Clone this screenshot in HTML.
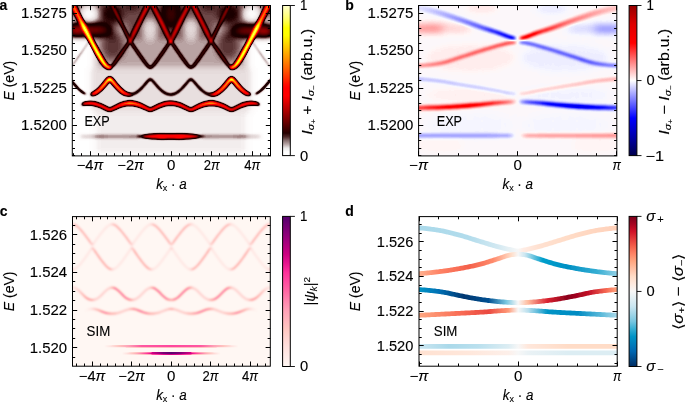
<!DOCTYPE html><html><head><meta charset="utf-8"><style>html,body{margin:0;padding:0;background:#fff;overflow:hidden}svg{display:block;will-change:transform}text{font-family:"Liberation Sans",sans-serif;fill:#000;stroke:#000;stroke-width:0.12px}</style></head><body><svg width="685" height="402" viewBox="0 0 685 402"><rect width="685" height="402" fill="#fff"/><defs><linearGradient id="ga" x1="0" y1="1" x2="0" y2="0"><stop offset="0.000" stop-color="#ffffff"/><stop offset="0.025" stop-color="#ffffff"/><stop offset="0.050" stop-color="#eae8e8"/><stop offset="0.075" stop-color="#b7a6a6"/><stop offset="0.100" stop-color="#887070"/><stop offset="0.125" stop-color="#4e2828"/><stop offset="0.150" stop-color="#270000"/><stop offset="0.175" stop-color="#3e0000"/><stop offset="0.200" stop-color="#550000"/><stop offset="0.225" stop-color="#6c0000"/><stop offset="0.250" stop-color="#820000"/><stop offset="0.275" stop-color="#980000"/><stop offset="0.300" stop-color="#ae0000"/><stop offset="0.325" stop-color="#c30000"/><stop offset="0.350" stop-color="#d80000"/><stop offset="0.375" stop-color="#ed0000"/><stop offset="0.400" stop-color="#ff0000"/><stop offset="0.425" stop-color="#ff0000"/><stop offset="0.450" stop-color="#ff0000"/><stop offset="0.475" stop-color="#ff0e00"/><stop offset="0.500" stop-color="#ff2200"/><stop offset="0.525" stop-color="#ff3600"/><stop offset="0.550" stop-color="#ff4900"/><stop offset="0.575" stop-color="#ff5c00"/><stop offset="0.600" stop-color="#ff6e00"/><stop offset="0.625" stop-color="#ff8000"/><stop offset="0.650" stop-color="#ff9300"/><stop offset="0.675" stop-color="#ffa400"/><stop offset="0.700" stop-color="#ffb600"/><stop offset="0.725" stop-color="#ffc800"/><stop offset="0.750" stop-color="#ffd900"/><stop offset="0.775" stop-color="#ffea00"/><stop offset="0.800" stop-color="#fffc00"/><stop offset="0.825" stop-color="#ffff00"/><stop offset="0.850" stop-color="#ffff00"/><stop offset="0.875" stop-color="#ffff2d"/><stop offset="0.900" stop-color="#ffff56"/><stop offset="0.925" stop-color="#ffff77"/><stop offset="0.950" stop-color="#ffff95"/><stop offset="0.975" stop-color="#ffffb2"/><stop offset="1.000" stop-color="#ffffce"/></linearGradient><linearGradient id="gb" x1="0" y1="1" x2="0" y2="0"><stop offset="0.000" stop-color="#00004c"/><stop offset="0.125" stop-color="#0000aa"/><stop offset="0.250" stop-color="#0000ff"/><stop offset="0.375" stop-color="#8181ff"/><stop offset="0.500" stop-color="#ffffff"/><stop offset="0.625" stop-color="#ff8181"/><stop offset="0.750" stop-color="#ff0000"/><stop offset="0.875" stop-color="#df0000"/><stop offset="1.000" stop-color="#950000"/></linearGradient><linearGradient id="gc" x1="0" y1="1" x2="0" y2="0"><stop offset="0.000" stop-color="#fff7f3"/><stop offset="0.062" stop-color="#ffece9"/><stop offset="0.125" stop-color="#ffe1de"/><stop offset="0.188" stop-color="#ffd4d0"/><stop offset="0.250" stop-color="#ffc6c1"/><stop offset="0.312" stop-color="#ffb3bc"/><stop offset="0.375" stop-color="#ffa0b7"/><stop offset="0.438" stop-color="#ff85ae"/><stop offset="0.500" stop-color="#ff68a4"/><stop offset="0.562" stop-color="#ff4da0"/><stop offset="0.625" stop-color="#ff319b"/><stop offset="0.688" stop-color="#e6148e"/><stop offset="0.750" stop-color="#cc0081"/><stop offset="0.812" stop-color="#ae007e"/><stop offset="0.875" stop-color="#8f007a"/><stop offset="0.938" stop-color="#720073"/><stop offset="1.000" stop-color="#54006c"/></linearGradient><linearGradient id="gd" x1="0" y1="1" x2="0" y2="0"><stop offset="0.000" stop-color="#002c62"/><stop offset="0.050" stop-color="#004a8a"/><stop offset="0.100" stop-color="#0066b0"/><stop offset="0.150" stop-color="#007dbb"/><stop offset="0.200" stop-color="#0094c6"/><stop offset="0.250" stop-color="#36aed3"/><stop offset="0.300" stop-color="#77c6e0"/><stop offset="0.350" stop-color="#a2d6e8"/><stop offset="0.400" stop-color="#cae6f1"/><stop offset="0.450" stop-color="#e1eff4"/><stop offset="0.500" stop-color="#f7f7f7"/><stop offset="0.550" stop-color="#ffeadf"/><stop offset="0.600" stop-color="#ffdcc7"/><stop offset="0.650" stop-color="#ffc1a5"/><stop offset="0.700" stop-color="#ffa781"/><stop offset="0.750" stop-color="#ff8466"/><stop offset="0.800" stop-color="#f4604b"/><stop offset="0.850" stop-color="#e33939"/><stop offset="0.900" stop-color="#d01127"/><stop offset="0.950" stop-color="#a50421"/><stop offset="1.000" stop-color="#79001a"/></linearGradient></defs><defs><clipPath id="clA"><rect x="72.3" y="5.5" width="198.2" height="150.4"/></clipPath><filter id="fA" filterUnits="userSpaceOnUse" x="60" y="0" width="225" height="165" color-interpolation-filters="sRGB"><feGaussianBlur stdDeviation="0.80"/><feComponentTransfer><feFuncR type="table" tableValues="1.000 0.993 0.986 0.962 0.935 0.907 0.879 0.830 0.745 0.659 0.571 0.480 0.386 0.289 0.187 0.105 0.105 0.105 0.105 0.140 0.181 0.222 0.262 0.301 0.341 0.380 0.418 0.456 0.494 0.532 0.570 0.607 0.644 0.681 0.718 0.755 0.792 0.828 0.864 0.900 0.936 0.972 1.000 1.000 1.000 1.000 1.000 1.000 1.000 1.000 1.000 1.000 1.000 1.000 1.000 1.000 1.000 1.000 1.000 1.000 1.000 1.000 1.000 1.000 1.000 1.000 1.000 1.000 1.000 1.000 1.000 1.000 1.000 1.000 1.000 1.000 1.000 1.000 1.000 1.000 1.000 1.000 1.000 1.000 1.000 1.000 1.000 1.000 1.000 1.000 1.000 1.000 1.000 1.000 1.000 1.000"/><feFuncG type="table" tableValues="1.000 0.988 0.976 0.944 0.907 0.870 0.832 0.769 0.662 0.554 0.443 0.338 0.240 0.139 0.033 0.000 0.000 0.000 0.000 0.000 0.000 0.000 0.000 0.000 0.000 0.000 0.000 0.000 0.000 0.000 0.000 0.000 0.000 0.000 0.000 0.000 0.000 0.000 0.000 0.000 0.000 0.000 0.000 0.000 0.000 0.000 0.000 0.003 0.021 0.054 0.090 0.125 0.159 0.193 0.226 0.259 0.292 0.324 0.356 0.388 0.420 0.452 0.483 0.514 0.545 0.576 0.607 0.637 0.668 0.698 0.729 0.759 0.789 0.819 0.849 0.878 0.908 0.938 0.967 0.997 1.000 1.000 1.000 1.000 1.000 1.000 1.000 1.000 1.000 1.000 1.000 1.000 1.000 1.000 1.000 1.000"/><feFuncB type="table" tableValues="1.000 0.988 0.976 0.944 0.907 0.870 0.832 0.769 0.662 0.554 0.443 0.338 0.240 0.139 0.033 0.000 0.000 0.000 0.000 0.000 0.000 0.000 0.000 0.000 0.000 0.000 0.000 0.000 0.000 0.000 0.000 0.000 0.000 0.000 0.000 0.000 0.000 0.000 0.000 0.000 0.000 0.000 0.000 0.000 0.000 0.000 0.000 0.000 0.000 0.000 0.000 0.000 0.000 0.000 0.000 0.000 0.000 0.000 0.000 0.000 0.000 0.000 0.000 0.000 0.000 0.000 0.000 0.000 0.000 0.000 0.000 0.000 0.000 0.000 0.000 0.000 0.000 0.000 0.000 0.000 0.000 0.000 0.000 0.000 0.000 0.128 0.217 0.287 0.349 0.407 0.462 0.515 0.567 0.617 0.667 0.715"/></feComponentTransfer></filter><filter id="fH" filterUnits="userSpaceOnUse" x="40" y="-30" width="260" height="220" color-interpolation-filters="sRGB"><feGaussianBlur stdDeviation="3.5"/></filter><linearGradient id="aoL" gradientUnits="userSpaceOnUse" x1="60.0" y1="0" x2="285.0" y2="0"><stop offset="0.0404" stop-color="#818181"/><stop offset="0.0765" stop-color="#8e8e8e"/><stop offset="0.0991" stop-color="#b0b0b0"/><stop offset="0.1216" stop-color="#e6e6e6"/><stop offset="0.1668" stop-color="#fbfbfb"/><stop offset="0.1983" stop-color="#e3e3e3"/><stop offset="0.2209" stop-color="#b0b0b0"/><stop offset="0.2299" stop-color="#000000"/></linearGradient><linearGradient id="aoR" gradientUnits="userSpaceOnUse" x1="60.0" y1="0" x2="285.0" y2="0"><stop offset="0.7532" stop-color="#000000"/><stop offset="0.7622" stop-color="#b0b0b0"/><stop offset="0.7848" stop-color="#e3e3e3"/><stop offset="0.8164" stop-color="#fbfbfb"/><stop offset="0.8615" stop-color="#e6e6e6"/><stop offset="0.8840" stop-color="#b0b0b0"/><stop offset="0.9066" stop-color="#8e8e8e"/><stop offset="0.9427" stop-color="#818181"/></linearGradient><linearGradient id="aL" gradientUnits="userSpaceOnUse" x1="60.0" y1="0" x2="285.0" y2="0"><stop offset="0.2119" stop-color="#000000"/><stop offset="0.2209" stop-color="#4a4a4a"/><stop offset="0.3111" stop-color="#464646"/><stop offset="0.6720" stop-color="#464646"/><stop offset="0.7622" stop-color="#4a4a4a"/><stop offset="0.7712" stop-color="#000000"/></linearGradient><linearGradient id="aLo1" gradientUnits="userSpaceOnUse" x1="60.0" y1="0" x2="285.0" y2="0"><stop offset="0.0404" stop-color="#292929"/><stop offset="0.0856" stop-color="#2d2d2d"/><stop offset="0.1216" stop-color="#212121"/><stop offset="0.1307" stop-color="#000000"/></linearGradient><linearGradient id="aLo2" gradientUnits="userSpaceOnUse" x1="60.0" y1="0" x2="285.0" y2="0"><stop offset="0.8524" stop-color="#000000"/><stop offset="0.8615" stop-color="#212121"/><stop offset="0.8976" stop-color="#2d2d2d"/><stop offset="0.9427" stop-color="#292929"/></linearGradient><linearGradient id="aU" gradientUnits="userSpaceOnUse" x1="60.0" y1="0" x2="285.0" y2="0"><stop offset="0.2119" stop-color="#000000"/><stop offset="0.2209" stop-color="#434343"/><stop offset="0.3021" stop-color="#4b4b4b"/><stop offset="0.3201" stop-color="#474747"/><stop offset="0.3923" stop-color="#4c4c4c"/><stop offset="0.4104" stop-color="#474747"/><stop offset="0.5728" stop-color="#474747"/><stop offset="0.5908" stop-color="#4c4c4c"/><stop offset="0.6630" stop-color="#474747"/><stop offset="0.6810" stop-color="#4b4b4b"/><stop offset="0.7622" stop-color="#434343"/><stop offset="0.7712" stop-color="#000000"/></linearGradient><linearGradient id="ab2" gradientUnits="userSpaceOnUse" x1="60.0" y1="0" x2="285.0" y2="0"><stop offset="0.0404" stop-color="#767676"/><stop offset="0.1081" stop-color="#6d6d6d"/><stop offset="0.1198" stop-color="#000000"/><stop offset="0.1325" stop-color="#000000"/><stop offset="0.1487" stop-color="#9d9d9d"/><stop offset="0.2028" stop-color="#cccccc"/><stop offset="0.2209" stop-color="#f0f0f0"/><stop offset="0.2389" stop-color="#c3c3c3"/><stop offset="0.2840" stop-color="#acacac"/><stop offset="0.3111" stop-color="#7c7c7c"/><stop offset="0.3246" stop-color="#464646"/><stop offset="0.6585" stop-color="#464646"/><stop offset="0.6720" stop-color="#7c7c7c"/><stop offset="0.6991" stop-color="#acacac"/><stop offset="0.7442" stop-color="#c3c3c3"/><stop offset="0.7622" stop-color="#f0f0f0"/><stop offset="0.7803" stop-color="#cccccc"/><stop offset="0.8164" stop-color="#a6a6a6"/><stop offset="0.8389" stop-color="#8a8a8a"/><stop offset="0.8506" stop-color="#000000"/><stop offset="0.8633" stop-color="#000000"/><stop offset="0.8750" stop-color="#6d6d6d"/><stop offset="0.9427" stop-color="#767676"/></linearGradient><linearGradient id="ab3" gradientUnits="userSpaceOnUse" x1="60.0" y1="0" x2="285.0" y2="0"><stop offset="0.0901" stop-color="#000000"/><stop offset="0.1081" stop-color="#7d7d7d"/><stop offset="0.1307" stop-color="#888888"/><stop offset="0.2209" stop-color="#828282"/><stop offset="0.2660" stop-color="#909090"/><stop offset="0.3111" stop-color="#b3b3b3"/><stop offset="0.3472" stop-color="#a8a8a8"/><stop offset="0.4013" stop-color="#828282"/><stop offset="0.4464" stop-color="#858585"/><stop offset="0.4916" stop-color="#8d8d8d"/><stop offset="0.5367" stop-color="#858585"/><stop offset="0.5818" stop-color="#828282"/><stop offset="0.6359" stop-color="#a8a8a8"/><stop offset="0.6720" stop-color="#b3b3b3"/><stop offset="0.7171" stop-color="#909090"/><stop offset="0.7622" stop-color="#828282"/><stop offset="0.8524" stop-color="#888888"/><stop offset="0.8750" stop-color="#7d7d7d"/><stop offset="0.8930" stop-color="#000000"/></linearGradient><linearGradient id="ab4" gradientUnits="userSpaceOnUse" x1="60.0" y1="0" x2="285.0" y2="0"><stop offset="0.0765" stop-color="#000000"/><stop offset="0.1036" stop-color="#0e0e0e"/><stop offset="0.1668" stop-color="#111111"/><stop offset="0.2209" stop-color="#0e0e0e"/><stop offset="0.3382" stop-color="#0f0f0f"/><stop offset="0.3607" stop-color="#2d2d2d"/><stop offset="0.3743" stop-color="#5b5b5b"/><stop offset="0.4013" stop-color="#6d6d6d"/><stop offset="0.4464" stop-color="#767676"/><stop offset="0.4916" stop-color="#6e6e6e"/><stop offset="0.5367" stop-color="#767676"/><stop offset="0.5818" stop-color="#6d6d6d"/><stop offset="0.6088" stop-color="#5b5b5b"/><stop offset="0.6224" stop-color="#2d2d2d"/><stop offset="0.6449" stop-color="#0f0f0f"/><stop offset="0.7622" stop-color="#0e0e0e"/><stop offset="0.8164" stop-color="#111111"/><stop offset="0.8795" stop-color="#0e0e0e"/><stop offset="0.9066" stop-color="#000000"/></linearGradient></defs><g clip-path="url(#clA)"><g filter="url(#fA)"><rect x="60" y="0" width="225" height="165" fill="#000"/><g filter="url(#fH)"><rect x="60.0" y="-10.0" width="225.0" height="48.0" fill="#1f1f1f" style="mix-blend-mode:plus-lighter"/><rect x="94.0" y="38.0" width="154.0" height="30.0" fill="#161616" style="mix-blend-mode:plus-lighter"/><rect x="90.0" y="68.0" width="162.0" height="44.0" fill="#0d0d0d" style="mix-blend-mode:plus-lighter"/><rect x="95.0" y="112.0" width="152.0" height="42.0" fill="#090909" style="mix-blend-mode:plus-lighter"/><ellipse cx="112.0" cy="14.0" rx="11.0" ry="9.0" fill="#0a0a0a" style="mix-blend-mode:plus-lighter"/><ellipse cx="229.0" cy="14.0" rx="11.0" ry="9.0" fill="#0a0a0a" style="mix-blend-mode:plus-lighter"/><ellipse cx="171.0" cy="14.0" rx="8.0" ry="12.0" fill="#1a1a1a" style="mix-blend-mode:plus-lighter"/><ellipse cx="132.0" cy="6.0" rx="8.0" ry="4.0" fill="#080808" style="mix-blend-mode:plus-lighter"/><ellipse cx="209.0" cy="6.0" rx="8.0" ry="4.0" fill="#080808" style="mix-blend-mode:plus-lighter"/><ellipse cx="113.0" cy="47.0" rx="11.0" ry="13.0" fill="#0b0b0b" style="mix-blend-mode:plus-lighter"/><ellipse cx="228.0" cy="47.0" rx="11.0" ry="13.0" fill="#0b0b0b" style="mix-blend-mode:plus-lighter"/><ellipse cx="88.0" cy="30.0" rx="22.0" ry="4.5" fill="#333333" style="mix-blend-mode:plus-lighter"/><ellipse cx="253.0" cy="31.0" rx="20.0" ry="4.5" fill="#333333" style="mix-blend-mode:plus-lighter"/><ellipse cx="76.0" cy="30.0" rx="6.0" ry="4.0" fill="#262626" style="mix-blend-mode:plus-lighter"/><ellipse cx="266.0" cy="31.0" rx="6.0" ry="4.0" fill="#262626" style="mix-blend-mode:plus-lighter"/><ellipse cx="89.0" cy="14.0" rx="9.0" ry="9.0" fill="#000" fill-opacity="0.90"/><ellipse cx="252.0" cy="14.0" rx="9.0" ry="9.0" fill="#000" fill-opacity="0.90"/><ellipse cx="73.0" cy="22.0" rx="3.0" ry="6.0" fill="#000" fill-opacity="0.80"/><ellipse cx="268.0" cy="22.0" rx="3.0" ry="6.0" fill="#000" fill-opacity="0.80"/><ellipse cx="150.0" cy="29.0" rx="8.0" ry="11.0" fill="#000" fill-opacity="0.50"/><ellipse cx="191.0" cy="29.0" rx="8.0" ry="11.0" fill="#000" fill-opacity="0.50"/><ellipse cx="122.0" cy="30.0" rx="5.0" ry="8.0" fill="#000" fill-opacity="0.30"/><ellipse cx="219.0" cy="30.0" rx="5.0" ry="8.0" fill="#000" fill-opacity="0.30"/><ellipse cx="78.0" cy="62.0" rx="8.0" ry="24.0" fill="#000" fill-opacity="0.80"/><ellipse cx="263.0" cy="62.0" rx="8.0" ry="24.0" fill="#000" fill-opacity="0.80"/></g><path d="M60.0 -24.5 61.0 -22.6 62.0 -20.6 63.0 -18.6 64.0 -16.6 65.0 -14.6 66.0 -12.6 67.0 -10.7 68.0 -8.7 69.0 -6.7 70.0 -4.7 71.0 -2.7 72.0 -0.8 73.0 1.2 74.0 3.2 75.0 5.2 76.0 7.1 77.0 9.1 78.0 11.1 79.0 13.1 80.0 15.1 81.0 17.1 82.0 19.1 83.0 21.1 84.0 23.1 85.0 25.1 86.0 27.1 87.0 29.1 88.0 31.0 89.0 32.9 90.0 34.9 91.0 36.8 92.0 38.7 93.0 40.6 94.0 42.5 95.0 44.3 96.0 46.2 97.0 48.1 98.0 49.9 99.0 51.8 100.0 53.6 101.0 55.4 102.0 57.1 103.0 58.8 104.0 60.4 105.0 61.9 106.0 63.3 107.0 64.5 108.0 65.5 109.0 66.0 110.0 66.3 111.0 66.3 111.0 68.2 110.0 68.7 109.0 68.8 108.0 68.6 107.0 68.2 106.0 67.6 105.0 66.8 104.0 65.8 103.0 64.6 102.0 63.3 101.0 61.9 100.0 60.3 99.0 58.8 98.0 57.1 97.0 55.4 96.0 53.7 95.0 51.9 94.0 50.1 93.0 48.2 92.0 46.4 91.0 44.5 90.0 42.6 89.0 40.7 88.0 38.8 87.0 36.9 86.0 35.0 85.0 33.1 84.0 31.3 83.0 29.4 82.0 27.5 81.0 25.6 80.0 23.7 79.0 21.7 78.0 19.8 77.0 17.9 76.0 15.9 75.0 14.0 74.0 12.0 73.0 10.0 72.0 8.1 71.0 6.1 70.0 4.1 69.0 2.2 68.0 0.2 67.0 -1.8 66.0 -3.8 65.0 -5.7 64.0 -7.7 63.0 -9.7 62.0 -11.7 61.0 -13.7 60.0 -15.7Z" fill="url(#aoL)" style="mix-blend-mode:plus-lighter"/><path d="M229.5 66.0 230.5 66.3 231.5 66.2 232.5 65.9 233.5 65.3 234.5 64.2 235.5 63.0 236.5 61.5 237.5 60.0 238.5 58.4 239.5 56.7 240.5 54.9 241.5 53.1 242.5 51.3 243.5 49.4 244.5 47.6 245.5 45.7 246.5 43.8 247.5 42.0 248.5 40.1 249.5 38.2 250.5 36.3 251.5 34.3 252.5 32.4 253.5 30.5 254.5 28.5 255.5 26.5 256.5 24.6 257.5 22.6 258.5 20.6 259.5 18.6 260.5 16.6 261.5 14.6 262.5 12.6 263.5 10.5 264.5 8.6 265.5 6.6 266.5 4.6 267.5 2.6 268.5 0.7 269.5 -1.3 270.5 -3.3 271.5 -5.3 272.5 -7.2 273.5 -9.2 274.5 -11.2 275.5 -13.2 276.5 -15.2 277.5 -17.1 278.5 -19.1 279.5 -21.1 280.5 -23.1 281.5 -25.1 282.5 -27.1 283.5 -29.0 284.5 -31.0 284.5 -22.1 283.5 -20.2 282.5 -18.2 281.5 -16.2 280.5 -14.2 279.5 -12.2 278.5 -10.2 277.5 -8.3 276.5 -6.3 275.5 -4.3 274.5 -2.3 273.5 -0.3 272.5 1.6 271.5 3.6 270.5 5.6 269.5 7.5 268.5 9.5 267.5 11.5 266.5 13.4 265.5 15.4 264.5 17.4 263.5 19.3 262.5 21.2 261.5 23.1 260.5 25.0 259.5 26.9 258.5 28.8 257.5 30.7 256.5 32.6 255.5 34.5 254.5 36.4 253.5 38.3 252.5 40.2 251.5 42.1 250.5 44.0 249.5 45.9 248.5 47.7 247.5 49.6 246.5 51.4 245.5 53.2 244.5 55.0 243.5 56.7 242.5 58.3 241.5 59.9 240.5 61.5 239.5 62.9 238.5 64.3 237.5 65.5 236.5 66.6 235.5 67.4 234.5 68.1 233.5 68.5 232.5 68.8 231.5 68.8 230.5 68.4 229.5 67.7Z" fill="url(#aoR)" style="mix-blend-mode:plus-lighter"/><path d="M107.7 65.5 108.7 66.3 109.7 66.7 110.7 66.4 111.7 65.5 112.7 64.3 113.7 63.0 114.7 61.7 115.7 60.3 116.7 58.9 117.7 57.5 118.7 56.1 119.7 54.7 120.7 53.2 121.7 51.8 122.7 50.3 123.7 48.9 124.7 47.4 125.7 46.0 126.7 44.5 127.7 43.1 128.7 41.6 129.7 40.6 130.7 40.9 131.7 42.1 132.7 43.6 133.7 45.0 134.7 46.5 135.7 47.9 136.7 49.4 137.7 50.8 138.7 52.3 139.7 53.7 140.7 55.2 141.7 56.6 142.7 58.0 143.7 59.4 144.7 60.8 145.7 62.2 146.7 63.5 147.7 64.7 148.7 65.8 149.7 66.6 150.7 66.7 151.7 66.1 152.7 65.0 153.7 63.8 154.7 62.5 155.7 61.2 156.7 59.8 157.7 58.4 158.7 57.0 159.7 55.5 160.7 54.1 161.7 52.7 162.7 51.2 163.7 49.8 164.7 48.3 165.7 46.9 166.7 45.4 167.7 44.0 168.7 42.5 169.7 41.1 170.7 40.3 171.7 41.2 172.7 42.7 173.7 44.2 174.7 45.6 175.7 47.1 176.7 48.5 177.7 50.0 178.7 51.4 179.7 52.9 180.7 54.3 181.7 55.7 182.7 57.2 183.7 58.6 184.7 60.0 185.7 61.3 186.7 62.7 187.7 64.0 188.7 65.2 189.7 66.2 190.7 66.7 191.7 66.5 192.7 65.7 193.7 64.5 194.7 63.3 195.7 62.0 196.7 60.6 197.7 59.2 198.7 57.8 199.7 56.4 200.7 55.0 201.7 53.5 202.7 52.1 203.7 50.6 204.7 49.2 205.7 47.7 206.7 46.3 207.7 44.8 208.7 43.4 209.7 41.9 210.7 40.8 211.7 40.8 212.7 41.8 213.7 43.3 214.7 44.7 215.7 46.2 216.7 47.6 217.7 49.1 218.7 50.6 219.7 52.0 220.7 53.4 221.7 54.9 222.7 56.3 223.7 57.7 224.7 59.1 225.7 60.5 226.7 61.9 227.7 63.2 228.7 64.5 229.7 65.6 230.7 66.5 231.7 66.7 232.7 66.3 232.7 67.9 231.7 68.2 230.7 68.1 229.7 67.6 228.7 66.7 227.7 65.6 226.7 64.4 225.7 63.1 224.7 61.7 223.7 60.3 222.7 58.9 221.7 57.5 220.7 56.1 219.7 54.6 218.7 53.2 217.7 51.7 216.7 50.3 215.7 48.8 214.7 47.4 213.7 45.9 212.7 44.5 211.7 42.6 210.7 42.7 209.7 44.6 208.7 46.0 207.7 47.5 206.7 48.9 205.7 50.4 204.7 51.8 203.7 53.3 202.7 54.7 201.7 56.1 200.7 57.6 199.7 59.0 198.7 60.4 197.7 61.8 196.7 63.1 195.7 64.4 194.7 65.7 193.7 66.8 192.7 67.6 191.7 68.1 190.7 68.2 189.7 68.0 188.7 67.3 187.7 66.3 186.7 65.1 185.7 63.8 184.7 62.5 183.7 61.1 182.7 59.8 181.7 58.3 180.7 56.9 179.7 55.5 178.7 54.1 177.7 52.6 176.7 51.2 175.7 49.7 174.7 48.3 173.7 46.8 172.7 45.3 171.7 43.9 170.7 41.9 169.7 43.6 168.7 45.1 167.7 46.6 166.7 48.1 165.7 49.5 164.7 51.0 163.7 52.4 162.7 53.9 161.7 55.3 160.7 56.7 159.7 58.1 158.7 59.6 157.7 61.0 156.7 62.3 155.7 63.7 154.7 64.9 153.7 66.1 152.7 67.1 151.7 67.9 150.7 68.2 149.7 68.2 148.7 67.7 147.7 66.9 146.7 65.8 145.7 64.6 144.7 63.3 143.7 62.0 142.7 60.6 141.7 59.2 140.7 57.8 139.7 56.3 138.7 54.9 137.7 53.5 136.7 52.0 135.7 50.6 134.7 49.1 133.7 47.7 132.7 46.2 131.7 44.8 130.7 43.0 129.7 42.3 128.7 44.3 127.7 45.7 126.7 47.2 125.7 48.6 124.7 50.1 123.7 51.5 122.7 53.0 121.7 54.4 120.7 55.9 119.7 57.3 118.7 58.7 117.7 60.1 116.7 61.5 115.7 62.9 114.7 64.2 113.7 65.4 112.7 66.6 111.7 67.5 110.7 68.1 109.7 68.2 108.7 68.0 107.7 67.4Z" fill="url(#aL)" style="mix-blend-mode:plus-lighter"/><path d="M69.1 66.8 70.1 66.4 71.1 65.5 72.1 64.3 73.1 63.1 74.1 61.7 75.1 60.4 76.1 59.0 77.1 57.6 78.1 56.1 79.1 54.7 80.1 53.3 81.1 51.8 82.1 50.4 83.1 48.9 84.1 47.5 85.1 46.0 86.1 44.6 87.1 43.1 88.1 41.7 89.1 40.2 89.1 42.7 88.1 44.1 87.1 45.6 86.1 47.1 85.1 48.5 84.1 50.0 83.1 51.4 82.1 52.9 81.1 54.3 80.1 55.7 79.1 57.2 78.1 58.6 77.1 60.0 76.1 61.4 75.1 62.7 74.1 64.1 73.1 65.3 72.1 66.5 71.1 67.4 70.1 68.0 69.1 68.2Z" fill="url(#aLo1)" style="mix-blend-mode:plus-lighter"/><path d="M251.8 39.8 252.8 41.2 253.8 42.7 254.8 44.1 255.8 45.6 256.8 47.1 257.8 48.5 258.8 50.0 259.8 51.4 260.8 52.8 261.8 54.3 262.8 55.7 263.8 57.1 264.8 58.6 265.8 60.0 266.8 61.3 267.8 62.7 268.8 64.0 269.8 65.2 270.8 66.2 271.8 66.7 271.8 68.2 270.8 67.9 269.8 67.1 268.8 66.1 267.8 64.9 266.8 63.7 265.8 62.3 264.8 61.0 263.8 59.6 262.8 58.2 261.8 56.7 260.8 55.3 259.8 53.9 258.8 52.4 257.8 51.0 256.8 49.5 255.8 48.1 254.8 46.6 253.8 45.2 252.8 43.7 251.8 42.2Z" fill="url(#aLo2)" style="mix-blend-mode:plus-lighter"/><path d="M107.7 2.8 108.7 1.2 109.7 0.7 110.7 1.2 111.7 2.7 112.7 4.6 113.7 6.6 114.7 8.5 115.7 10.5 116.7 12.5 117.7 14.5 118.7 16.5 119.7 18.5 120.7 20.5 121.7 22.5 122.7 24.5 123.7 26.5 124.7 28.5 125.7 30.5 126.7 32.5 127.7 34.5 128.7 36.2 129.7 38.9 130.7 37.2 131.7 33.8 132.7 31.6 133.7 29.6 134.7 27.6 135.7 25.6 136.7 23.6 137.7 21.6 138.7 19.6 139.7 17.6 140.7 15.6 141.7 13.6 142.7 11.6 143.7 9.6 144.7 7.6 145.7 5.6 146.7 3.7 147.7 1.8 148.7 0.0 149.7 -0.5 150.7 -0.4 151.7 -0.3 152.7 1.3 153.7 3.2 154.7 5.1 155.7 7.1 156.7 9.1 157.7 11.1 158.7 13.1 159.7 15.1 160.7 17.1 161.7 19.1 162.7 21.1 163.7 23.1 164.7 25.1 165.7 27.1 166.7 29.1 167.7 31.1 168.7 33.1 169.7 35.3 170.7 39.0 171.7 34.8 172.7 32.8 173.7 30.8 174.7 28.8 175.7 26.8 176.7 24.8 177.7 22.8 178.7 20.8 179.7 18.8 180.7 16.8 181.7 14.8 182.7 12.8 183.7 10.8 184.7 8.8 185.7 6.8 186.7 4.8 187.7 2.9 188.7 1.0 189.7 -0.5 190.7 -0.3 191.7 -0.6 192.7 0.2 193.7 2.0 194.7 3.9 195.7 5.9 196.7 7.9 197.7 9.9 198.7 11.9 199.7 13.9 200.7 15.9 201.7 17.9 202.7 19.9 203.7 21.9 204.7 23.9 205.7 25.9 206.7 27.9 207.7 29.9 208.7 31.9 209.7 34.2 210.7 37.9 211.7 38.4 212.7 36.0 213.7 34.3 214.7 32.3 215.7 30.3 216.7 28.2 217.7 26.2 218.7 24.2 219.7 22.2 220.7 20.2 221.7 18.2 222.7 16.2 223.7 14.2 224.7 12.2 225.7 10.2 226.7 8.3 227.7 6.3 228.7 4.3 229.7 2.4 230.7 1.0 231.7 0.7 232.7 1.6 232.7 4.3 231.7 2.4 230.7 3.7 229.7 5.8 228.7 7.8 227.7 9.8 226.7 11.8 225.7 13.8 224.7 15.8 223.7 17.8 222.7 19.8 221.7 21.8 220.7 23.8 219.7 25.8 218.7 27.8 217.7 29.8 216.7 31.8 215.7 33.8 214.7 35.8 213.7 37.8 212.7 40.2 211.7 41.7 210.7 42.0 209.7 41.7 208.7 40.0 207.7 38.0 206.7 36.0 205.7 33.9 204.7 31.9 203.7 29.9 202.7 27.9 201.7 25.9 200.7 23.9 199.7 21.9 198.7 19.9 197.7 17.9 196.7 15.9 195.7 13.9 194.7 11.9 193.7 9.9 192.7 7.8 191.7 5.1 190.7 3.5 189.7 6.5 188.7 8.8 187.7 10.8 186.7 12.8 185.7 14.8 184.7 16.8 183.7 18.8 182.7 20.8 181.7 22.9 180.7 24.9 179.7 26.9 178.7 28.9 177.7 30.9 176.7 32.9 175.7 34.9 174.7 36.9 173.7 38.9 172.7 40.9 171.7 42.9 170.7 42.7 169.7 42.9 168.7 41.2 167.7 39.2 166.7 37.2 165.7 35.2 164.7 33.1 163.7 31.1 162.7 29.1 161.7 27.1 160.7 25.1 159.7 23.1 158.7 21.1 157.7 19.1 156.7 17.1 155.7 15.1 154.7 13.1 153.7 11.1 152.7 9.1 151.7 6.9 150.7 3.8 149.7 4.6 148.7 7.5 147.7 9.6 146.7 11.6 145.7 13.6 144.7 15.6 143.7 17.6 142.7 19.6 141.7 21.7 140.7 23.7 139.7 25.7 138.7 27.7 137.7 29.7 136.7 31.7 135.7 33.7 134.7 35.7 133.7 37.7 132.7 39.7 131.7 41.5 130.7 42.1 129.7 41.8 128.7 40.5 127.7 38.1 126.7 36.1 125.7 34.1 124.7 32.1 123.7 30.1 122.7 28.1 121.7 26.1 120.7 24.1 119.7 22.1 118.7 20.1 117.7 18.1 116.7 16.1 115.7 14.1 114.7 12.1 113.7 10.1 112.7 8.1 111.7 6.1 110.7 4.0 109.7 2.3 108.7 4.1 107.7 6.2Z" fill="url(#aU)" style="mix-blend-mode:plus-lighter"/><path d="M60.0 87.6 61.0 86.6 62.0 85.4 63.0 84.3 64.0 83.1 65.0 81.9 66.0 80.7 67.0 79.7 68.0 78.9 69.0 78.6 70.0 78.8 71.0 79.5 72.0 80.5 73.0 81.7 74.0 82.9 75.0 84.1 76.0 85.2 77.0 86.3 78.0 87.4 79.0 88.4 80.0 89.4 81.0 90.3 82.0 91.1 83.0 91.8 84.0 92.4 85.0 92.9 86.0 93.3 87.0 93.6 88.0 93.7 89.0 93.6 90.0 93.5 91.0 93.3 92.0 93.0 93.0 92.6 94.0 92.1 95.0 91.5 96.0 90.8 97.0 90.0 98.0 89.2 99.0 88.2 100.0 87.2 101.0 86.1 102.0 85.0 103.0 83.8 104.0 82.6 105.0 81.3 106.0 80.1 107.0 79.0 108.0 78.1 109.0 77.6 110.0 77.6 111.0 77.8 112.0 78.6 113.0 79.6 114.0 80.8 115.0 82.0 116.0 83.3 117.0 84.5 118.0 85.6 119.0 86.7 120.0 87.7 121.0 88.7 122.0 89.6 123.0 90.4 124.0 91.2 125.0 91.9 126.0 92.5 127.0 92.9 128.0 93.3 129.0 93.6 130.0 93.7 131.0 93.7 132.0 93.6 133.0 93.5 134.0 93.1 135.0 92.6 136.0 92.0 137.0 91.3 138.0 90.6 139.0 89.7 140.0 88.8 141.0 87.8 142.0 86.8 143.0 85.7 144.0 84.5 145.0 83.3 146.0 82.1 147.0 81.0 148.0 79.9 149.0 79.0 150.0 78.6 151.0 78.7 152.0 79.3 153.0 80.3 154.0 81.4 155.0 82.6 156.0 83.8 157.0 85.0 158.0 86.1 159.0 87.2 160.0 88.2 161.0 89.2 162.0 90.1 163.0 90.9 164.0 91.6 165.0 92.3 166.0 92.8 167.0 93.2 168.0 93.6 169.0 93.8 170.0 93.9 171.0 93.9 172.0 93.8 173.0 93.6 174.0 93.3 175.0 92.9 176.0 92.4 177.0 91.8 178.0 91.1 179.0 90.3 180.0 89.4 181.0 88.4 182.0 87.4 183.0 86.3 184.0 85.2 185.0 84.1 186.0 82.9 187.0 81.7 188.0 80.5 189.0 79.5 190.0 78.8 191.0 78.6 192.0 78.9 193.0 79.7 194.0 80.7 195.0 81.9 196.0 83.1 197.0 84.3 198.0 85.4 199.0 86.6 200.0 87.6 201.0 88.6 202.0 89.6 203.0 90.4 204.0 91.2 205.0 91.9 206.0 92.5 207.0 93.0 208.0 93.4 209.0 93.6 210.0 93.7 211.0 93.7 212.0 93.6 213.0 93.4 214.0 93.0 215.0 92.6 216.0 92.0 217.0 91.3 218.0 90.6 219.0 89.8 220.0 88.9 221.0 87.9 222.0 86.9 223.0 85.8 224.0 84.7 225.0 83.5 226.0 82.3 227.0 81.1 228.0 79.9 229.0 78.8 230.0 77.9 231.0 77.6 232.0 77.6 233.0 77.9 234.0 78.8 235.0 79.9 236.0 81.1 237.0 82.3 238.0 83.5 239.0 84.7 240.0 85.8 241.0 86.9 242.0 88.0 243.0 88.9 244.0 89.8 245.0 90.7 246.0 91.4 247.0 92.1 248.0 92.6 249.0 93.1 250.0 93.5 251.0 93.8 252.0 93.9 253.0 93.9 254.0 93.7 255.0 93.4 256.0 93.0 257.0 92.5 258.0 91.9 259.0 91.2 260.0 90.4 261.0 89.6 262.0 88.6 263.0 87.6 264.0 86.6 265.0 85.4 266.0 84.3 267.0 83.1 268.0 81.9 269.0 80.7 270.0 79.7 271.0 78.9 272.0 78.6 273.0 78.8 274.0 79.5 275.0 80.5 276.0 81.7 277.0 82.9 278.0 84.1 279.0 85.2 280.0 86.3 281.0 87.4 282.0 88.4 283.0 89.4 284.0 90.3 285.0 91.0 285.0 92.7 284.0 91.9 283.0 91.1 282.0 90.2 281.0 89.3 280.0 88.2 279.0 87.2 278.0 86.0 277.0 84.9 276.0 83.7 275.0 82.5 274.0 81.3 273.0 80.3 272.0 79.9 271.0 80.5 270.0 81.5 269.0 82.7 268.0 83.9 267.0 85.1 266.0 86.3 265.0 87.4 264.0 88.5 263.0 89.5 262.0 90.4 261.0 91.3 260.0 92.1 259.0 92.8 258.0 93.4 257.0 94.0 256.0 94.4 255.0 94.8 254.0 95.0 253.0 95.2 252.0 95.2 251.0 95.3 250.0 95.3 249.0 95.3 248.0 95.1 247.0 94.8 246.0 94.4 245.0 93.9 244.0 93.3 243.0 92.6 242.0 91.8 241.0 90.9 240.0 90.0 239.0 89.0 238.0 88.0 237.0 86.9 236.0 85.7 235.0 84.5 234.0 83.3 233.0 82.1 232.0 81.0 231.0 81.0 230.0 82.1 229.0 83.3 228.0 84.5 227.0 85.7 226.0 86.9 225.0 88.0 224.0 89.0 223.0 90.0 222.0 91.0 221.0 91.8 220.0 92.6 219.0 93.3 218.0 94.0 217.0 94.5 216.0 94.9 215.0 95.2 214.0 95.4 213.0 95.5 212.0 95.5 211.0 95.5 210.0 95.3 209.0 95.1 208.0 94.8 207.0 94.4 206.0 94.0 205.0 93.4 204.0 92.8 203.0 92.1 202.0 91.3 201.0 90.4 200.0 89.5 199.0 88.5 198.0 87.4 197.0 86.3 196.0 85.1 195.0 83.9 194.0 82.7 193.0 81.5 192.0 80.5 191.0 79.9 190.0 80.3 189.0 81.3 188.0 82.5 187.0 83.7 186.0 84.9 185.0 86.0 184.0 87.2 183.0 88.2 182.0 89.3 181.0 90.2 180.0 91.1 179.0 91.9 178.0 92.7 177.0 93.3 176.0 93.9 175.0 94.3 174.0 94.7 173.0 95.0 172.0 95.2 171.0 95.2 170.0 95.2 169.0 95.1 168.0 94.9 167.0 94.6 166.0 94.2 165.0 93.8 164.0 93.2 163.0 92.5 162.0 91.8 161.0 90.9 160.0 90.0 159.0 89.1 158.0 88.0 157.0 86.9 156.0 85.8 155.0 84.6 154.0 83.4 153.0 82.3 152.0 81.1 151.0 80.1 150.0 79.9 149.0 80.7 148.0 81.8 147.0 83.0 146.0 84.2 145.0 85.3 144.0 86.5 143.0 87.6 142.0 88.7 141.0 89.7 140.0 90.6 139.0 91.4 138.0 92.2 137.0 92.9 136.0 93.5 135.0 94.1 134.0 94.5 133.0 94.8 132.0 95.1 131.0 95.4 130.0 95.5 129.0 95.5 128.0 95.5 127.0 95.3 126.0 95.1 125.0 94.8 124.0 94.4 123.0 93.8 122.0 93.2 121.0 92.5 120.0 91.7 119.0 90.8 118.0 89.8 117.0 88.8 116.0 87.8 115.0 86.6 114.0 85.5 113.0 84.3 112.0 83.1 111.0 81.8 110.0 80.9 109.0 81.2 108.0 82.3 107.0 83.6 106.0 84.8 105.0 85.9 104.0 87.1 103.0 88.2 102.0 89.2 101.0 90.2 100.0 91.1 99.0 91.9 98.0 92.7 97.0 93.4 96.0 94.0 95.0 94.5 94.0 95.0 93.0 95.3 92.0 95.5 91.0 95.6 90.0 95.7 89.0 95.6 88.0 95.3 87.0 95.0 86.0 94.7 85.0 94.3 84.0 93.9 83.0 93.3 82.0 92.7 81.0 91.9 80.0 91.1 79.0 90.2 78.0 89.3 77.0 88.2 76.0 87.2 75.0 86.0 74.0 84.9 73.0 83.7 72.0 82.5 71.0 81.3 70.0 80.3 69.0 79.9 68.0 80.5 67.0 81.5 66.0 82.7 65.0 83.9 64.0 85.1 63.0 86.3 62.0 87.4 61.0 88.5 60.0 89.5Z" fill="url(#ab2)" style="mix-blend-mode:plus-lighter"/><path d="M80.3 103.8 81.3 103.4 82.3 103.0 83.3 102.6 84.3 102.3 85.3 102.1 86.3 102.0 87.3 101.8 88.3 101.7 89.3 101.7 90.3 101.7 91.3 101.8 92.3 101.9 93.3 102.1 94.3 102.2 95.3 102.5 96.3 102.7 97.3 103.0 98.3 103.4 99.3 103.8 100.3 104.2 101.3 104.6 102.3 105.1 103.3 105.5 104.3 106.0 105.3 106.5 106.3 107.1 107.3 107.6 108.3 108.1 109.3 108.5 110.3 108.5 111.3 108.1 112.3 107.5 113.3 107.0 114.3 106.5 115.3 105.9 116.3 105.4 117.3 104.9 118.3 104.5 119.3 104.1 120.3 103.6 121.3 103.3 122.3 102.9 123.3 102.6 124.3 102.3 125.3 102.1 126.3 101.9 127.3 101.7 128.3 101.6 129.3 101.5 130.3 101.5 131.3 101.6 132.3 101.7 133.3 101.8 134.3 102.0 135.3 102.2 136.3 102.4 137.3 102.7 138.3 103.1 139.3 103.4 140.3 103.8 141.3 104.2 142.3 104.7 143.3 105.2 144.3 105.7 145.3 106.2 146.3 106.7 147.3 107.3 148.3 107.8 149.3 108.3 150.3 108.6 151.3 108.3 152.3 107.8 153.3 107.3 154.3 106.8 155.3 106.2 156.3 105.7 157.3 105.2 158.3 104.8 159.3 104.3 160.3 103.9 161.3 103.5 162.3 103.2 163.3 102.8 164.3 102.6 165.3 102.3 166.3 102.1 167.3 102.0 168.3 101.8 169.3 101.7 170.3 101.7 171.3 101.7 172.3 101.8 173.3 101.9 174.3 102.0 175.3 102.2 176.3 102.4 177.3 102.7 178.3 102.9 179.3 103.3 180.3 103.6 181.3 104.0 182.3 104.5 183.3 104.9 184.3 105.4 185.3 105.9 186.3 106.4 187.3 107.0 188.3 107.5 189.3 108.0 190.3 108.5 191.3 108.6 192.3 108.2 193.3 107.6 194.3 107.1 195.3 106.5 196.3 106.0 197.3 105.5 198.3 105.0 199.3 104.5 200.3 104.1 201.3 103.7 202.3 103.3 203.3 102.9 204.3 102.6 205.3 102.4 206.3 102.1 207.3 101.9 208.3 101.7 209.3 101.6 210.3 101.5 211.3 101.5 212.3 101.6 213.3 101.6 214.3 101.8 215.3 102.0 216.3 102.2 217.3 102.4 218.3 102.7 219.3 103.0 220.3 103.4 221.3 103.8 222.3 104.2 223.3 104.6 224.3 105.1 225.3 105.6 226.3 106.1 227.3 106.6 228.3 107.2 229.3 107.7 230.3 108.2 231.3 108.6 232.3 108.4 233.3 108.0 234.3 107.4 235.3 106.9 236.3 106.4 237.3 105.9 238.3 105.4 239.3 104.9 240.3 104.4 241.3 104.0 242.3 103.6 243.3 103.3 244.3 102.9 245.3 102.7 246.3 102.4 247.3 102.2 248.3 102.0 249.3 101.9 250.3 101.8 251.3 101.7 252.3 101.7 253.3 101.8 254.3 101.9 255.3 102.0 256.3 102.2 257.3 102.4 258.3 102.7 259.3 103.1 260.3 103.5 260.3 105.9 259.3 105.7 258.3 105.4 257.3 105.2 256.3 105.1 255.3 104.9 254.3 104.8 253.3 104.7 252.3 104.7 251.3 104.7 250.3 104.7 249.3 104.8 248.3 104.9 247.3 105.1 246.3 105.3 245.3 105.6 244.3 105.9 243.3 106.2 242.3 106.5 241.3 106.9 240.3 107.3 239.3 107.8 238.3 108.3 237.3 108.7 236.3 109.2 235.3 109.7 234.3 110.2 233.3 110.6 232.3 110.9 231.3 111.0 230.3 110.8 229.3 110.5 228.3 110.0 227.3 109.5 226.3 109.0 225.3 108.5 224.3 108.1 223.3 107.6 222.3 107.2 221.3 106.8 220.3 106.4 219.3 106.1 218.3 105.8 217.3 105.6 216.3 105.3 215.3 105.2 214.3 105.0 213.3 104.9 212.3 104.9 211.3 104.9 210.3 104.9 209.3 104.9 208.3 105.0 207.3 105.2 206.3 105.3 205.3 105.6 204.3 105.8 203.3 106.1 202.3 106.4 201.3 106.8 200.3 107.2 199.3 107.6 198.3 108.1 197.3 108.5 196.3 109.0 195.3 109.5 194.3 110.0 193.3 110.4 192.3 110.8 191.3 111.0 190.3 111.0 189.3 110.7 188.3 110.3 187.3 109.8 186.3 109.3 185.3 108.8 184.3 108.4 183.3 107.9 182.3 107.4 181.3 107.0 180.3 106.6 179.3 106.3 178.3 105.9 177.3 105.6 176.3 105.4 175.3 105.1 174.3 105.0 173.3 104.8 172.3 104.7 171.3 104.7 170.3 104.7 169.3 104.7 168.3 104.8 167.3 104.9 166.3 105.1 165.3 105.3 164.3 105.5 163.3 105.8 162.3 106.2 161.3 106.5 160.3 106.9 159.3 107.3 158.3 107.7 157.3 108.2 156.3 108.7 155.3 109.2 154.3 109.6 153.3 110.1 152.3 110.6 151.3 110.9 150.3 111.0 149.3 110.9 148.3 110.5 147.3 110.1 146.3 109.6 145.3 109.1 144.3 108.7 143.3 108.2 142.3 107.8 141.3 107.3 140.3 106.9 139.3 106.6 138.3 106.2 137.3 105.9 136.3 105.6 135.3 105.4 134.3 105.2 133.3 105.1 132.3 105.0 131.3 104.9 130.3 104.9 129.3 104.9 128.3 104.9 127.3 105.0 126.3 105.1 125.3 105.3 124.3 105.5 123.3 105.7 122.3 106.0 121.3 106.3 120.3 106.7 119.3 107.1 118.3 107.5 117.3 107.9 116.3 108.4 115.3 108.9 114.3 109.3 113.3 109.8 112.3 110.3 111.3 110.7 110.3 111.0 109.3 111.0 108.3 110.8 107.3 110.4 106.3 109.9 105.3 109.4 104.3 108.9 103.3 108.4 102.3 107.9 101.3 107.5 100.3 107.1 99.3 106.7 98.3 106.3 97.3 106.0 96.3 105.7 95.3 105.4 94.3 105.2 93.3 105.0 92.3 104.8 91.3 104.8 90.3 104.7 89.3 104.7 88.3 104.7 87.3 104.8 86.3 104.9 85.3 105.0 84.3 105.2 83.3 105.4 82.3 105.6 81.3 105.8 80.3 106.1Z" fill="url(#ab3)" style="mix-blend-mode:plus-lighter"/><path d="M77.2 133.9 78.2 133.9 79.2 133.9 80.2 133.9 81.2 133.9 82.2 133.9 83.2 133.9 84.2 133.9 85.2 133.9 86.2 133.9 87.2 133.9 88.2 133.9 89.2 133.9 90.2 133.9 91.2 133.9 92.2 133.9 93.2 133.9 94.2 133.9 95.2 133.9 96.2 133.9 97.2 133.9 98.2 133.9 99.2 133.9 100.2 133.9 101.2 133.9 102.2 133.9 103.2 133.9 104.2 133.9 105.2 133.9 106.2 133.9 107.2 133.9 108.2 133.9 109.2 133.9 110.2 133.9 111.2 133.9 112.2 133.9 113.2 133.9 114.2 133.9 115.2 133.9 116.2 133.9 117.2 133.9 118.2 133.9 119.2 133.9 120.2 133.9 121.2 133.9 122.2 133.9 123.2 133.9 124.2 133.9 125.2 133.9 126.2 133.9 127.2 133.9 128.2 133.9 129.2 133.9 130.2 133.9 131.2 133.9 132.2 133.9 133.2 133.9 134.2 133.9 135.2 133.9 136.2 133.9 137.2 134.2 138.2 134.5 139.2 134.8 140.2 135.1 141.2 135.4 142.2 135.3 143.2 135.2 144.2 135.1 145.2 135.0 146.2 134.9 147.2 134.8 148.2 134.7 149.2 134.6 150.2 134.5 151.2 134.4 152.2 134.4 153.2 134.3 154.2 134.3 155.2 134.2 156.2 134.2 157.2 134.1 158.2 134.0 159.2 134.0 160.2 133.9 161.2 133.9 162.2 133.9 163.2 133.9 164.2 133.9 165.2 133.9 166.2 134.0 167.2 134.0 168.2 134.0 169.2 134.0 170.2 134.0 171.2 134.0 172.2 134.0 173.2 134.0 174.2 134.0 175.2 134.0 176.2 133.9 177.2 133.9 178.2 133.9 179.2 133.9 180.2 133.9 181.2 133.9 182.2 134.0 183.2 134.0 184.2 134.1 185.2 134.2 186.2 134.2 187.2 134.3 188.2 134.3 189.2 134.4 190.2 134.5 191.2 134.5 192.2 134.6 193.2 134.7 194.2 134.8 195.2 134.9 196.2 135.0 197.2 135.1 198.2 135.2 199.2 135.3 200.2 135.3 201.2 135.0 202.2 134.8 203.2 134.5 204.2 134.2 205.2 133.9 206.2 133.9 207.2 133.9 208.2 133.9 209.2 133.9 210.2 133.9 211.2 133.9 212.2 133.9 213.2 133.9 214.2 133.9 215.2 133.9 216.2 133.9 217.2 133.9 218.2 133.9 219.2 133.9 220.2 133.9 221.2 133.9 222.2 133.9 223.2 133.9 224.2 133.9 225.2 133.9 226.2 133.9 227.2 133.9 228.2 133.9 229.2 133.9 230.2 133.9 231.2 133.9 232.2 133.9 233.2 133.9 234.2 133.9 235.2 133.9 236.2 133.9 237.2 133.9 238.2 133.9 239.2 133.9 240.2 133.9 241.2 133.9 242.2 133.9 243.2 133.9 244.2 133.9 245.2 133.9 246.2 133.9 247.2 133.9 248.2 133.9 249.2 133.9 250.2 133.9 251.2 133.9 252.2 133.9 253.2 133.9 254.2 133.9 255.2 133.9 256.2 133.9 257.2 133.9 258.2 133.9 259.2 133.9 260.2 133.9 261.2 133.9 262.2 133.9 263.2 133.9 263.2 138.9 262.2 138.9 261.2 138.9 260.2 138.9 259.2 138.9 258.2 138.9 257.2 138.9 256.2 138.9 255.2 138.9 254.2 138.9 253.2 138.9 252.2 138.9 251.2 138.9 250.2 138.9 249.2 138.9 248.2 138.9 247.2 138.9 246.2 138.9 245.2 138.9 244.2 138.9 243.2 138.9 242.2 138.9 241.2 138.9 240.2 138.9 239.2 138.9 238.2 138.9 237.2 138.9 236.2 138.9 235.2 138.9 234.2 138.9 233.2 138.9 232.2 138.9 231.2 138.9 230.2 138.9 229.2 138.9 228.2 138.9 227.2 138.9 226.2 138.9 225.2 138.9 224.2 138.9 223.2 138.9 222.2 138.9 221.2 138.9 220.2 138.9 219.2 138.9 218.2 138.9 217.2 138.9 216.2 138.9 215.2 138.9 214.2 138.9 213.2 138.9 212.2 138.9 211.2 138.9 210.2 138.9 209.2 138.9 208.2 138.9 207.2 138.9 206.2 138.9 205.2 138.9 204.2 138.6 203.2 138.3 202.2 138.0 201.2 137.8 200.2 137.5 199.2 137.5 198.2 137.6 197.2 137.7 196.2 137.8 195.2 137.9 194.2 138.0 193.2 138.1 192.2 138.2 191.2 138.3 190.2 138.3 189.2 138.4 188.2 138.5 187.2 138.5 186.2 138.6 185.2 138.6 184.2 138.7 183.2 138.8 182.2 138.8 181.2 138.9 180.2 138.9 179.2 138.9 178.2 138.9 177.2 138.9 176.2 138.9 175.2 138.8 174.2 138.8 173.2 138.8 172.2 138.8 171.2 138.8 170.2 138.8 169.2 138.8 168.2 138.8 167.2 138.8 166.2 138.8 165.2 138.9 164.2 138.9 163.2 138.9 162.2 138.9 161.2 138.9 160.2 138.9 159.2 138.8 158.2 138.8 157.2 138.7 156.2 138.6 155.2 138.6 154.2 138.5 153.2 138.5 152.2 138.4 151.2 138.4 150.2 138.3 149.2 138.2 148.2 138.1 147.2 138.0 146.2 137.9 145.2 137.8 144.2 137.7 143.2 137.6 142.2 137.5 141.2 137.4 140.2 137.7 139.2 138.0 138.2 138.3 137.2 138.6 136.2 138.9 135.2 138.9 134.2 138.9 133.2 138.9 132.2 138.9 131.2 138.9 130.2 138.9 129.2 138.9 128.2 138.9 127.2 138.9 126.2 138.9 125.2 138.9 124.2 138.9 123.2 138.9 122.2 138.9 121.2 138.9 120.2 138.9 119.2 138.9 118.2 138.9 117.2 138.9 116.2 138.9 115.2 138.9 114.2 138.9 113.2 138.9 112.2 138.9 111.2 138.9 110.2 138.9 109.2 138.9 108.2 138.9 107.2 138.9 106.2 138.9 105.2 138.9 104.2 138.9 103.2 138.9 102.2 138.9 101.2 138.9 100.2 138.9 99.2 138.9 98.2 138.9 97.2 138.9 96.2 138.9 95.2 138.9 94.2 138.9 93.2 138.9 92.2 138.9 91.2 138.9 90.2 138.9 89.2 138.9 88.2 138.9 87.2 138.9 86.2 138.9 85.2 138.9 84.2 138.9 83.2 138.9 82.2 138.9 81.2 138.9 80.2 138.9 79.2 138.9 78.2 138.9 77.2 138.9Z" fill="url(#ab4)" style="mix-blend-mode:plus-lighter"/></g></g><defs><clipPath id="clB"><rect x="418.6" y="5.5" width="198.2" height="150.4"/></clipPath><filter id="fB" filterUnits="userSpaceOnUse" x="400" y="0" width="235" height="165" color-interpolation-filters="sRGB"><feGaussianBlur stdDeviation="1.35"/><feComponentTransfer><feFuncR type="table" tableValues="0.000 0.000 0.000 0.000 0.000 0.000 0.000 0.000 0.000 0.000 0.000 0.000 0.000 0.000 0.000 0.000 0.001 0.048 0.122 0.193 0.263 0.331 0.397 0.463 0.528 0.593 0.657 0.720 0.783 0.845 0.908 0.969 1.000 1.000 1.000 1.000 1.000 1.000 1.000 1.000 1.000 1.000 1.000 1.000 1.000 1.000 1.000 1.000 1.000 1.000 1.000 1.000 0.989 0.953 0.917 0.880 0.844 0.808 0.771 0.734 0.697 0.660 0.623 0.585"/><feFuncG type="table" tableValues="0.000 0.000 0.000 0.000 0.000 0.000 0.000 0.000 0.000 0.000 0.000 0.000 0.000 0.000 0.000 0.000 0.001 0.048 0.122 0.193 0.263 0.331 0.397 0.463 0.528 0.593 0.657 0.720 0.783 0.845 0.908 0.969 0.969 0.908 0.845 0.783 0.720 0.657 0.593 0.528 0.463 0.397 0.331 0.263 0.193 0.122 0.048 0.001 0.000 0.000 0.000 0.000 0.000 0.000 0.000 0.000 0.000 0.000 0.000 0.000 0.000 0.000 0.000 0.000"/><feFuncB type="table" tableValues="0.299 0.347 0.395 0.442 0.489 0.536 0.582 0.628 0.673 0.718 0.764 0.808 0.853 0.897 0.942 0.986 1.000 1.000 1.000 1.000 1.000 1.000 1.000 1.000 1.000 1.000 1.000 1.000 1.000 1.000 1.000 1.000 0.969 0.908 0.845 0.783 0.720 0.657 0.593 0.528 0.463 0.397 0.331 0.263 0.193 0.122 0.048 0.001 0.000 0.000 0.000 0.000 0.000 0.000 0.000 0.000 0.000 0.000 0.000 0.000 0.000 0.000 0.000 0.000"/></feComponentTransfer></filter><filter id="fBh" filterUnits="userSpaceOnUse" x="380" y="-30" width="280" height="220" color-interpolation-filters="sRGB"><feGaussianBlur stdDeviation="3"/></filter><linearGradient id="bU" gradientUnits="userSpaceOnUse" x1="400" y1="0" x2="635" y2="0"><stop offset="0.0791" stop-color="#787878"/><stop offset="0.1424" stop-color="#707070"/><stop offset="0.2478" stop-color="#626262"/><stop offset="0.3533" stop-color="#505050"/><stop offset="0.4376" stop-color="#2f2f2f"/><stop offset="0.4840" stop-color="#242424"/><stop offset="0.4958" stop-color="#808080"/><stop offset="0.5059" stop-color="#808080"/><stop offset="0.5177" stop-color="#dbdbdb"/><stop offset="0.5430" stop-color="#dfdfdf"/><stop offset="0.6063" stop-color="#c1c1c1"/><stop offset="0.7117" stop-color="#a6a6a6"/><stop offset="0.8382" stop-color="#979797"/><stop offset="0.9226" stop-color="#8f8f8f"/></linearGradient><linearGradient id="bL" gradientUnits="userSpaceOnUse" x1="400" y1="0" x2="635" y2="0"><stop offset="0.0791" stop-color="#a4a4a4"/><stop offset="0.2057" stop-color="#b1b1b1"/><stop offset="0.3322" stop-color="#b6b6b6"/><stop offset="0.4587" stop-color="#bfbfbf"/><stop offset="0.4882" stop-color="#b5b5b5"/><stop offset="0.4958" stop-color="#808080"/><stop offset="0.5059" stop-color="#808080"/><stop offset="0.5135" stop-color="#505050"/><stop offset="0.5430" stop-color="#464646"/><stop offset="0.6695" stop-color="#464646"/><stop offset="0.7960" stop-color="#424242"/><stop offset="0.9226" stop-color="#515151"/></linearGradient><linearGradient id="b3" gradientUnits="userSpaceOnUse" x1="400" y1="0" x2="635" y2="0"><stop offset="0.0791" stop-color="#636363"/><stop offset="0.2900" stop-color="#666666"/><stop offset="0.4587" stop-color="#686868"/><stop offset="0.4882" stop-color="#6f6f6f"/><stop offset="0.4958" stop-color="#808080"/><stop offset="0.5059" stop-color="#808080"/><stop offset="0.5135" stop-color="#909090"/><stop offset="0.5430" stop-color="#979797"/><stop offset="0.7117" stop-color="#999999"/><stop offset="0.9226" stop-color="#a0a0a0"/></linearGradient><linearGradient id="b4" gradientUnits="userSpaceOnUse" x1="400" y1="0" x2="635" y2="0"><stop offset="0.0791" stop-color="#b2b2b2"/><stop offset="0.1635" stop-color="#c7c7c7"/><stop offset="0.2900" stop-color="#d3d3d3"/><stop offset="0.3954" stop-color="#c6c6c6"/><stop offset="0.4671" stop-color="#ababab"/><stop offset="0.4882" stop-color="#919191"/><stop offset="0.4958" stop-color="#808080"/><stop offset="0.5059" stop-color="#808080"/><stop offset="0.5135" stop-color="#656565"/><stop offset="0.5346" stop-color="#4b4b4b"/><stop offset="0.6274" stop-color="#2f2f2f"/><stop offset="0.7539" stop-color="#212121"/><stop offset="0.8593" stop-color="#363636"/><stop offset="0.9226" stop-color="#474747"/></linearGradient><linearGradient id="b5" gradientUnits="userSpaceOnUse" x1="400" y1="0" x2="635" y2="0"><stop offset="0.0791" stop-color="#636363"/><stop offset="0.2900" stop-color="#636363"/><stop offset="0.4587" stop-color="#646464"/><stop offset="0.4798" stop-color="#727272"/><stop offset="0.4882" stop-color="#808080"/><stop offset="0.5135" stop-color="#808080"/><stop offset="0.5219" stop-color="#8d8d8d"/><stop offset="0.5430" stop-color="#9b9b9b"/><stop offset="0.7117" stop-color="#9c9c9c"/><stop offset="0.9226" stop-color="#9f9f9f"/></linearGradient></defs><g clip-path="url(#clB)"><g filter="url(#fB)"><rect x="400" y="0" width="235" height="165" fill="#808080"/><g filter="url(#fBh)"><ellipse cx="432.0" cy="28.3" rx="28.0" ry="4.2" fill="#9e9e9e"/><ellipse cx="456.0" cy="29.0" rx="16.0" ry="3.5" fill="#8c8c8c"/><ellipse cx="604.0" cy="28.9" rx="26.0" ry="4.2" fill="#616161"/><ellipse cx="582.0" cy="29.0" rx="16.0" ry="3.5" fill="#737373"/><ellipse cx="482.0" cy="8.0" rx="16.0" ry="4.0" fill="#878787"/><ellipse cx="552.0" cy="9.0" rx="16.0" ry="4.0" fill="#787878"/><ellipse cx="470.0" cy="58.0" rx="45.0" ry="14.0" fill="#848484"/><ellipse cx="565.0" cy="58.0" rx="45.0" ry="14.0" fill="#7b7b7b"/><ellipse cx="470.0" cy="95.0" rx="45.0" ry="8.0" fill="#838383"/><ellipse cx="565.0" cy="95.0" rx="45.0" ry="8.0" fill="#7c7c7c"/><ellipse cx="470.0" cy="125.0" rx="45.0" ry="12.0" fill="#7d7d7d"/><ellipse cx="565.0" cy="125.0" rx="45.0" ry="12.0" fill="#7d7d7d"/><ellipse cx="440.0" cy="145.0" rx="25.0" ry="8.0" fill="#828282"/><ellipse cx="595.0" cy="145.0" rx="25.0" ry="8.0" fill="#828282"/></g><path d="M405.0 2.1 406.0 2.4 407.0 2.7 408.0 2.9 409.0 3.2 410.0 3.4 411.0 3.6 412.0 3.8 413.0 4.0 414.0 4.2 415.0 4.4 416.0 4.6 417.0 4.8 418.0 5.0 419.0 5.2 420.0 5.4 421.0 5.6 422.0 5.8 423.0 6.0 424.0 6.2 425.0 6.4 426.0 6.6 427.0 6.9 428.0 7.1 429.0 7.3 430.0 7.6 431.0 7.8 432.0 8.1 433.0 8.3 434.0 8.6 435.0 8.8 436.0 9.1 437.0 9.4 438.0 9.7 439.0 10.0 440.0 10.3 441.0 10.6 442.0 10.9 443.0 11.2 444.0 11.5 445.0 11.8 446.0 12.2 447.0 12.5 448.0 12.9 449.0 13.2 450.0 13.6 451.0 13.9 452.0 14.3 453.0 14.6 454.0 15.0 455.0 15.3 456.0 15.7 457.0 16.0 458.0 16.4 459.0 16.7 460.0 17.1 461.0 17.5 462.0 17.8 463.0 18.2 464.0 18.6 465.0 18.9 466.0 19.3 467.0 19.7 468.0 20.1 469.0 20.4 470.0 20.8 471.0 21.2 472.0 21.6 473.0 21.9 474.0 22.3 475.0 22.7 476.0 23.1 477.0 23.5 478.0 23.8 479.0 24.2 480.0 24.6 481.0 24.9 482.0 25.3 483.0 25.7 484.0 26.0 485.0 26.4 486.0 26.8 487.0 27.1 488.0 27.5 489.0 27.8 490.0 28.1 491.0 28.5 492.0 28.8 493.0 29.2 494.0 29.5 495.0 29.9 496.0 30.2 497.0 30.6 498.0 30.9 499.0 31.3 500.0 31.7 501.0 32.1 502.0 32.5 503.0 32.9 504.0 33.3 505.0 33.7 506.0 34.1 507.0 34.5 508.0 34.9 509.0 35.3 510.0 35.6 511.0 35.9 512.0 36.2 513.0 36.5 514.0 36.7 515.0 36.9 516.0 37.1 517.0 37.3 518.0 37.4 519.0 37.2 520.0 37.0 521.0 36.8 522.0 36.6 523.0 36.4 524.0 36.1 525.0 35.8 526.0 35.4 527.0 35.1 528.0 34.7 529.0 34.3 530.0 33.9 531.0 33.5 532.0 33.1 533.0 32.6 534.0 32.2 535.0 31.8 536.0 31.5 537.0 31.1 538.0 30.7 539.0 30.4 540.0 30.0 541.0 29.7 542.0 29.4 543.0 29.0 544.0 28.7 545.0 28.3 546.0 28.0 547.0 27.7 548.0 27.3 549.0 27.0 550.0 26.6 551.0 26.3 552.0 25.9 553.0 25.5 554.0 25.1 555.0 24.8 556.0 24.4 557.0 24.0 558.0 23.6 559.0 23.2 560.0 22.8 561.0 22.5 562.0 22.1 563.0 21.7 564.0 21.3 565.0 20.9 566.0 20.5 567.0 20.1 568.0 19.8 569.0 19.4 570.0 19.0 571.0 18.7 572.0 18.3 573.0 17.9 574.0 17.6 575.0 17.2 576.0 16.9 577.0 16.5 578.0 16.1 579.0 15.8 580.0 15.4 581.0 15.1 582.0 14.7 583.0 14.4 584.0 14.0 585.0 13.7 586.0 13.3 587.0 13.0 588.0 12.6 589.0 12.3 590.0 11.9 591.0 11.6 592.0 11.3 593.0 11.0 594.0 10.6 595.0 10.3 596.0 10.0 597.0 9.7 598.0 9.5 599.0 9.2 600.0 8.9 601.0 8.7 602.0 8.4 603.0 8.2 604.0 7.9 605.0 7.7 606.0 7.4 607.0 7.2 608.0 6.9 609.0 6.7 610.0 6.5 611.0 6.3 612.0 6.1 613.0 5.8 614.0 5.6 615.0 5.4 616.0 5.3 617.0 5.1 618.0 4.9 619.0 4.7 620.0 4.5 621.0 4.3 622.0 4.1 623.0 3.9 624.0 3.7 625.0 3.5 626.0 3.3 627.0 3.0 628.0 2.8 629.0 2.5 630.0 2.3 630.0 7.9 629.0 8.2 628.0 8.4 627.0 8.7 626.0 8.9 625.0 9.1 624.0 9.3 623.0 9.5 622.0 9.7 621.0 9.9 620.0 10.1 619.0 10.3 618.0 10.5 617.0 10.7 616.0 10.9 615.0 11.1 614.0 11.3 613.0 11.5 612.0 11.7 611.0 11.9 610.0 12.1 609.0 12.4 608.0 12.6 607.0 12.8 606.0 13.1 605.0 13.3 604.0 13.6 603.0 13.8 602.0 14.1 601.0 14.4 600.0 14.6 599.0 14.9 598.0 15.2 597.0 15.5 596.0 15.7 595.0 16.0 594.0 16.3 593.0 16.6 592.0 16.9 591.0 17.2 590.0 17.6 589.0 17.9 588.0 18.2 587.0 18.5 586.0 18.9 585.0 19.2 584.0 19.5 583.0 19.8 582.0 20.2 581.0 20.5 580.0 20.8 579.0 21.1 578.0 21.5 577.0 21.8 576.0 22.2 575.0 22.5 574.0 22.8 573.0 23.2 572.0 23.5 571.0 23.9 570.0 24.2 569.0 24.5 568.0 24.9 567.0 25.2 566.0 25.6 565.0 25.9 564.0 26.2 563.0 26.6 562.0 26.9 561.0 27.2 560.0 27.6 559.0 27.9 558.0 28.2 557.0 28.6 556.0 28.9 555.0 29.2 554.0 29.5 553.0 29.9 552.0 30.2 551.0 30.5 550.0 30.8 549.0 31.1 548.0 31.4 547.0 31.7 546.0 32.0 545.0 32.2 544.0 32.5 543.0 32.8 542.0 33.1 541.0 33.4 540.0 33.7 539.0 34.0 538.0 34.3 537.0 34.7 536.0 35.0 535.0 35.4 534.0 35.7 533.0 36.1 532.0 36.5 531.0 36.8 530.0 37.2 529.0 37.5 528.0 37.9 527.0 38.2 526.0 38.5 525.0 38.8 524.0 39.1 523.0 39.3 522.0 39.5 521.0 39.7 520.0 39.9 519.0 40.0 518.0 40.2 517.0 40.1 516.0 40.0 515.0 39.8 514.0 39.6 513.0 39.4 512.0 39.2 511.0 39.0 510.0 38.7 509.0 38.4 508.0 38.1 507.0 37.8 506.0 37.4 505.0 37.1 504.0 36.7 503.0 36.3 502.0 36.0 501.0 35.6 500.0 35.2 499.0 34.9 498.0 34.6 497.0 34.2 496.0 33.9 495.0 33.6 494.0 33.3 493.0 33.1 492.0 32.8 491.0 32.5 490.0 32.2 489.0 31.9 488.0 31.6 487.0 31.3 486.0 31.0 485.0 30.7 484.0 30.4 483.0 30.1 482.0 29.8 481.0 29.5 480.0 29.1 479.0 28.8 478.0 28.5 477.0 28.1 476.0 27.8 475.0 27.4 474.0 27.1 473.0 26.7 472.0 26.4 471.0 26.1 470.0 25.7 469.0 25.4 468.0 25.0 467.0 24.7 466.0 24.4 465.0 24.0 464.0 23.7 463.0 23.3 462.0 23.0 461.0 22.7 460.0 22.3 459.0 22.0 458.0 21.7 457.0 21.3 456.0 21.0 455.0 20.7 454.0 20.3 453.0 20.0 452.0 19.7 451.0 19.3 450.0 19.0 449.0 18.7 448.0 18.4 447.0 18.0 446.0 17.7 445.0 17.4 444.0 17.1 443.0 16.8 442.0 16.5 441.0 16.1 440.0 15.9 439.0 15.6 438.0 15.3 437.0 15.0 436.0 14.8 435.0 14.5 434.0 14.2 433.0 14.0 432.0 13.7 431.0 13.5 430.0 13.2 429.0 13.0 428.0 12.7 427.0 12.5 426.0 12.3 425.0 12.0 424.0 11.8 423.0 11.6 422.0 11.4 421.0 11.2 420.0 11.0 419.0 10.8 418.0 10.6 417.0 10.4 416.0 10.2 415.0 10.0 414.0 9.8 413.0 9.6 412.0 9.4 411.0 9.2 410.0 9.0 409.0 8.8 408.0 8.6 407.0 8.4 406.0 8.1 405.0 7.8Z" fill="url(#bU)"/><path d="M405.0 63.2 406.0 63.4 407.0 63.5 408.0 63.7 409.0 63.8 410.0 63.9 411.0 64.0 412.0 64.1 413.0 64.1 414.0 64.2 415.0 64.2 416.0 64.2 417.0 64.2 418.0 64.2 419.0 64.2 420.0 64.2 421.0 64.1 422.0 64.1 423.0 64.0 424.0 63.9 425.0 63.9 426.0 63.8 427.0 63.7 428.0 63.6 429.0 63.6 430.0 63.5 431.0 63.3 432.0 63.2 433.0 63.1 434.0 63.0 435.0 62.8 436.0 62.6 437.0 62.5 438.0 62.3 439.0 62.1 440.0 62.0 441.0 61.8 442.0 61.5 443.0 61.3 444.0 61.1 445.0 60.8 446.0 60.5 447.0 60.2 448.0 59.9 449.0 59.6 450.0 59.3 451.0 59.0 452.0 58.7 453.0 58.3 454.0 58.0 455.0 57.6 456.0 57.3 457.0 57.0 458.0 56.6 459.0 56.3 460.0 56.0 461.0 55.6 462.0 55.3 463.0 55.0 464.0 54.7 465.0 54.4 466.0 54.1 467.0 53.7 468.0 53.4 469.0 53.1 470.0 52.8 471.0 52.4 472.0 52.1 473.0 51.8 474.0 51.5 475.0 51.1 476.0 50.8 477.0 50.5 478.0 50.2 479.0 49.9 480.0 49.5 481.0 49.2 482.0 48.9 483.0 48.6 484.0 48.3 485.0 48.0 486.0 47.8 487.0 47.5 488.0 47.2 489.0 46.9 490.0 46.6 491.0 46.3 492.0 46.0 493.0 45.7 494.0 45.4 495.0 45.1 496.0 44.8 497.0 44.6 498.0 44.3 499.0 44.0 500.0 43.7 501.0 43.5 502.0 43.2 503.0 43.0 504.0 42.7 505.0 42.5 506.0 42.3 507.0 42.1 508.0 41.9 509.0 41.7 510.0 41.5 511.0 41.4 512.0 41.3 513.0 41.2 514.0 41.1 515.0 41.0 516.0 41.0 517.0 40.9 518.0 40.9 519.0 40.9 520.0 41.0 521.0 41.1 522.0 41.1 523.0 41.2 524.0 41.3 525.0 41.5 526.0 41.6 527.0 41.8 528.0 42.0 529.0 42.2 530.0 42.4 531.0 42.6 532.0 42.9 533.0 43.1 534.0 43.4 535.0 43.6 536.0 43.9 537.0 44.2 538.0 44.5 539.0 44.8 540.0 45.1 541.0 45.4 542.0 45.6 543.0 45.9 544.0 46.2 545.0 46.5 546.0 46.8 547.0 47.1 548.0 47.4 549.0 47.7 550.0 48.0 551.0 48.3 552.0 48.6 553.0 48.9 554.0 49.2 555.0 49.5 556.0 49.8 557.0 50.2 558.0 50.5 559.0 50.8 560.0 51.1 561.0 51.4 562.0 51.8 563.0 52.1 564.0 52.4 565.0 52.7 566.0 53.1 567.0 53.4 568.0 53.7 569.0 54.0 570.0 54.3 571.0 54.7 572.0 55.0 573.0 55.3 574.0 55.6 575.0 55.9 576.0 56.3 577.0 56.6 578.0 56.9 579.0 57.3 580.0 57.6 581.0 58.0 582.0 58.3 583.0 58.6 584.0 59.0 585.0 59.3 586.0 59.6 587.0 59.9 588.0 60.2 589.0 60.5 590.0 60.8 591.0 61.1 592.0 61.3 593.0 61.6 594.0 61.8 595.0 62.0 596.0 62.2 597.0 62.3 598.0 62.5 599.0 62.7 600.0 62.8 601.0 63.0 602.0 63.1 603.0 63.3 604.0 63.4 605.0 63.5 606.0 63.6 607.0 63.7 608.0 63.8 609.0 63.9 610.0 63.9 611.0 64.0 612.0 64.1 613.0 64.1 614.0 64.2 615.0 64.2 616.0 64.3 617.0 64.3 618.0 64.3 619.0 64.3 620.0 64.3 621.0 64.3 622.0 64.3 623.0 64.2 624.0 64.1 625.0 64.1 626.0 64.0 627.0 63.8 628.0 63.7 629.0 63.5 630.0 63.4 630.0 66.0 629.0 66.2 628.0 66.3 627.0 66.5 626.0 66.6 625.0 66.7 624.0 66.7 623.0 66.8 622.0 66.9 621.0 66.9 620.0 66.9 619.0 66.9 618.0 66.9 617.0 66.9 616.0 66.9 615.0 66.8 614.0 66.8 613.0 66.7 612.0 66.7 611.0 66.6 610.0 66.6 609.0 66.5 608.0 66.4 607.0 66.3 606.0 66.2 605.0 66.1 604.0 66.0 603.0 65.9 602.0 65.8 601.0 65.6 600.0 65.5 599.0 65.3 598.0 65.2 597.0 65.0 596.0 64.8 595.0 64.6 594.0 64.4 593.0 64.2 592.0 64.0 591.0 63.7 590.0 63.5 589.0 63.2 588.0 62.9 587.0 62.6 586.0 62.3 585.0 62.0 584.0 61.7 583.0 61.4 582.0 61.0 581.0 60.7 580.0 60.4 579.0 60.0 578.0 59.7 577.0 59.3 576.0 59.0 575.0 58.7 574.0 58.3 573.0 58.0 572.0 57.7 571.0 57.4 570.0 57.1 569.0 56.8 568.0 56.4 567.0 56.1 566.0 55.8 565.0 55.5 564.0 55.1 563.0 54.8 562.0 54.5 561.0 54.2 560.0 53.8 559.0 53.5 558.0 53.2 557.0 52.9 556.0 52.6 555.0 52.2 554.0 51.9 553.0 51.6 552.0 51.3 551.0 51.0 550.0 50.7 549.0 50.4 548.0 50.1 547.0 49.8 546.0 49.5 545.0 49.3 544.0 49.0 543.0 48.7 542.0 48.4 541.0 48.1 540.0 47.8 539.0 47.5 538.0 47.2 537.0 46.9 536.0 46.6 535.0 46.3 534.0 46.1 533.0 45.8 532.0 45.6 531.0 45.3 530.0 45.1 529.0 44.9 528.0 44.7 527.0 44.5 526.0 44.3 525.0 44.1 524.0 44.0 523.0 43.8 522.0 43.7 521.0 43.7 520.0 43.6 519.0 43.5 518.0 43.5 517.0 43.5 516.0 43.6 515.0 43.6 514.0 43.7 513.0 43.8 512.0 43.9 511.0 44.0 510.0 44.2 509.0 44.4 508.0 44.5 507.0 44.7 506.0 45.0 505.0 45.2 504.0 45.4 503.0 45.7 502.0 45.9 501.0 46.2 500.0 46.5 499.0 46.8 498.0 47.0 497.0 47.3 496.0 47.6 495.0 47.9 494.0 48.2 493.0 48.5 492.0 48.8 491.0 49.1 490.0 49.4 489.0 49.7 488.0 50.0 487.0 50.3 486.0 50.6 485.0 50.9 484.0 51.2 483.0 51.5 482.0 51.8 481.0 52.2 480.0 52.5 479.0 52.8 478.0 53.1 477.0 53.4 476.0 53.8 475.0 54.1 474.0 54.4 473.0 54.7 472.0 55.1 471.0 55.4 470.0 55.7 469.0 56.0 468.0 56.4 467.0 56.7 466.0 57.0 465.0 57.3 464.0 57.6 463.0 57.9 462.0 58.2 461.0 58.6 460.0 58.9 459.0 59.2 458.0 59.6 457.0 59.9 456.0 60.3 455.0 60.6 454.0 60.9 453.0 61.3 452.0 61.6 451.0 61.9 450.0 62.2 449.0 62.6 448.0 62.9 447.0 63.2 446.0 63.4 445.0 63.7 444.0 64.0 443.0 64.2 442.0 64.4 441.0 64.6 440.0 64.8 439.0 65.0 438.0 65.2 437.0 65.3 436.0 65.5 435.0 65.6 434.0 65.8 433.0 65.9 432.0 66.0 431.0 66.2 430.0 66.3 429.0 66.4 428.0 66.4 427.0 66.5 426.0 66.6 425.0 66.7 424.0 66.7 423.0 66.8 422.0 66.9 421.0 66.9 420.0 67.0 419.0 67.0 418.0 67.0 417.0 67.0 416.0 67.0 415.0 67.0 414.0 67.0 413.0 66.9 412.0 66.9 411.0 66.8 410.0 66.7 409.0 66.6 408.0 66.5 407.0 66.4 406.0 66.2 405.0 66.0Z" fill="url(#bL)"/><path d="M405.0 77.6 406.0 77.6 407.0 77.6 408.0 77.6 409.0 77.6 410.0 77.6 411.0 77.6 412.0 77.6 413.0 77.7 414.0 77.7 415.0 77.7 416.0 77.8 417.0 77.8 418.0 77.9 419.0 77.9 420.0 78.0 421.0 78.1 422.0 78.1 423.0 78.2 424.0 78.3 425.0 78.4 426.0 78.5 427.0 78.6 428.0 78.7 429.0 78.8 430.0 78.9 431.0 79.0 432.0 79.1 433.0 79.2 434.0 79.3 435.0 79.4 436.0 79.5 437.0 79.7 438.0 79.8 439.0 79.9 440.0 80.0 441.0 80.2 442.0 80.3 443.0 80.5 444.0 80.7 445.0 80.8 446.0 81.0 447.0 81.2 448.0 81.4 449.0 81.6 450.0 81.7 451.0 81.9 452.0 82.1 453.0 82.3 454.0 82.5 455.0 82.7 456.0 82.9 457.0 83.1 458.0 83.2 459.0 83.4 460.0 83.6 461.0 83.7 462.0 83.9 463.0 84.1 464.0 84.2 465.0 84.4 466.0 84.5 467.0 84.7 468.0 84.9 469.0 85.0 470.0 85.2 471.0 85.3 472.0 85.5 473.0 85.7 474.0 85.8 475.0 86.0 476.0 86.1 477.0 86.3 478.0 86.5 479.0 86.6 480.0 86.8 481.0 87.0 482.0 87.1 483.0 87.3 484.0 87.5 485.0 87.6 486.0 87.8 487.0 88.0 488.0 88.2 489.0 88.3 490.0 88.5 491.0 88.7 492.0 88.8 493.0 89.0 494.0 89.2 495.0 89.4 496.0 89.5 497.0 89.7 498.0 89.9 499.0 90.1 500.0 90.3 501.0 90.5 502.0 90.7 503.0 91.0 504.0 91.2 505.0 91.4 506.0 91.6 507.0 91.8 508.0 92.0 509.0 92.2 510.0 92.3 511.0 92.4 512.0 92.5 513.0 92.6 514.0 92.7 515.0 92.7 516.0 92.8 517.0 92.8 518.0 92.8 519.0 92.8 520.0 92.7 521.0 92.7 522.0 92.6 523.0 92.5 524.0 92.5 525.0 92.4 526.0 92.2 527.0 92.1 528.0 91.9 529.0 91.7 530.0 91.5 531.0 91.3 532.0 91.0 533.0 90.8 534.0 90.6 535.0 90.4 536.0 90.2 537.0 90.0 538.0 89.8 539.0 89.6 540.0 89.4 541.0 89.3 542.0 89.1 543.0 88.9 544.0 88.7 545.0 88.6 546.0 88.4 547.0 88.2 548.0 88.1 549.0 87.9 550.0 87.7 551.0 87.5 552.0 87.4 553.0 87.2 554.0 87.0 555.0 86.9 556.0 86.7 557.0 86.5 558.0 86.4 559.0 86.2 560.0 86.0 561.0 85.9 562.0 85.7 563.0 85.6 564.0 85.4 565.0 85.2 566.0 85.1 567.0 84.9 568.0 84.8 569.0 84.6 570.0 84.4 571.0 84.3 572.0 84.1 573.0 84.0 574.0 83.8 575.0 83.6 576.0 83.5 577.0 83.3 578.0 83.1 579.0 82.9 580.0 82.8 581.0 82.6 582.0 82.4 583.0 82.2 584.0 82.0 585.0 81.8 586.0 81.6 587.0 81.4 588.0 81.3 589.0 81.1 590.0 80.9 591.0 80.7 592.0 80.6 593.0 80.4 594.0 80.2 595.0 80.1 596.0 80.0 597.0 79.8 598.0 79.7 599.0 79.6 600.0 79.5 601.0 79.3 602.0 79.2 603.0 79.1 604.0 79.0 605.0 78.9 606.0 78.8 607.0 78.7 608.0 78.6 609.0 78.5 610.0 78.4 611.0 78.3 612.0 78.2 613.0 78.2 614.0 78.1 615.0 78.0 616.0 77.9 617.0 77.9 618.0 77.8 619.0 77.8 620.0 77.7 621.0 77.7 622.0 77.7 623.0 77.6 624.0 77.6 625.0 77.6 626.0 77.6 627.0 77.6 628.0 77.6 629.0 77.6 630.0 77.6 630.0 79.8 629.0 79.8 628.0 79.8 627.0 79.8 626.0 79.8 625.0 79.8 624.0 79.8 623.0 79.8 622.0 79.9 621.0 79.9 620.0 79.9 619.0 80.0 618.0 80.0 617.0 80.1 616.0 80.1 615.0 80.2 614.0 80.3 613.0 80.3 612.0 80.4 611.0 80.5 610.0 80.6 609.0 80.7 608.0 80.8 607.0 80.9 606.0 81.0 605.0 81.1 604.0 81.2 603.0 81.3 602.0 81.4 601.0 81.5 600.0 81.6 599.0 81.7 598.0 81.8 597.0 82.0 596.0 82.1 595.0 82.2 594.0 82.4 593.0 82.5 592.0 82.7 591.0 82.9 590.0 83.0 589.0 83.2 588.0 83.4 587.0 83.6 586.0 83.7 585.0 83.9 584.0 84.1 583.0 84.3 582.0 84.5 581.0 84.7 580.0 84.8 579.0 85.0 578.0 85.2 577.0 85.4 576.0 85.5 575.0 85.7 574.0 85.8 573.0 86.0 572.0 86.2 571.0 86.3 570.0 86.5 569.0 86.6 568.0 86.8 567.0 87.0 566.0 87.1 565.0 87.3 564.0 87.4 563.0 87.6 562.0 87.8 561.0 87.9 560.0 88.1 559.0 88.2 558.0 88.4 557.0 88.6 556.0 88.7 555.0 88.9 554.0 89.1 553.0 89.2 552.0 89.4 551.0 89.6 550.0 89.7 549.0 89.9 548.0 90.1 547.0 90.3 546.0 90.4 545.0 90.6 544.0 90.8 543.0 90.9 542.0 91.1 541.0 91.3 540.0 91.5 539.0 91.7 538.0 91.8 537.0 92.0 536.0 92.2 535.0 92.4 534.0 92.6 533.0 92.9 532.0 93.1 531.0 93.3 530.0 93.5 529.0 93.7 528.0 93.9 527.0 94.1 526.0 94.3 525.0 94.4 524.0 94.5 523.0 94.5 522.0 94.6 521.0 94.7 520.0 94.7 519.0 94.8 518.0 94.8 517.0 94.8 516.0 94.8 515.0 94.7 514.0 94.7 513.0 94.6 512.0 94.5 511.0 94.4 510.0 94.3 509.0 94.2 508.0 94.0 507.0 93.9 506.0 93.7 505.0 93.4 504.0 93.2 503.0 93.0 502.0 92.8 501.0 92.6 500.0 92.3 499.0 92.1 498.0 91.9 497.0 91.8 496.0 91.6 495.0 91.4 494.0 91.2 493.0 91.1 492.0 90.9 491.0 90.7 490.0 90.5 489.0 90.4 488.0 90.2 487.0 90.0 486.0 89.8 485.0 89.7 484.0 89.5 483.0 89.3 482.0 89.2 481.0 89.0 480.0 88.8 479.0 88.7 478.0 88.5 477.0 88.3 476.0 88.2 475.0 88.0 474.0 87.8 473.0 87.7 472.0 87.5 471.0 87.4 470.0 87.2 469.0 87.0 468.0 86.9 467.0 86.7 466.0 86.6 465.0 86.4 464.0 86.3 463.0 86.1 462.0 85.9 461.0 85.8 460.0 85.6 459.0 85.5 458.0 85.3 457.0 85.1 456.0 85.0 455.0 84.8 454.0 84.6 453.0 84.4 452.0 84.2 451.0 84.0 450.0 83.9 449.0 83.7 448.0 83.5 447.0 83.3 446.0 83.1 445.0 83.0 444.0 82.8 443.0 82.6 442.0 82.5 441.0 82.3 440.0 82.2 439.0 82.0 438.0 81.9 437.0 81.8 436.0 81.7 435.0 81.6 434.0 81.5 433.0 81.3 432.0 81.2 431.0 81.1 430.0 81.0 429.0 80.9 428.0 80.8 427.0 80.7 426.0 80.6 425.0 80.6 424.0 80.5 423.0 80.4 422.0 80.3 421.0 80.3 420.0 80.2 419.0 80.1 418.0 80.1 417.0 80.0 416.0 80.0 415.0 79.9 414.0 79.9 413.0 79.9 412.0 79.8 411.0 79.8 410.0 79.8 409.0 79.8 408.0 79.8 407.0 79.8 406.0 79.8 405.0 79.8Z" fill="url(#b3)"/><path d="M405.0 105.5 406.0 105.6 407.0 105.6 408.0 105.6 409.0 105.6 410.0 105.7 411.0 105.7 412.0 105.7 413.0 105.7 414.0 105.7 415.0 105.7 416.0 105.7 417.0 105.7 418.0 105.7 419.0 105.7 420.0 105.7 421.0 105.7 422.0 105.7 423.0 105.7 424.0 105.7 425.0 105.7 426.0 105.6 427.0 105.6 428.0 105.6 429.0 105.6 430.0 105.6 431.0 105.6 432.0 105.5 433.0 105.5 434.0 105.5 435.0 105.5 436.0 105.5 437.0 105.4 438.0 105.4 439.0 105.4 440.0 105.4 441.0 105.3 442.0 105.3 443.0 105.3 444.0 105.2 445.0 105.2 446.0 105.1 447.0 105.1 448.0 105.0 449.0 105.0 450.0 104.9 451.0 104.9 452.0 104.8 453.0 104.8 454.0 104.7 455.0 104.7 456.0 104.6 457.0 104.5 458.0 104.5 459.0 104.4 460.0 104.4 461.0 104.3 462.0 104.2 463.0 104.2 464.0 104.1 465.0 104.0 466.0 103.9 467.0 103.9 468.0 103.8 469.0 103.7 470.0 103.6 471.0 103.6 472.0 103.5 473.0 103.4 474.0 103.3 475.0 103.2 476.0 103.2 477.0 103.1 478.0 103.0 479.0 102.9 480.0 102.9 481.0 102.8 482.0 102.7 483.0 102.6 484.0 102.5 485.0 102.4 486.0 102.3 487.0 102.2 488.0 102.1 489.0 102.0 490.0 101.9 491.0 101.8 492.0 101.7 493.0 101.6 494.0 101.5 495.0 101.4 496.0 101.4 497.0 101.3 498.0 101.2 499.0 101.1 500.0 101.1 501.0 101.0 502.0 101.0 503.0 100.9 504.0 100.8 505.0 100.8 506.0 100.7 507.0 100.7 508.0 100.6 509.0 100.6 510.0 100.5 511.0 100.4 512.0 100.4 513.0 100.3 514.0 100.3 515.0 100.2 516.0 100.2 517.0 100.1 518.0 100.1 519.0 100.2 520.0 100.2 521.0 100.3 522.0 100.3 523.0 100.4 524.0 100.4 525.0 100.5 526.0 100.5 527.0 100.6 528.0 100.6 529.0 100.7 530.0 100.7 531.0 100.8 532.0 100.8 533.0 100.9 534.0 101.0 535.0 101.0 536.0 101.1 537.0 101.2 538.0 101.2 539.0 101.3 540.0 101.4 541.0 101.5 542.0 101.5 543.0 101.6 544.0 101.7 545.0 101.8 546.0 101.9 547.0 102.0 548.0 102.1 549.0 102.2 550.0 102.3 551.0 102.4 552.0 102.5 553.0 102.6 554.0 102.7 555.0 102.8 556.0 102.9 557.0 103.0 558.0 103.1 559.0 103.2 560.0 103.2 561.0 103.3 562.0 103.4 563.0 103.5 564.0 103.6 565.0 103.7 566.0 103.7 567.0 103.8 568.0 103.9 569.0 104.0 570.0 104.0 571.0 104.1 572.0 104.2 573.0 104.2 574.0 104.3 575.0 104.4 576.0 104.4 577.0 104.5 578.0 104.5 579.0 104.6 580.0 104.7 581.0 104.7 582.0 104.8 583.0 104.8 584.0 104.9 585.0 104.9 586.0 105.0 587.0 105.0 588.0 105.1 589.0 105.1 590.0 105.2 591.0 105.2 592.0 105.3 593.0 105.3 594.0 105.3 595.0 105.4 596.0 105.4 597.0 105.4 598.0 105.4 599.0 105.5 600.0 105.5 601.0 105.5 602.0 105.5 603.0 105.6 604.0 105.6 605.0 105.6 606.0 105.6 607.0 105.7 608.0 105.7 609.0 105.7 610.0 105.7 611.0 105.7 612.0 105.8 613.0 105.8 614.0 105.8 615.0 105.8 616.0 105.8 617.0 105.8 618.0 105.8 619.0 105.8 620.0 105.8 621.0 105.8 622.0 105.8 623.0 105.8 624.0 105.8 625.0 105.8 626.0 105.7 627.0 105.7 628.0 105.7 629.0 105.7 630.0 105.6 630.0 109.6 629.0 109.7 628.0 109.7 627.0 109.7 626.0 109.7 625.0 109.8 624.0 109.8 623.0 109.8 622.0 109.8 621.0 109.8 620.0 109.8 619.0 109.8 618.0 109.8 617.0 109.8 616.0 109.8 615.0 109.8 614.0 109.8 613.0 109.8 612.0 109.8 611.0 109.7 610.0 109.7 609.0 109.7 608.0 109.7 607.0 109.7 606.0 109.6 605.0 109.6 604.0 109.6 603.0 109.6 602.0 109.5 601.0 109.5 600.0 109.5 599.0 109.4 598.0 109.4 597.0 109.4 596.0 109.3 595.0 109.3 594.0 109.3 593.0 109.2 592.0 109.2 591.0 109.1 590.0 109.1 589.0 109.0 588.0 109.0 587.0 108.9 586.0 108.9 585.0 108.8 584.0 108.7 583.0 108.7 582.0 108.6 581.0 108.6 580.0 108.5 579.0 108.4 578.0 108.4 577.0 108.3 576.0 108.2 575.0 108.1 574.0 108.1 573.0 108.0 572.0 107.9 571.0 107.8 570.0 107.7 569.0 107.7 568.0 107.6 567.0 107.5 566.0 107.4 565.0 107.3 564.0 107.2 563.0 107.1 562.0 107.0 561.0 106.9 560.0 106.8 559.0 106.7 558.0 106.6 557.0 106.5 556.0 106.4 555.0 106.3 554.0 106.2 553.0 106.1 552.0 106.0 551.0 105.9 550.0 105.8 549.0 105.7 548.0 105.5 547.0 105.4 546.0 105.3 545.0 105.2 544.0 105.1 543.0 105.0 542.0 104.9 541.0 104.7 540.0 104.6 539.0 104.5 538.0 104.5 537.0 104.4 536.0 104.3 535.0 104.2 534.0 104.1 533.0 104.0 532.0 104.0 531.0 103.9 530.0 103.8 529.0 103.8 528.0 103.7 527.0 103.6 526.0 103.5 525.0 103.5 524.0 103.4 523.0 103.4 522.0 103.3 521.0 103.3 520.0 103.2 519.0 103.2 518.0 103.1 517.0 103.1 516.0 103.2 515.0 103.2 514.0 103.3 513.0 103.3 512.0 103.4 511.0 103.5 510.0 103.5 509.0 103.6 508.0 103.6 507.0 103.7 506.0 103.8 505.0 103.8 504.0 103.9 503.0 104.0 502.0 104.1 501.0 104.1 500.0 104.2 499.0 104.3 498.0 104.4 497.0 104.5 496.0 104.5 495.0 104.6 494.0 104.7 493.0 104.8 492.0 105.0 491.0 105.1 490.0 105.2 489.0 105.3 488.0 105.4 487.0 105.6 486.0 105.7 485.0 105.8 484.0 105.9 483.0 106.0 482.0 106.2 481.0 106.3 480.0 106.4 479.0 106.5 478.0 106.6 477.0 106.7 476.0 106.8 475.0 106.9 474.0 107.0 473.0 107.1 472.0 107.2 471.0 107.3 470.0 107.4 469.0 107.5 468.0 107.6 467.0 107.7 466.0 107.8 465.0 107.8 464.0 107.9 463.0 108.0 462.0 108.1 461.0 108.1 460.0 108.2 459.0 108.3 458.0 108.4 457.0 108.4 456.0 108.5 455.0 108.5 454.0 108.6 453.0 108.7 452.0 108.7 451.0 108.8 450.0 108.9 449.0 108.9 448.0 109.0 447.0 109.0 446.0 109.1 445.0 109.1 444.0 109.2 443.0 109.2 442.0 109.3 441.0 109.3 440.0 109.3 439.0 109.4 438.0 109.4 437.0 109.4 436.0 109.5 435.0 109.5 434.0 109.5 433.0 109.6 432.0 109.6 431.0 109.6 430.0 109.7 429.0 109.7 428.0 109.7 427.0 109.7 426.0 109.8 425.0 109.8 424.0 109.8 423.0 109.8 422.0 109.9 421.0 109.9 420.0 109.9 419.0 109.9 418.0 109.9 417.0 109.9 416.0 109.9 415.0 109.9 414.0 109.9 413.0 109.9 412.0 109.9 411.0 109.9 410.0 109.9 409.0 109.8 408.0 109.8 407.0 109.8 406.0 109.8 405.0 109.7Z" fill="url(#b4)"/><path d="M405.0 133.7 406.0 133.7 407.0 133.7 408.0 133.7 409.0 133.7 410.0 133.7 411.0 133.7 412.0 133.7 413.0 133.7 414.0 133.7 415.0 133.7 416.0 133.7 417.0 133.7 418.0 133.7 419.0 133.7 420.0 133.7 421.0 133.7 422.0 133.7 423.0 133.7 424.0 133.7 425.0 133.7 426.0 133.7 427.0 133.7 428.0 133.7 429.0 133.7 430.0 133.7 431.0 133.7 432.0 133.7 433.0 133.7 434.0 133.7 435.0 133.7 436.0 133.7 437.0 133.7 438.0 133.7 439.0 133.7 440.0 133.7 441.0 133.7 442.0 133.7 443.0 133.7 444.0 133.7 445.0 133.7 446.0 133.7 447.0 133.7 448.0 133.7 449.0 133.7 450.0 133.7 451.0 133.7 452.0 133.7 453.0 133.7 454.0 133.7 455.0 133.7 456.0 133.7 457.0 133.7 458.0 133.7 459.0 133.7 460.0 133.7 461.0 133.7 462.0 133.7 463.0 133.7 464.0 133.7 465.0 133.7 466.0 133.7 467.0 133.7 468.0 133.7 469.0 133.7 470.0 133.7 471.0 133.7 472.0 133.7 473.0 133.7 474.0 133.7 475.0 133.7 476.0 133.7 477.0 133.7 478.0 133.7 479.0 133.8 480.0 133.8 481.0 133.8 482.0 133.8 483.0 133.8 484.0 133.8 485.0 133.8 486.0 133.8 487.0 133.8 488.0 133.8 489.0 133.8 490.0 133.8 491.0 133.8 492.0 133.8 493.0 133.8 494.0 133.8 495.0 133.8 496.0 133.8 497.0 133.8 498.0 133.9 499.0 133.9 500.0 133.9 501.0 133.9 502.0 133.9 503.0 133.9 504.0 133.9 505.0 133.9 506.0 133.9 507.0 133.9 508.0 133.9 509.0 133.9 510.0 134.0 511.0 134.0 512.0 134.1 513.0 134.1 514.0 134.1 515.0 134.1 516.0 134.1 517.0 134.1 518.0 134.1 519.0 134.1 520.0 134.1 521.0 134.1 522.0 134.1 523.0 134.1 524.0 134.0 525.0 134.0 526.0 134.0 527.0 133.9 528.0 133.9 529.0 133.9 530.0 133.9 531.0 133.9 532.0 133.9 533.0 133.9 534.0 133.9 535.0 133.9 536.0 133.9 537.0 133.9 538.0 133.8 539.0 133.8 540.0 133.8 541.0 133.8 542.0 133.8 543.0 133.8 544.0 133.8 545.0 133.8 546.0 133.8 547.0 133.8 548.0 133.8 549.0 133.8 550.0 133.8 551.0 133.8 552.0 133.8 553.0 133.8 554.0 133.8 555.0 133.8 556.0 133.8 557.0 133.8 558.0 133.7 559.0 133.7 560.0 133.7 561.0 133.7 562.0 133.7 563.0 133.7 564.0 133.7 565.0 133.7 566.0 133.7 567.0 133.7 568.0 133.7 569.0 133.7 570.0 133.7 571.0 133.7 572.0 133.7 573.0 133.7 574.0 133.7 575.0 133.7 576.0 133.7 577.0 133.7 578.0 133.7 579.0 133.7 580.0 133.7 581.0 133.7 582.0 133.7 583.0 133.7 584.0 133.7 585.0 133.7 586.0 133.7 587.0 133.7 588.0 133.7 589.0 133.7 590.0 133.7 591.0 133.7 592.0 133.7 593.0 133.7 594.0 133.7 595.0 133.7 596.0 133.7 597.0 133.7 598.0 133.7 599.0 133.7 600.0 133.7 601.0 133.7 602.0 133.7 603.0 133.7 604.0 133.7 605.0 133.7 606.0 133.7 607.0 133.7 608.0 133.7 609.0 133.7 610.0 133.7 611.0 133.7 612.0 133.7 613.0 133.7 614.0 133.7 615.0 133.7 616.0 133.7 617.0 133.7 618.0 133.7 619.0 133.7 620.0 133.7 621.0 133.7 622.0 133.7 623.0 133.7 624.0 133.7 625.0 133.7 626.0 133.7 627.0 133.7 628.0 133.7 629.0 133.7 630.0 133.7 630.0 137.5 629.0 137.5 628.0 137.5 627.0 137.5 626.0 137.5 625.0 137.5 624.0 137.5 623.0 137.5 622.0 137.5 621.0 137.5 620.0 137.5 619.0 137.5 618.0 137.5 617.0 137.5 616.0 137.5 615.0 137.5 614.0 137.5 613.0 137.5 612.0 137.5 611.0 137.5 610.0 137.5 609.0 137.5 608.0 137.5 607.0 137.5 606.0 137.5 605.0 137.5 604.0 137.5 603.0 137.5 602.0 137.5 601.0 137.5 600.0 137.5 599.0 137.5 598.0 137.5 597.0 137.5 596.0 137.5 595.0 137.5 594.0 137.5 593.0 137.5 592.0 137.5 591.0 137.5 590.0 137.5 589.0 137.5 588.0 137.5 587.0 137.5 586.0 137.5 585.0 137.5 584.0 137.5 583.0 137.5 582.0 137.5 581.0 137.5 580.0 137.5 579.0 137.5 578.0 137.5 577.0 137.5 576.0 137.5 575.0 137.5 574.0 137.5 573.0 137.5 572.0 137.5 571.0 137.5 570.0 137.5 569.0 137.5 568.0 137.5 567.0 137.5 566.0 137.5 565.0 137.5 564.0 137.5 563.0 137.5 562.0 137.5 561.0 137.5 560.0 137.5 559.0 137.5 558.0 137.5 557.0 137.4 556.0 137.4 555.0 137.4 554.0 137.4 553.0 137.4 552.0 137.4 551.0 137.4 550.0 137.4 549.0 137.4 548.0 137.4 547.0 137.4 546.0 137.4 545.0 137.4 544.0 137.4 543.0 137.4 542.0 137.4 541.0 137.4 540.0 137.4 539.0 137.4 538.0 137.4 537.0 137.3 536.0 137.3 535.0 137.3 534.0 137.3 533.0 137.3 532.0 137.3 531.0 137.3 530.0 137.3 529.0 137.3 528.0 137.3 527.0 137.3 526.0 137.2 525.0 137.2 524.0 137.2 523.0 137.1 522.0 137.1 521.0 137.1 520.0 137.1 519.0 137.1 518.0 137.1 517.0 137.1 516.0 137.1 515.0 137.1 514.0 137.1 513.0 137.1 512.0 137.1 511.0 137.2 510.0 137.2 509.0 137.3 508.0 137.3 507.0 137.3 506.0 137.3 505.0 137.3 504.0 137.3 503.0 137.3 502.0 137.3 501.0 137.3 500.0 137.3 499.0 137.3 498.0 137.3 497.0 137.4 496.0 137.4 495.0 137.4 494.0 137.4 493.0 137.4 492.0 137.4 491.0 137.4 490.0 137.4 489.0 137.4 488.0 137.4 487.0 137.4 486.0 137.4 485.0 137.4 484.0 137.4 483.0 137.4 482.0 137.4 481.0 137.4 480.0 137.4 479.0 137.4 478.0 137.5 477.0 137.5 476.0 137.5 475.0 137.5 474.0 137.5 473.0 137.5 472.0 137.5 471.0 137.5 470.0 137.5 469.0 137.5 468.0 137.5 467.0 137.5 466.0 137.5 465.0 137.5 464.0 137.5 463.0 137.5 462.0 137.5 461.0 137.5 460.0 137.5 459.0 137.5 458.0 137.5 457.0 137.5 456.0 137.5 455.0 137.5 454.0 137.5 453.0 137.5 452.0 137.5 451.0 137.5 450.0 137.5 449.0 137.5 448.0 137.5 447.0 137.5 446.0 137.5 445.0 137.5 444.0 137.5 443.0 137.5 442.0 137.5 441.0 137.5 440.0 137.5 439.0 137.5 438.0 137.5 437.0 137.5 436.0 137.5 435.0 137.5 434.0 137.5 433.0 137.5 432.0 137.5 431.0 137.5 430.0 137.5 429.0 137.5 428.0 137.5 427.0 137.5 426.0 137.5 425.0 137.5 424.0 137.5 423.0 137.5 422.0 137.5 421.0 137.5 420.0 137.5 419.0 137.5 418.0 137.5 417.0 137.5 416.0 137.5 415.0 137.5 414.0 137.5 413.0 137.5 412.0 137.5 411.0 137.5 410.0 137.5 409.0 137.5 408.0 137.5 407.0 137.5 406.0 137.5 405.0 137.5Z" fill="url(#b5)"/></g></g><defs><clipPath id="clC"><rect x="72.5" y="216.6" width="197.8" height="149.6"/></clipPath><filter id="fC" filterUnits="userSpaceOnUse" x="60" y="205" width="225" height="175" color-interpolation-filters="sRGB"><feGaussianBlur stdDeviation="0.60"/><feComponentTransfer><feFuncR type="table" tableValues="1.000 1.000 1.000 1.000 1.000 1.000 1.000 1.000 1.000 1.000 1.000 1.000 1.000 1.000 1.000 1.000 1.000 1.000 1.000 1.000 1.000 1.000 1.000 1.000 1.000 1.000 1.000 1.000 1.000 1.000 1.000 1.000 1.000 1.000 1.000 1.000 1.000 1.000 1.000 1.000 0.988 0.963 0.937 0.912 0.886 0.859 0.833 0.806 0.777 0.748 0.718 0.688 0.657 0.627 0.597 0.566 0.537 0.508 0.479 0.450 0.420 0.390 0.361 0.331"/><feFuncG type="table" tableValues="0.970 0.959 0.947 0.936 0.925 0.914 0.903 0.892 0.880 0.867 0.854 0.841 0.828 0.814 0.801 0.788 0.773 0.754 0.736 0.717 0.698 0.679 0.660 0.641 0.619 0.591 0.564 0.536 0.508 0.480 0.451 0.423 0.395 0.368 0.341 0.313 0.286 0.258 0.230 0.201 0.173 0.145 0.116 0.087 0.057 0.028 0.008 0.001 0.000 0.000 0.000 0.000 0.000 0.000 0.000 0.000 0.000 0.000 0.000 0.000 0.000 0.000 0.000 0.000"/><feFuncB type="table" tableValues="0.954 0.943 0.933 0.922 0.911 0.901 0.890 0.879 0.868 0.854 0.840 0.825 0.811 0.797 0.783 0.768 0.756 0.752 0.747 0.742 0.737 0.732 0.727 0.722 0.716 0.706 0.697 0.688 0.678 0.669 0.659 0.650 0.643 0.638 0.633 0.629 0.624 0.619 0.615 0.610 0.600 0.588 0.575 0.562 0.550 0.537 0.524 0.511 0.505 0.501 0.498 0.494 0.490 0.487 0.483 0.479 0.473 0.466 0.459 0.453 0.446 0.439 0.432 0.425"/></feComponentTransfer></filter><filter id="fCi" filterUnits="userSpaceOnUse" x="60" y="205" width="225" height="175" color-interpolation-filters="sRGB"><feGaussianBlur stdDeviation="0.80"/></filter><linearGradient id="c1u" gradientUnits="userSpaceOnUse" x1="60.0" y1="0" x2="285.0" y2="0"><stop offset="0.0387" stop-color="#1f1f1f"/><stop offset="0.0475" stop-color="#222222"/><stop offset="0.0562" stop-color="#474747"/><stop offset="0.0650" stop-color="#6c6c6c"/><stop offset="0.0738" stop-color="#6e6e6e"/><stop offset="0.0825" stop-color="#6f6f6f"/><stop offset="0.0913" stop-color="#6f6f6f"/><stop offset="0.1001" stop-color="#6f6f6f"/><stop offset="0.1088" stop-color="#6f6f6f"/><stop offset="0.1176" stop-color="#6f6f6f"/><stop offset="0.1264" stop-color="#6f6f6f"/><stop offset="0.1351" stop-color="#6f6f6f"/><stop offset="0.1439" stop-color="#474747"/><stop offset="0.1527" stop-color="#1f1f1f"/><stop offset="0.1614" stop-color="#1f1f1f"/><stop offset="0.1702" stop-color="#1f1f1f"/><stop offset="0.1790" stop-color="#1f1f1f"/><stop offset="0.1878" stop-color="#1f1f1f"/><stop offset="0.1965" stop-color="#1f1f1f"/><stop offset="0.2053" stop-color="#1f1f1f"/><stop offset="0.2141" stop-color="#1f1f1f"/><stop offset="0.2228" stop-color="#222222"/><stop offset="0.2316" stop-color="#474747"/><stop offset="0.2404" stop-color="#6c6c6c"/><stop offset="0.2491" stop-color="#6e6e6e"/><stop offset="0.2579" stop-color="#6f6f6f"/><stop offset="0.2667" stop-color="#6f6f6f"/><stop offset="0.2754" stop-color="#6f6f6f"/><stop offset="0.2842" stop-color="#6f6f6f"/><stop offset="0.2930" stop-color="#6f6f6f"/><stop offset="0.3018" stop-color="#6f6f6f"/><stop offset="0.3105" stop-color="#6f6f6f"/><stop offset="0.3193" stop-color="#474747"/><stop offset="0.3281" stop-color="#1f1f1f"/><stop offset="0.3368" stop-color="#1f1f1f"/><stop offset="0.3456" stop-color="#1f1f1f"/><stop offset="0.3544" stop-color="#1f1f1f"/><stop offset="0.3631" stop-color="#1f1f1f"/><stop offset="0.3719" stop-color="#1f1f1f"/><stop offset="0.3807" stop-color="#1f1f1f"/><stop offset="0.3894" stop-color="#1f1f1f"/><stop offset="0.3982" stop-color="#222222"/><stop offset="0.4070" stop-color="#474747"/><stop offset="0.4157" stop-color="#6c6c6c"/><stop offset="0.4245" stop-color="#6e6e6e"/><stop offset="0.4333" stop-color="#6f6f6f"/><stop offset="0.4421" stop-color="#6f6f6f"/><stop offset="0.4508" stop-color="#6f6f6f"/><stop offset="0.4596" stop-color="#6f6f6f"/><stop offset="0.4684" stop-color="#6f6f6f"/><stop offset="0.4771" stop-color="#6f6f6f"/><stop offset="0.4859" stop-color="#6f6f6f"/><stop offset="0.4947" stop-color="#474747"/><stop offset="0.5034" stop-color="#6f6f6f"/><stop offset="0.5122" stop-color="#6f6f6f"/><stop offset="0.5210" stop-color="#6f6f6f"/><stop offset="0.5297" stop-color="#6f6f6f"/><stop offset="0.5385" stop-color="#6f6f6f"/><stop offset="0.5473" stop-color="#6f6f6f"/><stop offset="0.5560" stop-color="#6f6f6f"/><stop offset="0.5648" stop-color="#6e6e6e"/><stop offset="0.5736" stop-color="#6c6c6c"/><stop offset="0.5824" stop-color="#474747"/><stop offset="0.5911" stop-color="#222222"/><stop offset="0.5999" stop-color="#1f1f1f"/><stop offset="0.6087" stop-color="#1f1f1f"/><stop offset="0.6174" stop-color="#1f1f1f"/><stop offset="0.6262" stop-color="#1f1f1f"/><stop offset="0.6350" stop-color="#1f1f1f"/><stop offset="0.6437" stop-color="#1f1f1f"/><stop offset="0.6525" stop-color="#1f1f1f"/><stop offset="0.6613" stop-color="#1f1f1f"/><stop offset="0.6700" stop-color="#474747"/><stop offset="0.6788" stop-color="#6f6f6f"/><stop offset="0.6876" stop-color="#6f6f6f"/><stop offset="0.6964" stop-color="#6f6f6f"/><stop offset="0.7051" stop-color="#6f6f6f"/><stop offset="0.7139" stop-color="#6f6f6f"/><stop offset="0.7227" stop-color="#6f6f6f"/><stop offset="0.7314" stop-color="#6f6f6f"/><stop offset="0.7402" stop-color="#6e6e6e"/><stop offset="0.7490" stop-color="#6c6c6c"/><stop offset="0.7577" stop-color="#474747"/><stop offset="0.7665" stop-color="#222222"/><stop offset="0.7753" stop-color="#1f1f1f"/><stop offset="0.7840" stop-color="#1f1f1f"/><stop offset="0.7928" stop-color="#1f1f1f"/><stop offset="0.8016" stop-color="#1f1f1f"/><stop offset="0.8103" stop-color="#1f1f1f"/><stop offset="0.8191" stop-color="#1f1f1f"/><stop offset="0.8279" stop-color="#1f1f1f"/><stop offset="0.8367" stop-color="#1f1f1f"/><stop offset="0.8454" stop-color="#474747"/><stop offset="0.8542" stop-color="#6f6f6f"/><stop offset="0.8630" stop-color="#6f6f6f"/><stop offset="0.8717" stop-color="#6f6f6f"/><stop offset="0.8805" stop-color="#6f6f6f"/><stop offset="0.8893" stop-color="#6f6f6f"/><stop offset="0.8980" stop-color="#6f6f6f"/><stop offset="0.9068" stop-color="#6f6f6f"/><stop offset="0.9156" stop-color="#6e6e6e"/><stop offset="0.9243" stop-color="#6c6c6c"/><stop offset="0.9331" stop-color="#474747"/><stop offset="0.9419" stop-color="#222222"/><stop offset="0.9506" stop-color="#1f1f1f"/></linearGradient><linearGradient id="c1l" gradientUnits="userSpaceOnUse" x1="60.0" y1="0" x2="285.0" y2="0"><stop offset="0.0387" stop-color="#777777"/><stop offset="0.0475" stop-color="#757575"/><stop offset="0.0562" stop-color="#4b4b4b"/><stop offset="0.0650" stop-color="#222222"/><stop offset="0.0738" stop-color="#1f1f1f"/><stop offset="0.0825" stop-color="#1f1f1f"/><stop offset="0.0913" stop-color="#1f1f1f"/><stop offset="0.1001" stop-color="#1f1f1f"/><stop offset="0.1088" stop-color="#1f1f1f"/><stop offset="0.1176" stop-color="#1f1f1f"/><stop offset="0.1264" stop-color="#1f1f1f"/><stop offset="0.1351" stop-color="#1f1f1f"/><stop offset="0.1439" stop-color="#4b4b4b"/><stop offset="0.1527" stop-color="#777777"/><stop offset="0.1614" stop-color="#777777"/><stop offset="0.1702" stop-color="#777777"/><stop offset="0.1790" stop-color="#777777"/><stop offset="0.1878" stop-color="#777777"/><stop offset="0.1965" stop-color="#777777"/><stop offset="0.2053" stop-color="#777777"/><stop offset="0.2141" stop-color="#777777"/><stop offset="0.2228" stop-color="#757575"/><stop offset="0.2316" stop-color="#4b4b4b"/><stop offset="0.2404" stop-color="#222222"/><stop offset="0.2491" stop-color="#1f1f1f"/><stop offset="0.2579" stop-color="#1f1f1f"/><stop offset="0.2667" stop-color="#1f1f1f"/><stop offset="0.2754" stop-color="#1f1f1f"/><stop offset="0.2842" stop-color="#1f1f1f"/><stop offset="0.2930" stop-color="#1f1f1f"/><stop offset="0.3018" stop-color="#1f1f1f"/><stop offset="0.3105" stop-color="#1f1f1f"/><stop offset="0.3193" stop-color="#4b4b4b"/><stop offset="0.3281" stop-color="#777777"/><stop offset="0.3368" stop-color="#777777"/><stop offset="0.3456" stop-color="#777777"/><stop offset="0.3544" stop-color="#777777"/><stop offset="0.3631" stop-color="#777777"/><stop offset="0.3719" stop-color="#777777"/><stop offset="0.3807" stop-color="#777777"/><stop offset="0.3894" stop-color="#777777"/><stop offset="0.3982" stop-color="#757575"/><stop offset="0.4070" stop-color="#4b4b4b"/><stop offset="0.4157" stop-color="#222222"/><stop offset="0.4245" stop-color="#1f1f1f"/><stop offset="0.4333" stop-color="#1f1f1f"/><stop offset="0.4421" stop-color="#1f1f1f"/><stop offset="0.4508" stop-color="#1f1f1f"/><stop offset="0.4596" stop-color="#1f1f1f"/><stop offset="0.4684" stop-color="#1f1f1f"/><stop offset="0.4771" stop-color="#1f1f1f"/><stop offset="0.4859" stop-color="#1f1f1f"/><stop offset="0.4947" stop-color="#4b4b4b"/><stop offset="0.5034" stop-color="#1f1f1f"/><stop offset="0.5122" stop-color="#1f1f1f"/><stop offset="0.5210" stop-color="#1f1f1f"/><stop offset="0.5297" stop-color="#1f1f1f"/><stop offset="0.5385" stop-color="#1f1f1f"/><stop offset="0.5473" stop-color="#1f1f1f"/><stop offset="0.5560" stop-color="#1f1f1f"/><stop offset="0.5648" stop-color="#1f1f1f"/><stop offset="0.5736" stop-color="#222222"/><stop offset="0.5824" stop-color="#4b4b4b"/><stop offset="0.5911" stop-color="#757575"/><stop offset="0.5999" stop-color="#777777"/><stop offset="0.6087" stop-color="#777777"/><stop offset="0.6174" stop-color="#777777"/><stop offset="0.6262" stop-color="#777777"/><stop offset="0.6350" stop-color="#777777"/><stop offset="0.6437" stop-color="#777777"/><stop offset="0.6525" stop-color="#777777"/><stop offset="0.6613" stop-color="#777777"/><stop offset="0.6700" stop-color="#4b4b4b"/><stop offset="0.6788" stop-color="#1f1f1f"/><stop offset="0.6876" stop-color="#1f1f1f"/><stop offset="0.6964" stop-color="#1f1f1f"/><stop offset="0.7051" stop-color="#1f1f1f"/><stop offset="0.7139" stop-color="#1f1f1f"/><stop offset="0.7227" stop-color="#1f1f1f"/><stop offset="0.7314" stop-color="#1f1f1f"/><stop offset="0.7402" stop-color="#1f1f1f"/><stop offset="0.7490" stop-color="#222222"/><stop offset="0.7577" stop-color="#4b4b4b"/><stop offset="0.7665" stop-color="#757575"/><stop offset="0.7753" stop-color="#777777"/><stop offset="0.7840" stop-color="#777777"/><stop offset="0.7928" stop-color="#777777"/><stop offset="0.8016" stop-color="#777777"/><stop offset="0.8103" stop-color="#777777"/><stop offset="0.8191" stop-color="#777777"/><stop offset="0.8279" stop-color="#777777"/><stop offset="0.8367" stop-color="#777777"/><stop offset="0.8454" stop-color="#4b4b4b"/><stop offset="0.8542" stop-color="#1f1f1f"/><stop offset="0.8630" stop-color="#1f1f1f"/><stop offset="0.8717" stop-color="#1f1f1f"/><stop offset="0.8805" stop-color="#1f1f1f"/><stop offset="0.8893" stop-color="#1f1f1f"/><stop offset="0.8980" stop-color="#1f1f1f"/><stop offset="0.9068" stop-color="#1f1f1f"/><stop offset="0.9156" stop-color="#1f1f1f"/><stop offset="0.9243" stop-color="#222222"/><stop offset="0.9331" stop-color="#4b4b4b"/><stop offset="0.9419" stop-color="#757575"/><stop offset="0.9506" stop-color="#777777"/></linearGradient><linearGradient id="c2" gradientUnits="userSpaceOnUse" x1="60.0" y1="0" x2="285.0" y2="0"><stop offset="0.0387" stop-color="#141414"/><stop offset="0.0475" stop-color="#151515"/><stop offset="0.0562" stop-color="#232323"/><stop offset="0.0650" stop-color="#313131"/><stop offset="0.0738" stop-color="#383838"/><stop offset="0.0825" stop-color="#474747"/><stop offset="0.0913" stop-color="#555555"/><stop offset="0.1001" stop-color="#636363"/><stop offset="0.1088" stop-color="#717171"/><stop offset="0.1176" stop-color="#7f7f7f"/><stop offset="0.1264" stop-color="#8b8b8b"/><stop offset="0.1351" stop-color="#8b8b8b"/><stop offset="0.1439" stop-color="#757575"/><stop offset="0.1527" stop-color="#525252"/><stop offset="0.1614" stop-color="#434343"/><stop offset="0.1702" stop-color="#414141"/><stop offset="0.1790" stop-color="#414141"/><stop offset="0.1878" stop-color="#414141"/><stop offset="0.1965" stop-color="#414141"/><stop offset="0.2053" stop-color="#414141"/><stop offset="0.2141" stop-color="#414141"/><stop offset="0.2228" stop-color="#474747"/><stop offset="0.2316" stop-color="#757575"/><stop offset="0.2404" stop-color="#a3a3a3"/><stop offset="0.2491" stop-color="#a9a9a9"/><stop offset="0.2579" stop-color="#a9a9a9"/><stop offset="0.2667" stop-color="#a9a9a9"/><stop offset="0.2754" stop-color="#a9a9a9"/><stop offset="0.2842" stop-color="#a9a9a9"/><stop offset="0.2930" stop-color="#a9a9a9"/><stop offset="0.3018" stop-color="#a7a7a7"/><stop offset="0.3105" stop-color="#989898"/><stop offset="0.3193" stop-color="#757575"/><stop offset="0.3281" stop-color="#525252"/><stop offset="0.3368" stop-color="#434343"/><stop offset="0.3456" stop-color="#414141"/><stop offset="0.3544" stop-color="#414141"/><stop offset="0.3631" stop-color="#414141"/><stop offset="0.3719" stop-color="#414141"/><stop offset="0.3807" stop-color="#414141"/><stop offset="0.3894" stop-color="#414141"/><stop offset="0.3982" stop-color="#474747"/><stop offset="0.4070" stop-color="#757575"/><stop offset="0.4157" stop-color="#a3a3a3"/><stop offset="0.4245" stop-color="#a9a9a9"/><stop offset="0.4333" stop-color="#a9a9a9"/><stop offset="0.4421" stop-color="#a9a9a9"/><stop offset="0.4508" stop-color="#a9a9a9"/><stop offset="0.4596" stop-color="#a9a9a9"/><stop offset="0.4684" stop-color="#a9a9a9"/><stop offset="0.4771" stop-color="#a7a7a7"/><stop offset="0.4859" stop-color="#989898"/><stop offset="0.4947" stop-color="#757575"/><stop offset="0.5034" stop-color="#989898"/><stop offset="0.5122" stop-color="#a7a7a7"/><stop offset="0.5210" stop-color="#a9a9a9"/><stop offset="0.5297" stop-color="#a9a9a9"/><stop offset="0.5385" stop-color="#a9a9a9"/><stop offset="0.5473" stop-color="#a9a9a9"/><stop offset="0.5560" stop-color="#a9a9a9"/><stop offset="0.5648" stop-color="#a9a9a9"/><stop offset="0.5736" stop-color="#a3a3a3"/><stop offset="0.5824" stop-color="#757575"/><stop offset="0.5911" stop-color="#474747"/><stop offset="0.5999" stop-color="#414141"/><stop offset="0.6087" stop-color="#414141"/><stop offset="0.6174" stop-color="#414141"/><stop offset="0.6262" stop-color="#414141"/><stop offset="0.6350" stop-color="#414141"/><stop offset="0.6437" stop-color="#414141"/><stop offset="0.6525" stop-color="#434343"/><stop offset="0.6613" stop-color="#525252"/><stop offset="0.6700" stop-color="#757575"/><stop offset="0.6788" stop-color="#989898"/><stop offset="0.6876" stop-color="#a7a7a7"/><stop offset="0.6964" stop-color="#a9a9a9"/><stop offset="0.7051" stop-color="#a9a9a9"/><stop offset="0.7139" stop-color="#a9a9a9"/><stop offset="0.7227" stop-color="#a9a9a9"/><stop offset="0.7314" stop-color="#a9a9a9"/><stop offset="0.7402" stop-color="#a9a9a9"/><stop offset="0.7490" stop-color="#a3a3a3"/><stop offset="0.7577" stop-color="#757575"/><stop offset="0.7665" stop-color="#474747"/><stop offset="0.7753" stop-color="#414141"/><stop offset="0.7840" stop-color="#414141"/><stop offset="0.7928" stop-color="#414141"/><stop offset="0.8016" stop-color="#414141"/><stop offset="0.8103" stop-color="#414141"/><stop offset="0.8191" stop-color="#414141"/><stop offset="0.8279" stop-color="#434343"/><stop offset="0.8367" stop-color="#525252"/><stop offset="0.8454" stop-color="#757575"/><stop offset="0.8542" stop-color="#8b8b8b"/><stop offset="0.8630" stop-color="#8b8b8b"/><stop offset="0.8717" stop-color="#7f7f7f"/><stop offset="0.8805" stop-color="#717171"/><stop offset="0.8893" stop-color="#636363"/><stop offset="0.8980" stop-color="#555555"/><stop offset="0.9068" stop-color="#474747"/><stop offset="0.9156" stop-color="#383838"/><stop offset="0.9243" stop-color="#313131"/><stop offset="0.9331" stop-color="#232323"/><stop offset="0.9419" stop-color="#151515"/><stop offset="0.9506" stop-color="#141414"/></linearGradient><linearGradient id="c3" gradientUnits="userSpaceOnUse" x1="60.0" y1="0" x2="285.0" y2="0"><stop offset="0.1088" stop-color="#000000"/><stop offset="0.1176" stop-color="#070707"/><stop offset="0.1264" stop-color="#101010"/><stop offset="0.1351" stop-color="#1c1c1c"/><stop offset="0.1439" stop-color="#303030"/><stop offset="0.1527" stop-color="#494949"/><stop offset="0.1614" stop-color="#606060"/><stop offset="0.1702" stop-color="#737373"/><stop offset="0.1790" stop-color="#858585"/><stop offset="0.1878" stop-color="#959595"/><stop offset="0.1965" stop-color="#a3a3a3"/><stop offset="0.2053" stop-color="#9d9d9d"/><stop offset="0.2141" stop-color="#919191"/><stop offset="0.2228" stop-color="#818181"/><stop offset="0.2316" stop-color="#777777"/><stop offset="0.2404" stop-color="#6d6d6d"/><stop offset="0.2491" stop-color="#5d5d5d"/><stop offset="0.2579" stop-color="#515151"/><stop offset="0.2667" stop-color="#4b4b4b"/><stop offset="0.2754" stop-color="#494949"/><stop offset="0.2842" stop-color="#484848"/><stop offset="0.2930" stop-color="#4a4a4a"/><stop offset="0.3018" stop-color="#4e4e4e"/><stop offset="0.3105" stop-color="#5c5c5c"/><stop offset="0.3193" stop-color="#777777"/><stop offset="0.3281" stop-color="#929292"/><stop offset="0.3368" stop-color="#a0a0a0"/><stop offset="0.3456" stop-color="#a4a4a4"/><stop offset="0.3544" stop-color="#a6a6a6"/><stop offset="0.3631" stop-color="#a5a5a5"/><stop offset="0.3719" stop-color="#a3a3a3"/><stop offset="0.3807" stop-color="#9d9d9d"/><stop offset="0.3894" stop-color="#919191"/><stop offset="0.3982" stop-color="#818181"/><stop offset="0.4070" stop-color="#777777"/><stop offset="0.4157" stop-color="#6d6d6d"/><stop offset="0.4245" stop-color="#5d5d5d"/><stop offset="0.4333" stop-color="#515151"/><stop offset="0.4421" stop-color="#4b4b4b"/><stop offset="0.4508" stop-color="#494949"/><stop offset="0.4596" stop-color="#484848"/><stop offset="0.4684" stop-color="#4a4a4a"/><stop offset="0.4771" stop-color="#4e4e4e"/><stop offset="0.4859" stop-color="#5c5c5c"/><stop offset="0.4947" stop-color="#777777"/><stop offset="0.5034" stop-color="#5c5c5c"/><stop offset="0.5122" stop-color="#4e4e4e"/><stop offset="0.5210" stop-color="#4a4a4a"/><stop offset="0.5297" stop-color="#484848"/><stop offset="0.5385" stop-color="#494949"/><stop offset="0.5473" stop-color="#4b4b4b"/><stop offset="0.5560" stop-color="#515151"/><stop offset="0.5648" stop-color="#5d5d5d"/><stop offset="0.5736" stop-color="#6d6d6d"/><stop offset="0.5824" stop-color="#777777"/><stop offset="0.5911" stop-color="#818181"/><stop offset="0.5999" stop-color="#919191"/><stop offset="0.6087" stop-color="#9d9d9d"/><stop offset="0.6174" stop-color="#a3a3a3"/><stop offset="0.6262" stop-color="#a5a5a5"/><stop offset="0.6350" stop-color="#a6a6a6"/><stop offset="0.6437" stop-color="#a4a4a4"/><stop offset="0.6525" stop-color="#a0a0a0"/><stop offset="0.6613" stop-color="#929292"/><stop offset="0.6700" stop-color="#777777"/><stop offset="0.6788" stop-color="#5c5c5c"/><stop offset="0.6876" stop-color="#4e4e4e"/><stop offset="0.6964" stop-color="#4a4a4a"/><stop offset="0.7051" stop-color="#484848"/><stop offset="0.7139" stop-color="#494949"/><stop offset="0.7227" stop-color="#4b4b4b"/><stop offset="0.7314" stop-color="#515151"/><stop offset="0.7402" stop-color="#5d5d5d"/><stop offset="0.7490" stop-color="#6d6d6d"/><stop offset="0.7577" stop-color="#777777"/><stop offset="0.7665" stop-color="#818181"/><stop offset="0.7753" stop-color="#919191"/><stop offset="0.7840" stop-color="#9d9d9d"/><stop offset="0.7928" stop-color="#a3a3a3"/><stop offset="0.8016" stop-color="#959595"/><stop offset="0.8103" stop-color="#858585"/><stop offset="0.8191" stop-color="#737373"/><stop offset="0.8279" stop-color="#606060"/><stop offset="0.8367" stop-color="#494949"/><stop offset="0.8454" stop-color="#303030"/><stop offset="0.8542" stop-color="#1c1c1c"/><stop offset="0.8630" stop-color="#101010"/><stop offset="0.8717" stop-color="#070707"/><stop offset="0.8805" stop-color="#000000"/></linearGradient><linearGradient id="c4a" gradientUnits="userSpaceOnUse" x1="60.0" y1="0" x2="285.0" y2="0"><stop offset="0.1965" stop-color="#000000"/><stop offset="0.2667" stop-color="#444444"/><stop offset="0.3631" stop-color="#898989"/><stop offset="0.4947" stop-color="#939393"/><stop offset="0.6262" stop-color="#898989"/><stop offset="0.7227" stop-color="#444444"/><stop offset="0.7928" stop-color="#000000"/></linearGradient><linearGradient id="c4b" gradientUnits="userSpaceOnUse" x1="60.0" y1="0" x2="285.0" y2="0"><stop offset="0.2754" stop-color="#000000"/><stop offset="0.3368" stop-color="#525252"/><stop offset="0.4070" stop-color="#b9b9b9"/><stop offset="0.4596" stop-color="#ebebeb"/><stop offset="0.4947" stop-color="#fafafa"/><stop offset="0.5297" stop-color="#ebebeb"/><stop offset="0.5824" stop-color="#b9b9b9"/><stop offset="0.6525" stop-color="#525252"/><stop offset="0.7139" stop-color="#000000"/></linearGradient></defs><g clip-path="url(#clC)"><g filter="url(#fC)"><rect x="60" y="205" width="225" height="175" fill="#000"/><g filter="url(#fCi)"><path d="M60.0 234.2 61.0 232.9 62.0 231.7 63.0 230.4 64.0 229.3 65.0 228.2 66.0 227.2 67.0 226.2 68.0 225.4 69.0 224.7 70.0 224.1 71.0 223.7 72.0 223.5 73.0 223.5 74.0 223.7 75.0 224.0 76.0 224.5 77.0 225.2 78.0 226.0 79.0 226.9 80.0 227.9 81.0 228.9 82.0 230.1 83.0 231.3 84.0 232.5 85.0 233.8 86.0 235.1 87.0 236.4 88.0 237.8 89.0 239.1 90.0 240.5 91.0 241.9 92.0 243.8 93.0 243.3 94.0 241.6 95.0 240.2 96.0 238.8 97.0 237.4 98.0 236.1 99.0 234.8 100.0 233.5 101.0 232.2 102.0 231.0 103.0 229.8 104.0 228.7 105.0 227.6 106.0 226.6 107.0 225.7 108.0 225.0 109.0 224.4 110.0 223.9 111.0 223.6 112.0 223.5 113.0 223.6 114.0 223.8 115.0 224.2 116.0 224.8 117.0 225.6 118.0 226.4 119.0 227.4 120.0 228.4 121.0 229.6 122.0 230.7 123.0 232.0 124.0 233.2 125.0 234.5 126.0 235.8 127.0 237.1 128.0 238.5 129.0 239.9 130.0 241.2 131.0 242.8 132.0 244.2 133.0 242.2 134.0 240.8 135.0 239.4 136.0 238.1 137.0 236.7 138.0 235.4 139.0 234.1 140.0 232.8 141.0 231.6 142.0 230.4 143.0 229.2 144.0 228.1 145.0 227.1 146.0 226.1 147.0 225.3 148.0 224.6 149.0 224.1 150.0 223.7 151.0 223.5 152.0 223.5 153.0 223.7 154.0 224.0 155.0 224.5 156.0 225.2 157.0 226.0 158.0 226.9 159.0 228.0 160.0 229.0 161.0 230.2 162.0 231.4 163.0 232.6 164.0 233.9 165.0 235.2 166.0 236.5 167.0 237.9 168.0 239.2 169.0 240.6 170.0 242.0 171.0 243.9 172.0 243.1 173.0 241.4 174.0 240.1 175.0 238.7 176.0 237.3 177.0 236.0 178.0 234.7 179.0 233.4 180.0 232.1 181.0 230.9 182.0 229.7 183.0 228.6 184.0 227.5 185.0 226.6 186.0 225.7 187.0 224.9 188.0 224.3 189.0 223.9 190.0 223.6 191.0 223.5 192.0 223.6 193.0 223.8 194.0 224.3 195.0 224.9 196.0 225.6 197.0 226.5 198.0 227.5 199.0 228.5 200.0 229.7 201.0 230.8 202.0 232.1 203.0 233.3 204.0 234.6 205.0 235.9 206.0 237.3 207.0 238.6 208.0 240.0 209.0 241.4 210.0 243.0 211.0 244.0 212.0 242.1 213.0 240.7 214.0 239.3 215.0 238.0 216.0 236.6 217.0 235.3 218.0 234.0 219.0 232.7 220.0 231.5 221.0 230.3 222.0 229.1 223.0 228.0 224.0 227.0 225.0 226.1 226.0 225.3 227.0 224.6 228.0 224.1 229.0 223.7 230.0 223.5 231.0 223.5 232.0 223.7 233.0 224.1 234.0 224.6 235.0 225.3 236.0 226.1 237.0 227.0 238.0 228.0 239.0 229.1 240.0 230.3 241.0 231.5 242.0 232.7 243.0 234.0 244.0 235.3 245.0 236.6 246.0 238.0 247.0 239.3 248.0 240.7 249.0 242.1 250.0 244.1 251.0 242.9 252.0 241.3 253.0 240.0 254.0 238.6 255.0 237.2 256.0 235.9 257.0 234.6 258.0 233.3 259.0 232.0 260.0 230.8 261.0 229.6 262.0 228.5 263.0 227.5 264.0 226.5 265.0 225.6 266.0 224.9 267.0 224.3 268.0 223.8 269.0 223.6 270.0 223.5 271.0 223.6 272.0 223.9 273.0 224.3 274.0 224.9 275.0 225.7 276.0 226.6 277.0 227.6 278.0 228.6 279.0 229.7 280.0 230.9 281.0 232.2 282.0 233.4 283.0 234.7 284.0 236.0 285.0 237.4 285.0 240.1 284.0 238.7 283.0 237.4 282.0 236.0 281.0 234.7 280.0 233.5 279.0 232.2 278.0 231.0 277.0 229.9 276.0 228.8 275.0 227.8 274.0 226.9 273.0 226.2 272.0 225.6 271.0 225.2 270.0 225.1 269.0 225.2 268.0 225.6 267.0 226.1 266.0 226.9 265.0 227.7 264.0 228.7 263.0 229.8 262.0 230.9 261.0 232.1 260.0 233.3 259.0 234.6 258.0 235.9 257.0 237.2 256.0 238.6 255.0 239.9 254.0 241.3 253.0 242.7 252.0 244.1 251.0 245.3 250.0 245.7 249.0 244.9 248.0 243.5 247.0 242.1 246.0 240.7 245.0 239.3 244.0 238.0 243.0 236.6 242.0 235.3 241.0 234.0 240.0 232.8 239.0 231.6 238.0 230.4 237.0 229.3 236.0 228.3 235.0 227.3 234.0 226.5 233.0 225.9 232.0 225.4 231.0 225.1 230.0 225.1 229.0 225.4 228.0 225.8 227.0 226.5 226.0 227.3 225.0 228.3 224.0 229.3 223.0 230.4 222.0 231.6 221.0 232.8 220.0 234.0 219.0 235.3 218.0 236.6 217.0 237.9 216.0 239.3 215.0 240.7 214.0 242.0 213.0 243.4 212.0 244.8 211.0 245.7 210.0 245.3 209.0 244.1 208.0 242.7 207.0 241.3 206.0 240.0 205.0 238.6 204.0 237.3 203.0 235.9 202.0 234.6 201.0 233.4 200.0 232.1 199.0 230.9 198.0 229.8 197.0 228.7 196.0 227.8 195.0 226.9 194.0 226.1 193.0 225.6 192.0 225.2 191.0 225.1 190.0 225.2 189.0 225.6 188.0 226.2 187.0 226.9 186.0 227.8 185.0 228.8 184.0 229.9 183.0 231.0 182.0 232.2 181.0 233.4 180.0 234.7 179.0 236.0 178.0 237.3 177.0 238.7 176.0 240.0 175.0 241.4 174.0 242.8 173.0 244.2 172.0 245.3 171.0 245.6 170.0 244.8 169.0 243.4 168.0 242.0 167.0 240.6 166.0 239.2 165.0 237.9 164.0 236.5 163.0 235.2 162.0 233.9 161.0 232.7 160.0 231.5 159.0 230.3 158.0 229.2 157.0 228.2 156.0 227.3 155.0 226.5 154.0 225.8 153.0 225.4 152.0 225.1 151.0 225.1 150.0 225.4 149.0 225.9 148.0 226.6 147.0 227.4 146.0 228.3 145.0 229.4 144.0 230.5 143.0 231.6 142.0 232.9 141.0 234.1 140.0 235.4 139.0 236.7 138.0 238.1 137.0 239.4 136.0 240.8 135.0 242.2 134.0 243.5 133.0 244.9 132.0 245.8 131.0 245.3 130.0 244.0 129.0 242.6 128.0 241.2 127.0 239.8 126.0 238.5 125.0 237.1 124.0 235.8 123.0 234.5 122.0 233.3 121.0 232.0 120.0 230.8 119.0 229.7 118.0 228.7 117.0 227.7 116.0 226.8 115.0 226.1 114.0 225.5 113.0 225.2 112.0 225.1 111.0 225.3 110.0 225.6 109.0 226.2 108.0 227.0 107.0 227.9 106.0 228.9 105.0 230.0 104.0 231.1 103.0 232.3 102.0 233.5 101.0 234.8 100.0 236.1 99.0 237.4 98.0 238.8 97.0 240.1 96.0 241.5 95.0 242.9 94.0 244.3 93.0 245.4 92.0 245.6 91.0 244.6 90.0 243.2 89.0 241.8 88.0 240.5 87.0 239.1 86.0 237.8 85.0 236.4 84.0 235.1 83.0 233.8 82.0 232.6 81.0 231.4 80.0 230.2 79.0 229.1 78.0 228.1 77.0 227.2 76.0 226.4 75.0 225.8 74.0 225.3 73.0 225.1 72.0 225.2 71.0 225.4 70.0 225.9 69.0 226.6 68.0 227.5 67.0 228.4 66.0 229.5 65.0 230.6 64.0 231.7 63.0 233.0 62.0 234.2 61.0 235.5 60.0 236.8Z" fill="url(#c1u)" style="mix-blend-mode:plus-lighter"/><path d="M60.0 256.3 61.0 257.7 62.0 259.0 63.0 260.4 64.0 261.7 65.0 262.9 66.0 264.1 67.0 265.2 68.0 266.2 69.0 267.1 70.0 267.8 71.0 268.3 72.0 268.6 73.0 268.7 74.0 268.5 75.0 268.0 76.0 267.3 77.0 266.5 78.0 265.5 79.0 264.4 80.0 263.3 81.0 262.0 82.0 260.8 83.0 259.4 84.0 258.1 85.0 256.7 86.0 255.3 87.0 253.9 88.0 252.4 89.0 251.0 90.0 249.5 91.0 248.0 92.0 247.0 93.0 247.2 94.0 248.4 95.0 249.9 96.0 251.3 97.0 252.8 98.0 254.2 99.0 255.6 100.0 257.0 101.0 258.4 102.0 259.8 103.0 261.1 104.0 262.3 105.0 263.5 106.0 264.7 107.0 265.7 108.0 266.7 109.0 267.5 110.0 268.1 111.0 268.5 112.0 268.7 113.0 268.6 114.0 268.2 115.0 267.6 116.0 266.9 117.0 266.0 118.0 264.9 119.0 263.8 120.0 262.6 121.0 261.4 122.0 260.1 123.0 258.7 124.0 257.3 125.0 255.9 126.0 254.5 127.0 253.1 128.0 251.6 129.0 250.2 130.0 248.7 131.0 247.4 132.0 246.8 133.0 247.7 134.0 249.2 135.0 250.6 136.0 252.1 137.0 253.6 138.0 255.0 139.0 256.4 140.0 257.8 141.0 259.1 142.0 260.5 143.0 261.8 144.0 263.0 145.0 264.2 146.0 265.3 147.0 266.3 148.0 267.1 149.0 267.9 150.0 268.4 151.0 268.7 152.0 268.7 153.0 268.4 154.0 267.9 155.0 267.3 156.0 266.4 157.0 265.4 158.0 264.3 159.0 263.2 160.0 261.9 161.0 260.7 162.0 259.3 163.0 258.0 164.0 256.6 165.0 255.2 166.0 253.8 167.0 252.3 168.0 250.9 169.0 249.4 170.0 247.9 171.0 247.0 172.0 247.3 173.0 248.5 174.0 250.0 175.0 251.4 176.0 252.9 177.0 254.3 178.0 255.7 179.0 257.1 180.0 258.5 181.0 259.9 182.0 261.2 183.0 262.4 184.0 263.6 185.0 264.8 186.0 265.8 187.0 266.8 188.0 267.6 189.0 268.2 190.0 268.6 191.0 268.7 192.0 268.6 193.0 268.2 194.0 267.6 195.0 266.8 196.0 265.9 197.0 264.8 198.0 263.7 199.0 262.5 200.0 261.2 201.0 259.9 202.0 258.6 203.0 257.2 204.0 255.8 205.0 254.4 206.0 253.0 207.0 251.5 208.0 250.1 209.0 248.6 210.0 247.3 211.0 246.9 212.0 247.8 213.0 249.3 214.0 250.8 215.0 252.2 216.0 253.7 217.0 255.1 218.0 256.5 219.0 257.9 220.0 259.3 221.0 260.6 222.0 261.9 223.0 263.1 224.0 264.3 225.0 265.4 226.0 266.3 227.0 267.2 228.0 267.9 229.0 268.4 230.0 268.7 231.0 268.7 232.0 268.4 233.0 267.9 234.0 267.2 235.0 266.3 236.0 265.3 237.0 264.2 238.0 263.1 239.0 261.8 240.0 260.6 241.0 259.2 242.0 257.9 243.0 256.5 244.0 255.1 245.0 253.6 246.0 252.2 247.0 250.7 248.0 249.3 249.0 247.8 250.0 246.9 251.0 247.3 252.0 248.6 253.0 250.1 254.0 251.6 255.0 253.0 256.0 254.4 257.0 255.9 258.0 257.3 259.0 258.6 260.0 260.0 261.0 261.3 262.0 262.5 263.0 263.7 264.0 264.9 265.0 265.9 266.0 266.8 267.0 267.6 268.0 268.2 269.0 268.6 270.0 268.7 271.0 268.6 272.0 268.2 273.0 267.5 274.0 266.7 275.0 265.8 276.0 264.8 277.0 263.6 278.0 262.4 279.0 261.1 280.0 259.8 281.0 258.5 282.0 257.1 283.0 255.7 284.0 254.3 285.0 252.9 285.0 255.7 284.0 257.1 283.0 258.5 282.0 259.8 281.0 261.2 280.0 262.5 279.0 263.7 278.0 264.9 277.0 266.0 276.0 267.1 275.0 268.0 274.0 268.8 273.0 269.4 272.0 269.9 271.0 270.2 270.0 270.3 269.0 270.2 268.0 269.9 267.0 269.5 266.0 268.9 265.0 268.1 264.0 267.2 263.0 266.1 262.0 265.0 261.0 263.8 260.0 262.6 259.0 261.3 258.0 260.0 257.0 258.6 256.0 257.2 255.0 255.8 254.0 254.4 253.0 252.9 252.0 251.5 251.0 249.8 250.0 248.6 249.0 250.6 248.0 252.1 247.0 253.6 246.0 255.0 245.0 256.4 244.0 257.8 243.0 259.2 242.0 260.6 241.0 261.9 240.0 263.1 239.0 264.4 238.0 265.5 237.0 266.6 236.0 267.6 235.0 268.4 234.0 269.2 233.0 269.7 232.0 270.1 231.0 270.3 230.0 270.3 229.0 270.1 228.0 269.7 227.0 269.2 226.0 268.5 225.0 267.6 224.0 266.6 223.0 265.5 222.0 264.4 221.0 263.2 220.0 261.9 219.0 260.6 218.0 259.2 217.0 257.9 216.0 256.5 215.0 255.0 214.0 253.6 213.0 252.1 212.0 250.7 211.0 248.6 210.0 249.7 209.0 251.4 208.0 252.9 207.0 254.3 206.0 255.8 205.0 257.2 204.0 258.6 203.0 259.9 202.0 261.3 201.0 262.6 200.0 263.8 199.0 265.0 198.0 266.1 197.0 267.1 196.0 268.1 195.0 268.8 194.0 269.5 193.0 269.9 192.0 270.2 191.0 270.3 190.0 270.2 189.0 269.9 188.0 269.4 187.0 268.8 186.0 268.0 185.0 267.1 184.0 266.0 183.0 264.9 182.0 263.7 181.0 262.5 180.0 261.2 179.0 259.9 178.0 258.5 177.0 257.1 176.0 255.7 175.0 254.3 174.0 252.8 173.0 251.3 172.0 249.6 171.0 248.7 170.0 250.8 169.0 252.2 168.0 253.7 167.0 255.1 166.0 256.5 165.0 257.9 164.0 259.3 163.0 260.7 162.0 262.0 161.0 263.2 160.0 264.5 159.0 265.6 158.0 266.7 157.0 267.6 156.0 268.5 155.0 269.2 154.0 269.7 153.0 270.1 152.0 270.3 151.0 270.3 150.0 270.1 149.0 269.7 148.0 269.1 147.0 268.4 146.0 267.5 145.0 266.5 144.0 265.5 143.0 264.3 142.0 263.1 141.0 261.8 140.0 260.5 139.0 259.1 138.0 257.7 137.0 256.3 136.0 254.9 135.0 253.5 134.0 252.0 133.0 250.6 132.0 248.5 131.0 249.9 130.0 251.6 129.0 253.0 128.0 254.5 127.0 255.9 126.0 257.3 125.0 258.7 124.0 260.0 123.0 261.4 122.0 262.7 121.0 263.9 120.0 265.1 119.0 266.2 118.0 267.2 117.0 268.1 116.0 268.9 115.0 269.5 114.0 270.0 113.0 270.2 112.0 270.3 111.0 270.2 110.0 269.9 109.0 269.4 108.0 268.7 107.0 267.9 106.0 267.0 105.0 266.0 104.0 264.8 103.0 263.6 102.0 262.4 101.0 261.1 100.0 259.8 99.0 258.4 98.0 257.0 97.0 255.6 96.0 254.1 95.0 252.7 94.0 251.2 93.0 249.4 92.0 248.9 91.0 250.9 90.0 252.3 89.0 253.8 88.0 255.2 87.0 256.7 86.0 258.1 85.0 259.4 84.0 260.8 83.0 262.1 82.0 263.3 81.0 264.6 80.0 265.7 79.0 266.8 78.0 267.7 77.0 268.6 76.0 269.3 75.0 269.8 74.0 270.1 73.0 270.3 72.0 270.3 71.0 270.0 70.0 269.6 69.0 269.1 68.0 268.3 67.0 267.4 66.0 266.5 65.0 265.4 64.0 264.2 63.0 263.0 62.0 261.7 61.0 260.4 60.0 259.0Z" fill="url(#c1l)" style="mix-blend-mode:plus-lighter"/><path d="M60.0 295.8 61.0 294.9 62.0 293.9 63.0 292.9 64.0 291.8 65.0 290.8 66.0 289.9 67.0 289.1 68.0 288.3 69.0 287.7 70.0 287.2 71.0 286.9 72.0 286.7 73.0 286.7 74.0 286.8 75.0 287.1 76.0 287.5 77.0 288.1 78.0 288.8 79.0 289.6 80.0 290.5 81.0 291.5 82.0 292.5 83.0 293.6 84.0 294.6 85.0 295.5 86.0 296.4 87.0 297.2 88.0 297.8 89.0 298.4 90.0 298.7 91.0 298.9 92.0 299.0 93.0 299.0 94.0 298.9 95.0 298.6 96.0 298.2 97.0 297.7 98.0 297.0 99.0 296.2 100.0 295.3 101.0 294.3 102.0 293.3 103.0 292.3 104.0 291.3 105.0 290.3 106.0 289.4 107.0 288.6 108.0 288.0 109.0 287.4 110.0 287.0 111.0 286.8 112.0 286.7 113.0 286.8 114.0 287.0 115.0 287.3 116.0 287.8 117.0 288.5 118.0 289.2 119.0 290.1 120.0 291.1 121.0 292.1 122.0 293.1 123.0 294.1 124.0 295.1 125.0 296.0 126.0 296.9 127.0 297.6 128.0 298.1 129.0 298.6 130.0 298.8 131.0 299.0 132.0 299.0 133.0 298.9 134.0 298.8 135.0 298.4 136.0 298.0 137.0 297.3 138.0 296.6 139.0 295.7 140.0 294.8 141.0 293.8 142.0 292.8 143.0 291.7 144.0 290.8 145.0 289.8 146.0 289.0 147.0 288.3 148.0 287.7 149.0 287.2 150.0 286.9 151.0 286.7 152.0 286.7 153.0 286.9 154.0 287.1 155.0 287.6 156.0 288.2 157.0 288.9 158.0 289.7 159.0 290.6 160.0 291.6 161.0 292.6 162.0 293.7 163.0 294.7 164.0 295.6 165.0 296.5 166.0 297.3 167.0 297.9 168.0 298.4 169.0 298.7 170.0 298.9 171.0 299.0 172.0 299.0 173.0 298.9 174.0 298.6 175.0 298.2 176.0 297.7 177.0 297.0 178.0 296.2 179.0 295.2 180.0 294.3 181.0 293.2 182.0 292.2 183.0 291.2 184.0 290.2 185.0 289.4 186.0 288.6 187.0 287.9 188.0 287.4 189.0 287.0 190.0 286.8 191.0 286.7 192.0 286.8 193.0 287.0 194.0 287.4 195.0 287.9 196.0 288.5 197.0 289.3 198.0 290.2 199.0 291.1 200.0 292.2 201.0 293.2 202.0 294.2 203.0 295.2 204.0 296.1 205.0 296.9 206.0 297.6 207.0 298.2 208.0 298.6 209.0 298.9 210.0 299.0 211.0 299.0 212.0 298.9 213.0 298.7 214.0 298.4 215.0 297.9 216.0 297.3 217.0 296.5 218.0 295.7 219.0 294.7 220.0 293.7 221.0 292.7 222.0 291.7 223.0 290.7 224.0 289.8 225.0 288.9 226.0 288.2 227.0 287.6 228.0 287.2 229.0 286.9 230.0 286.7 231.0 286.7 232.0 286.9 233.0 287.2 234.0 287.6 235.0 288.2 236.0 288.9 237.0 289.8 238.0 290.7 239.0 291.7 240.0 292.7 241.0 293.7 242.0 294.7 243.0 295.7 244.0 296.6 245.0 297.3 246.0 297.9 247.0 298.4 248.0 298.8 249.0 298.9 250.0 299.0 251.0 299.0 252.0 298.8 253.0 298.6 254.0 298.2 255.0 297.6 256.0 296.9 257.0 296.1 258.0 295.2 259.0 294.2 260.0 293.2 261.0 292.1 262.0 291.1 263.0 290.2 264.0 289.3 265.0 288.5 266.0 287.9 267.0 287.4 268.0 287.0 269.0 286.8 270.0 286.7 271.0 286.8 272.0 287.0 273.0 287.4 274.0 287.9 275.0 288.6 276.0 289.4 277.0 290.3 278.0 291.2 279.0 292.2 280.0 293.3 281.0 294.3 282.0 295.3 283.0 296.2 284.0 297.0 285.0 297.6 285.0 299.8 284.0 299.2 283.0 298.5 282.0 297.7 281.0 296.8 280.0 295.8 279.0 294.8 278.0 293.8 277.0 292.8 276.0 291.8 275.0 290.9 274.0 290.1 273.0 289.4 272.0 288.9 271.0 288.6 270.0 288.5 269.0 288.6 268.0 288.9 267.0 289.4 266.0 290.0 265.0 290.8 264.0 291.7 263.0 292.7 262.0 293.7 261.0 294.7 260.0 295.7 259.0 296.7 258.0 297.6 257.0 298.4 256.0 299.1 255.0 299.7 254.0 300.1 253.0 300.5 252.0 300.7 251.0 300.8 250.0 300.8 249.0 300.7 248.0 300.6 247.0 300.3 246.0 299.9 245.0 299.4 244.0 298.8 243.0 298.1 242.0 297.2 241.0 296.3 240.0 295.3 239.0 294.3 238.0 293.2 237.0 292.2 236.0 291.3 235.0 290.4 234.0 289.7 233.0 289.1 232.0 288.7 231.0 288.5 230.0 288.5 229.0 288.7 228.0 289.1 227.0 289.7 226.0 290.4 225.0 291.3 224.0 292.2 223.0 293.2 222.0 294.2 221.0 295.3 220.0 296.3 219.0 297.2 218.0 298.0 217.0 298.8 216.0 299.4 215.0 299.9 214.0 300.3 213.0 300.6 212.0 300.7 211.0 300.8 210.0 300.8 209.0 300.7 208.0 300.5 207.0 300.1 206.0 299.7 205.0 299.1 204.0 298.4 203.0 297.6 202.0 296.7 201.0 295.7 200.0 294.7 199.0 293.7 198.0 292.7 197.0 291.7 196.0 290.8 195.0 290.0 194.0 289.4 193.0 288.9 192.0 288.6 191.0 288.5 190.0 288.6 189.0 288.9 188.0 289.4 187.0 290.1 186.0 290.9 185.0 291.8 184.0 292.7 183.0 293.8 182.0 294.8 181.0 295.8 180.0 296.8 179.0 297.7 178.0 298.5 177.0 299.1 176.0 299.7 175.0 300.2 174.0 300.5 173.0 300.7 172.0 300.8 171.0 300.8 170.0 300.7 169.0 300.6 168.0 300.3 167.0 299.9 166.0 299.4 165.0 298.7 164.0 298.0 163.0 297.1 162.0 296.2 161.0 295.2 160.0 294.2 159.0 293.1 158.0 292.2 157.0 291.2 156.0 290.4 155.0 289.7 154.0 289.1 153.0 288.7 152.0 288.5 151.0 288.5 150.0 288.8 149.0 289.2 148.0 289.8 147.0 290.5 146.0 291.3 145.0 292.3 144.0 293.3 143.0 294.3 142.0 295.3 141.0 296.3 140.0 297.3 139.0 298.1 138.0 298.8 137.0 299.5 136.0 300.0 135.0 300.4 134.0 300.6 133.0 300.8 132.0 300.8 131.0 300.8 130.0 300.7 129.0 300.4 128.0 300.1 127.0 299.6 126.0 299.1 125.0 298.4 124.0 297.5 123.0 296.6 122.0 295.7 121.0 294.6 120.0 293.6 119.0 292.6 118.0 291.6 117.0 290.7 116.0 290.0 115.0 289.3 114.0 288.9 113.0 288.6 112.0 288.5 111.0 288.6 110.0 289.0 109.0 289.5 108.0 290.1 107.0 290.9 106.0 291.8 105.0 292.8 104.0 293.8 103.0 294.9 102.0 295.9 101.0 296.8 100.0 297.7 99.0 298.5 98.0 299.2 97.0 299.8 96.0 300.2 95.0 300.5 94.0 300.7 93.0 300.8 92.0 300.8 91.0 300.7 90.0 300.6 89.0 300.3 88.0 299.9 87.0 299.3 86.0 298.7 85.0 297.9 84.0 297.1 83.0 296.1 82.0 295.1 81.0 294.1 80.0 293.1 79.0 292.1 78.0 291.1 77.0 290.3 76.0 289.6 75.0 289.1 74.0 288.7 73.0 288.5 72.0 288.5 71.0 288.8 70.0 289.2 69.0 289.8 68.0 290.6 67.0 291.4 66.0 292.4 65.0 293.4 64.0 294.4 63.0 295.4 62.0 296.4 61.0 297.3 60.0 298.2Z" fill="url(#c2)" style="mix-blend-mode:plus-lighter"/><path d="M84.5 309.9 85.5 309.5 86.5 309.2 87.5 308.8 88.5 308.5 89.5 308.3 90.5 308.1 91.5 308.0 92.5 308.0 93.5 308.0 94.5 308.2 95.5 308.3 96.5 308.6 97.5 308.9 98.5 309.2 99.5 309.6 100.5 310.0 101.5 310.4 102.5 310.8 103.5 311.2 104.5 311.6 105.5 311.9 106.5 312.1 107.5 312.4 108.5 312.5 109.5 312.6 110.5 312.7 111.5 312.7 112.5 312.7 113.5 312.7 114.5 312.6 115.5 312.5 116.5 312.4 117.5 312.2 118.5 311.9 119.5 311.6 120.5 311.3 121.5 310.9 122.5 310.5 123.5 310.1 124.5 309.7 125.5 309.3 126.5 309.0 127.5 308.7 128.5 308.4 129.5 308.2 130.5 308.1 131.5 308.0 132.5 308.0 133.5 308.1 134.5 308.2 135.5 308.5 136.5 308.7 137.5 309.1 138.5 309.4 139.5 309.8 140.5 310.2 141.5 310.6 142.5 311.0 143.5 311.4 144.5 311.7 145.5 312.0 146.5 312.3 147.5 312.4 148.5 312.6 149.5 312.7 150.5 312.7 151.5 312.7 152.5 312.7 153.5 312.7 154.5 312.6 155.5 312.5 156.5 312.3 157.5 312.1 158.5 311.8 159.5 311.5 160.5 311.1 161.5 310.7 162.5 310.3 163.5 309.9 164.5 309.5 165.5 309.1 166.5 308.8 167.5 308.5 168.5 308.3 169.5 308.1 170.5 308.0 171.5 308.0 172.5 308.1 173.5 308.2 174.5 308.4 175.5 308.6 176.5 308.9 177.5 309.3 178.5 309.6 179.5 310.0 180.5 310.4 181.5 310.9 182.5 311.2 183.5 311.6 184.5 311.9 185.5 312.2 186.5 312.4 187.5 312.5 188.5 312.6 189.5 312.7 190.5 312.7 191.5 312.7 192.5 312.7 193.5 312.6 194.5 312.5 195.5 312.4 196.5 312.2 197.5 311.9 198.5 311.6 199.5 311.3 200.5 310.9 201.5 310.5 202.5 310.1 203.5 309.7 204.5 309.3 205.5 308.9 206.5 308.6 207.5 308.4 208.5 308.2 209.5 308.1 210.5 308.0 211.5 308.0 212.5 308.1 213.5 308.3 214.5 308.5 215.5 308.8 216.5 309.1 217.5 309.5 218.5 309.9 219.5 310.3 220.5 310.7 221.5 311.1 222.5 311.4 223.5 311.8 224.5 312.0 225.5 312.3 226.5 312.5 227.5 312.6 228.5 312.7 229.5 312.7 230.5 312.7 231.5 312.7 232.5 312.7 233.5 312.6 234.5 312.5 235.5 312.3 236.5 312.0 237.5 311.8 238.5 311.4 239.5 311.1 240.5 310.7 241.5 310.3 242.5 309.9 243.5 309.5 244.5 309.1 245.5 308.8 246.5 308.5 247.5 308.3 248.5 308.1 249.5 308.0 250.5 308.0 251.5 308.1 252.5 308.2 253.5 308.4 254.5 308.6 255.5 308.9 256.5 309.3 257.5 309.7 257.5 311.6 256.5 311.2 255.5 310.8 254.5 310.5 253.5 310.2 252.5 310.0 251.5 309.9 250.5 309.8 249.5 309.8 248.5 309.9 247.5 310.1 246.5 310.3 245.5 310.7 244.5 311.0 243.5 311.4 242.5 311.8 241.5 312.2 240.5 312.6 239.5 313.0 238.5 313.3 237.5 313.6 236.5 313.9 235.5 314.1 234.5 314.3 233.5 314.4 232.5 314.5 231.5 314.5 230.5 314.5 229.5 314.5 228.5 314.5 227.5 314.4 226.5 314.3 225.5 314.1 224.5 313.9 223.5 313.6 222.5 313.3 221.5 313.0 220.5 312.6 219.5 312.2 218.5 311.8 217.5 311.4 216.5 311.0 215.5 310.7 214.5 310.3 213.5 310.1 212.5 309.9 211.5 309.8 210.5 309.8 209.5 309.9 208.5 310.0 207.5 310.2 206.5 310.5 205.5 310.8 204.5 311.2 203.5 311.6 202.5 312.0 201.5 312.4 200.5 312.8 199.5 313.2 198.5 313.5 197.5 313.8 196.5 314.0 195.5 314.2 194.5 314.3 193.5 314.4 192.5 314.5 191.5 314.5 190.5 314.5 189.5 314.5 188.5 314.4 187.5 314.3 186.5 314.2 185.5 314.0 184.5 313.8 183.5 313.5 182.5 313.1 181.5 312.8 180.5 312.4 179.5 312.0 178.5 311.6 177.5 311.2 176.5 310.8 175.5 310.5 174.5 310.2 173.5 310.0 172.5 309.9 171.5 309.8 170.5 309.8 169.5 309.9 168.5 310.1 167.5 310.4 166.5 310.7 165.5 311.0 164.5 311.4 163.5 311.8 162.5 312.2 161.5 312.6 160.5 313.0 159.5 313.4 158.5 313.7 157.5 313.9 156.5 314.1 155.5 314.3 154.5 314.4 153.5 314.5 152.5 314.5 151.5 314.5 150.5 314.5 149.5 314.5 148.5 314.4 147.5 314.3 146.5 314.1 145.5 313.9 144.5 313.6 143.5 313.3 142.5 313.0 141.5 312.6 140.5 312.2 139.5 311.8 138.5 311.4 137.5 311.0 136.5 310.6 135.5 310.3 134.5 310.1 133.5 309.9 132.5 309.8 131.5 309.8 130.5 309.9 129.5 310.0 128.5 310.2 127.5 310.5 126.5 310.9 125.5 311.2 124.5 311.6 123.5 312.1 122.5 312.5 121.5 312.8 120.5 313.2 119.5 313.5 118.5 313.8 117.5 314.0 116.5 314.2 115.5 314.4 114.5 314.4 113.5 314.5 112.5 314.5 111.5 314.5 110.5 314.5 109.5 314.4 108.5 314.3 107.5 314.2 106.5 314.0 105.5 313.7 104.5 313.5 103.5 313.1 102.5 312.8 101.5 312.4 100.5 312.0 99.5 311.5 98.5 311.1 97.5 310.8 96.5 310.5 95.5 310.2 94.5 310.0 93.5 309.9 92.5 309.8 91.5 309.8 90.5 309.9 89.5 310.1 88.5 310.4 87.5 310.7 86.5 311.1 85.5 311.5 84.5 311.9Z" fill="url(#c3)" style="mix-blend-mode:plus-lighter"/></g><path d="M104.2 345.2 105.2 345.2 106.2 345.2 107.2 345.2 108.2 345.2 109.2 345.2 110.2 345.2 111.2 345.2 112.2 345.1 113.2 345.1 114.2 345.1 115.2 345.1 116.2 345.1 117.2 345.1 118.2 345.1 119.2 345.1 120.2 345.1 121.2 345.1 122.2 345.1 123.2 345.1 124.2 345.1 125.2 345.1 126.2 345.0 127.2 345.0 128.2 345.0 129.2 345.0 130.2 345.0 131.2 345.0 132.2 345.0 133.2 345.0 134.2 345.0 135.2 345.0 136.2 345.0 137.2 344.9 138.2 344.9 139.2 344.9 140.2 344.9 141.2 344.9 142.2 344.9 143.2 344.9 144.2 344.9 145.2 344.9 146.2 344.9 147.2 344.9 148.2 344.9 149.2 344.9 150.2 344.9 151.2 344.9 152.2 344.9 153.2 344.9 154.2 344.9 155.2 344.9 156.2 344.9 157.2 344.9 158.2 344.9 159.2 344.9 160.2 344.9 161.2 344.9 162.2 344.9 163.2 344.9 164.2 344.9 165.2 344.9 166.2 344.9 167.2 344.9 168.2 344.9 169.2 344.9 170.2 344.9 171.2 344.9 172.2 344.9 173.2 344.9 174.2 344.9 175.2 344.9 176.2 344.9 177.2 344.9 178.2 344.9 179.2 344.9 180.2 344.9 181.2 344.9 182.2 344.9 183.2 344.9 184.2 344.9 185.2 344.9 186.2 344.9 187.2 344.9 188.2 344.9 189.2 344.9 190.2 344.9 191.2 344.9 192.2 344.9 193.2 344.9 194.2 344.9 195.2 344.9 196.2 344.9 197.2 344.9 198.2 344.9 199.2 344.9 200.2 344.9 201.2 344.9 202.2 344.9 203.2 344.9 204.2 344.9 205.2 344.9 206.2 344.9 207.2 345.0 208.2 345.0 209.2 345.0 210.2 345.0 211.2 345.0 212.2 345.0 213.2 345.0 214.2 345.0 215.2 345.0 216.2 345.0 217.2 345.1 218.2 345.1 219.2 345.1 220.2 345.1 221.2 345.1 222.2 345.1 223.2 345.1 224.2 345.1 225.2 345.1 226.2 345.1 227.2 345.1 228.2 345.1 229.2 345.1 230.2 345.1 231.2 345.2 232.2 345.2 233.2 345.2 234.2 345.2 235.2 345.2 236.2 345.2 237.2 345.2 238.2 345.2 238.2 347.2 237.2 347.2 236.2 347.2 235.2 347.2 234.2 347.2 233.2 347.2 232.2 347.2 231.2 347.2 230.2 347.3 229.2 347.3 228.2 347.3 227.2 347.3 226.2 347.3 225.2 347.3 224.2 347.3 223.2 347.3 222.2 347.3 221.2 347.3 220.2 347.3 219.2 347.3 218.2 347.3 217.2 347.3 216.2 347.4 215.2 347.4 214.2 347.4 213.2 347.4 212.2 347.4 211.2 347.4 210.2 347.4 209.2 347.4 208.2 347.4 207.2 347.4 206.2 347.5 205.2 347.5 204.2 347.5 203.2 347.5 202.2 347.5 201.2 347.5 200.2 347.5 199.2 347.5 198.2 347.5 197.2 347.5 196.2 347.5 195.2 347.5 194.2 347.5 193.2 347.5 192.2 347.5 191.2 347.5 190.2 347.5 189.2 347.5 188.2 347.5 187.2 347.5 186.2 347.5 185.2 347.5 184.2 347.5 183.2 347.5 182.2 347.5 181.2 347.5 180.2 347.5 179.2 347.5 178.2 347.5 177.2 347.5 176.2 347.5 175.2 347.5 174.2 347.5 173.2 347.5 172.2 347.5 171.2 347.5 170.2 347.5 169.2 347.5 168.2 347.5 167.2 347.5 166.2 347.5 165.2 347.5 164.2 347.5 163.2 347.5 162.2 347.5 161.2 347.5 160.2 347.5 159.2 347.5 158.2 347.5 157.2 347.5 156.2 347.5 155.2 347.5 154.2 347.5 153.2 347.5 152.2 347.5 151.2 347.5 150.2 347.5 149.2 347.5 148.2 347.5 147.2 347.5 146.2 347.5 145.2 347.5 144.2 347.5 143.2 347.5 142.2 347.5 141.2 347.5 140.2 347.5 139.2 347.5 138.2 347.5 137.2 347.5 136.2 347.4 135.2 347.4 134.2 347.4 133.2 347.4 132.2 347.4 131.2 347.4 130.2 347.4 129.2 347.4 128.2 347.4 127.2 347.4 126.2 347.4 125.2 347.3 124.2 347.3 123.2 347.3 122.2 347.3 121.2 347.3 120.2 347.3 119.2 347.3 118.2 347.3 117.2 347.3 116.2 347.3 115.2 347.3 114.2 347.3 113.2 347.3 112.2 347.3 111.2 347.2 110.2 347.2 109.2 347.2 108.2 347.2 107.2 347.2 106.2 347.2 105.2 347.2 104.2 347.2Z" fill="url(#c4a)" style="mix-blend-mode:plus-lighter"/><path d="M120.0 352.4 121.0 352.4 122.0 352.4 123.0 352.4 124.0 352.4 125.0 352.4 126.0 352.4 127.0 352.4 128.0 352.4 129.0 352.3 130.0 352.3 131.0 352.3 132.0 352.3 133.0 352.3 134.0 352.3 135.0 352.3 136.0 352.3 137.0 352.3 138.0 352.3 139.0 352.3 140.0 352.3 141.0 352.3 142.0 352.2 143.0 352.2 144.0 352.2 145.0 352.2 146.0 352.2 147.0 352.2 148.0 352.2 149.0 352.2 150.0 352.2 151.0 352.2 152.0 352.1 153.0 352.1 154.0 352.1 155.0 352.1 156.0 352.1 157.0 352.1 158.0 352.1 159.0 352.1 160.0 352.1 161.0 352.1 162.0 352.1 163.0 352.1 164.0 352.0 165.0 352.0 166.0 352.0 167.0 352.0 168.0 352.0 169.0 352.0 170.0 352.0 171.0 352.0 172.0 352.0 173.0 352.0 174.0 352.0 175.0 352.0 176.0 352.0 177.0 352.0 178.0 352.0 179.0 352.0 180.0 352.1 181.0 352.1 182.0 352.1 183.0 352.1 184.0 352.1 185.0 352.1 186.0 352.1 187.0 352.1 188.0 352.1 189.0 352.1 190.0 352.1 191.0 352.1 192.0 352.2 193.0 352.2 194.0 352.2 195.0 352.2 196.0 352.2 197.0 352.2 198.0 352.2 199.0 352.2 200.0 352.2 201.0 352.2 202.0 352.3 203.0 352.3 204.0 352.3 205.0 352.3 206.0 352.3 207.0 352.3 208.0 352.3 209.0 352.3 210.0 352.3 211.0 352.3 212.0 352.3 213.0 352.3 214.0 352.4 215.0 352.4 216.0 352.4 217.0 352.4 218.0 352.4 219.0 352.4 220.0 352.4 221.0 352.4 222.0 352.4 222.0 354.4 221.0 354.4 220.0 354.4 219.0 354.4 218.0 354.4 217.0 354.4 216.0 354.4 215.0 354.4 214.0 354.4 213.0 354.5 212.0 354.5 211.0 354.5 210.0 354.5 209.0 354.5 208.0 354.5 207.0 354.5 206.0 354.5 205.0 354.5 204.0 354.5 203.0 354.5 202.0 354.5 201.0 354.6 200.0 354.6 199.0 354.6 198.0 354.6 197.0 354.6 196.0 354.6 195.0 354.6 194.0 354.6 193.0 354.6 192.0 354.6 191.0 354.7 190.0 354.7 189.0 354.7 188.0 354.7 187.0 354.7 186.0 354.7 185.0 354.7 184.0 354.7 183.0 354.7 182.0 354.7 181.0 354.7 180.0 354.7 179.0 354.8 178.0 354.8 177.0 354.8 176.0 354.8 175.0 354.8 174.0 354.8 173.0 354.8 172.0 354.8 171.0 354.8 170.0 354.8 169.0 354.8 168.0 354.8 167.0 354.8 166.0 354.8 165.0 354.8 164.0 354.8 163.0 354.7 162.0 354.7 161.0 354.7 160.0 354.7 159.0 354.7 158.0 354.7 157.0 354.7 156.0 354.7 155.0 354.7 154.0 354.7 153.0 354.7 152.0 354.7 151.0 354.6 150.0 354.6 149.0 354.6 148.0 354.6 147.0 354.6 146.0 354.6 145.0 354.6 144.0 354.6 143.0 354.6 142.0 354.6 141.0 354.5 140.0 354.5 139.0 354.5 138.0 354.5 137.0 354.5 136.0 354.5 135.0 354.5 134.0 354.5 133.0 354.5 132.0 354.5 131.0 354.5 130.0 354.5 129.0 354.5 128.0 354.4 127.0 354.4 126.0 354.4 125.0 354.4 124.0 354.4 123.0 354.4 122.0 354.4 121.0 354.4 120.0 354.4Z" fill="url(#c4b)" style="mix-blend-mode:plus-lighter"/></g></g><defs><clipPath id="clD"><rect x="419.0" y="216.6" width="198.2" height="149.6"/></clipPath><filter id="fD" filterUnits="userSpaceOnUse" x="405" y="205" width="230" height="175"><feGaussianBlur stdDeviation="0.55"/></filter><linearGradient id="dU" gradientUnits="userSpaceOnUse" x1="419.0" y1="0" x2="617.2" y2="0"><stop offset="0.0000" stop-color="#aad9ea"/><stop offset="0.2500" stop-color="#b2dcec"/><stop offset="0.4000" stop-color="#d3e9f2"/><stop offset="0.4750" stop-color="#eef4f6"/><stop offset="0.5000" stop-color="#f7f7f7"/><stop offset="0.5250" stop-color="#ffece4"/><stop offset="0.6000" stop-color="#ffe1d1"/><stop offset="0.7500" stop-color="#ffdcc7"/><stop offset="1.0000" stop-color="#ffd1ba"/></linearGradient><linearGradient id="dL" gradientUnits="userSpaceOnUse" x1="419.0" y1="0" x2="617.2" y2="0"><stop offset="0.0000" stop-color="#ffb190"/><stop offset="0.1000" stop-color="#ff8466"/><stop offset="0.2500" stop-color="#f4604b"/><stop offset="0.3750" stop-color="#ff8b6c"/><stop offset="0.4650" stop-color="#ffdcc7"/><stop offset="0.5000" stop-color="#f7f7f7"/><stop offset="0.5350" stop-color="#cae6f1"/><stop offset="0.6250" stop-color="#009ecb"/><stop offset="0.7500" stop-color="#0090c4"/><stop offset="0.9000" stop-color="#36aed3"/><stop offset="1.0000" stop-color="#92d0e5"/></linearGradient><linearGradient id="dC" gradientUnits="userSpaceOnUse" x1="419.0" y1="0" x2="617.2" y2="0"><stop offset="0.0000" stop-color="#0094c6"/><stop offset="0.1000" stop-color="#0070b4"/><stop offset="0.2250" stop-color="#003872"/><stop offset="0.3500" stop-color="#004f91"/><stop offset="0.4400" stop-color="#77c6e0"/><stop offset="0.5000" stop-color="#f7f7f7"/><stop offset="0.5500" stop-color="#ffbc9e"/><stop offset="0.6500" stop-color="#d8212f"/><stop offset="0.7500" stop-color="#8b011c"/><stop offset="0.8500" stop-color="#bf0b25"/><stop offset="0.9500" stop-color="#f96e56"/><stop offset="1.0000" stop-color="#ffa781"/></linearGradient><linearGradient id="dD" gradientUnits="userSpaceOnUse" x1="419.0" y1="0" x2="617.2" y2="0"><stop offset="0.0000" stop-color="#ffa781"/><stop offset="0.2000" stop-color="#f96e56"/><stop offset="0.3500" stop-color="#ea4940"/><stop offset="0.4500" stop-color="#ff9977"/><stop offset="0.5000" stop-color="#f7f7f7"/><stop offset="0.5500" stop-color="#bae0ee"/><stop offset="0.6500" stop-color="#0094c6"/><stop offset="0.8000" stop-color="#008bc2"/><stop offset="0.9250" stop-color="#60bcdb"/><stop offset="1.0000" stop-color="#aad9ea"/></linearGradient><linearGradient id="dE" gradientUnits="userSpaceOnUse" x1="419.0" y1="0" x2="617.2" y2="0"><stop offset="0.0000" stop-color="#cae6f1"/><stop offset="0.1500" stop-color="#aad9ea"/><stop offset="0.3000" stop-color="#bae0ee"/><stop offset="0.4500" stop-color="#dcedf3"/><stop offset="0.5000" stop-color="#f7f7f7"/><stop offset="0.5500" stop-color="#ffe7db"/><stop offset="0.7500" stop-color="#ffdcc7"/><stop offset="1.0000" stop-color="#ffdcc7"/></linearGradient><linearGradient id="dF" gradientUnits="userSpaceOnUse" x1="419.0" y1="0" x2="617.2" y2="0"><stop offset="0.0000" stop-color="#ffe1d1"/><stop offset="0.2500" stop-color="#ffe7db"/><stop offset="0.4500" stop-color="#fdefe9"/><stop offset="0.5000" stop-color="#f7f7f7"/><stop offset="0.5500" stop-color="#eaf2f5"/><stop offset="0.7500" stop-color="#dcedf3"/><stop offset="1.0000" stop-color="#dcedf3"/></linearGradient></defs><g clip-path="url(#clD)"><g filter="url(#fD)"><path d="M419.0 225.5 420.0 225.6 421.0 225.6 422.0 225.7 423.0 225.8 424.0 225.9 425.0 226.0 426.0 226.1 427.0 226.2 428.0 226.3 429.0 226.5 430.0 226.6 431.0 226.7 432.0 226.9 433.0 227.0 434.0 227.1 435.0 227.3 436.0 227.4 437.0 227.6 438.0 227.7 439.0 227.9 440.0 228.1 441.0 228.2 442.0 228.4 443.0 228.6 444.0 228.8 445.0 229.0 446.0 229.2 447.0 229.5 448.0 229.7 449.0 229.9 450.0 230.2 451.0 230.4 452.0 230.7 453.0 230.9 454.0 231.2 455.0 231.5 456.0 231.7 457.0 232.0 458.0 232.2 459.0 232.5 460.0 232.8 461.0 233.0 462.0 233.3 463.0 233.6 464.0 233.9 465.0 234.2 466.0 234.5 467.0 234.8 468.0 235.1 469.0 235.4 470.0 235.7 471.0 236.1 472.0 236.4 473.0 236.7 474.0 237.0 475.0 237.3 476.0 237.6 477.0 237.9 478.0 238.3 479.0 238.6 480.0 238.9 481.0 239.2 482.0 239.5 483.0 239.8 484.0 240.1 485.0 240.4 486.0 240.7 487.0 241.0 488.0 241.3 489.0 241.6 490.0 242.0 491.0 242.3 492.0 242.6 493.0 242.9 494.0 243.1 495.0 243.4 496.0 243.7 497.0 244.0 498.0 244.3 499.0 244.5 500.0 244.8 501.0 245.0 502.0 245.3 503.0 245.5 504.0 245.7 505.0 246.0 506.0 246.2 507.0 246.4 508.0 246.7 509.0 246.9 510.0 247.1 511.0 247.3 512.0 247.5 513.0 247.8 514.0 248.0 515.0 248.2 516.0 248.4 517.0 248.6 518.0 248.8 519.0 248.6 520.0 248.4 521.0 248.2 522.0 248.0 523.0 247.8 524.0 247.6 525.0 247.4 526.0 247.2 527.0 246.9 528.0 246.7 529.0 246.5 530.0 246.3 531.0 246.0 532.0 245.8 533.0 245.5 534.0 245.3 535.0 245.1 536.0 244.8 537.0 244.6 538.0 244.3 539.0 244.0 540.0 243.8 541.0 243.5 542.0 243.2 543.0 242.9 544.0 242.6 545.0 242.3 546.0 242.0 547.0 241.7 548.0 241.4 549.0 241.1 550.0 240.8 551.0 240.5 552.0 240.2 553.0 239.8 554.0 239.5 555.0 239.2 556.0 238.9 557.0 238.6 558.0 238.3 559.0 238.0 560.0 237.7 561.0 237.4 562.0 237.1 563.0 236.8 564.0 236.4 565.0 236.1 566.0 235.8 567.0 235.5 568.0 235.2 569.0 234.9 570.0 234.6 571.0 234.3 572.0 234.0 573.0 233.7 574.0 233.4 575.0 233.1 576.0 232.8 577.0 232.6 578.0 232.3 579.0 232.0 580.0 231.8 581.0 231.5 582.0 231.3 583.0 231.0 584.0 230.7 585.0 230.5 586.0 230.2 587.0 230.0 588.0 229.7 589.0 229.5 590.0 229.3 591.0 229.1 592.0 228.9 593.0 228.7 594.0 228.5 595.0 228.3 596.0 228.1 597.0 227.9 598.0 227.8 599.0 227.6 600.0 227.5 601.0 227.3 602.0 227.2 603.0 227.0 604.0 226.9 605.0 226.7 606.0 226.6 607.0 226.5 608.0 226.4 609.0 226.2 610.0 226.1 611.0 226.0 612.0 225.9 613.0 225.8 614.0 225.7 615.0 225.7 616.0 225.6 617.0 225.5 617.2 225.5 617.2 230.3 617.0 230.3 616.0 230.4 615.0 230.5 614.0 230.6 613.0 230.6 612.0 230.7 611.0 230.9 610.0 231.0 609.0 231.1 608.0 231.2 607.0 231.3 606.0 231.5 605.0 231.6 604.0 231.7 603.0 231.9 602.0 232.0 601.0 232.2 600.0 232.3 599.0 232.5 598.0 232.6 597.0 232.8 596.0 233.0 595.0 233.2 594.0 233.3 593.0 233.5 592.0 233.8 591.0 234.0 590.0 234.2 589.0 234.4 588.0 234.7 587.0 234.9 586.0 235.2 585.0 235.4 584.0 235.7 583.0 236.0 582.0 236.2 581.0 236.5 580.0 236.7 579.0 237.0 578.0 237.3 577.0 237.5 576.0 237.8 575.0 238.1 574.0 238.4 573.0 238.7 572.0 239.0 571.0 239.3 570.0 239.6 569.0 239.9 568.0 240.2 567.0 240.5 566.0 240.8 565.0 241.2 564.0 241.5 563.0 241.8 562.0 242.1 561.0 242.4 560.0 242.7 559.0 243.0 558.0 243.3 557.0 243.6 556.0 243.9 555.0 244.2 554.0 244.6 553.0 244.9 552.0 245.2 551.0 245.5 550.0 245.8 549.0 246.1 548.0 246.4 547.0 246.7 546.0 247.0 545.0 247.3 544.0 247.6 543.0 247.9 542.0 248.2 541.0 248.5 540.0 248.7 539.0 249.0 538.0 249.3 537.0 249.5 536.0 249.8 535.0 250.0 534.0 250.2 533.0 250.5 532.0 250.7 531.0 251.0 530.0 251.2 529.0 251.4 528.0 251.6 527.0 251.9 526.0 252.1 525.0 252.3 524.0 252.5 523.0 252.7 522.0 252.9 521.0 253.1 520.0 253.3 519.0 253.5 518.0 253.6 517.0 253.4 516.0 253.2 515.0 253.1 514.0 252.9 513.0 252.7 512.0 252.5 511.0 252.2 510.0 252.0 509.0 251.8 508.0 251.6 507.0 251.4 506.0 251.1 505.0 250.9 504.0 250.7 503.0 250.4 502.0 250.2 501.0 250.0 500.0 249.7 499.0 249.5 498.0 249.2 497.0 249.0 496.0 248.7 495.0 248.4 494.0 248.1 493.0 247.9 492.0 247.6 491.0 247.3 490.0 247.0 489.0 246.7 488.0 246.4 487.0 246.1 486.0 245.7 485.0 245.4 484.0 245.1 483.0 244.8 482.0 244.5 481.0 244.2 480.0 243.9 479.0 243.6 478.0 243.3 477.0 243.0 476.0 242.7 475.0 242.4 474.0 242.0 473.0 241.7 472.0 241.4 471.0 241.1 470.0 240.8 469.0 240.5 468.0 240.1 467.0 239.8 466.0 239.5 465.0 239.2 464.0 238.9 463.0 238.6 462.0 238.3 461.0 238.0 460.0 237.8 459.0 237.5 458.0 237.2 457.0 237.0 456.0 236.7 455.0 236.4 454.0 236.2 453.0 235.9 452.0 235.6 451.0 235.4 450.0 235.1 449.0 234.9 448.0 234.6 447.0 234.4 446.0 234.2 445.0 233.9 444.0 233.7 443.0 233.5 442.0 233.3 441.0 233.1 440.0 232.9 439.0 232.8 438.0 232.6 437.0 232.4 436.0 232.3 435.0 232.1 434.0 232.0 433.0 231.8 432.0 231.7 431.0 231.6 430.0 231.4 429.0 231.3 428.0 231.2 427.0 231.1 426.0 230.9 425.0 230.8 424.0 230.7 423.0 230.6 422.0 230.5 421.0 230.5 420.0 230.4 419.0 230.3Z" fill="url(#dU)"/><path d="M419.0 271.3 420.0 271.2 421.0 271.1 422.0 271.1 423.0 271.0 424.0 270.9 425.0 270.8 426.0 270.7 427.0 270.6 428.0 270.5 429.0 270.4 430.0 270.3 431.0 270.2 432.0 270.1 433.0 270.0 434.0 269.8 435.0 269.7 436.0 269.6 437.0 269.5 438.0 269.4 439.0 269.3 440.0 269.1 441.0 269.0 442.0 268.9 443.0 268.7 444.0 268.6 445.0 268.5 446.0 268.3 447.0 268.2 448.0 268.0 449.0 267.9 450.0 267.7 451.0 267.5 452.0 267.4 453.0 267.2 454.0 267.1 455.0 266.9 456.0 266.7 457.0 266.5 458.0 266.4 459.0 266.2 460.0 266.0 461.0 265.8 462.0 265.7 463.0 265.5 464.0 265.3 465.0 265.1 466.0 264.9 467.0 264.7 468.0 264.5 469.0 264.3 470.0 264.1 471.0 263.9 472.0 263.7 473.0 263.5 474.0 263.3 475.0 263.0 476.0 262.8 477.0 262.6 478.0 262.3 479.0 262.1 480.0 261.8 481.0 261.6 482.0 261.3 483.0 261.0 484.0 260.7 485.0 260.4 486.0 260.1 487.0 259.8 488.0 259.5 489.0 259.1 490.0 258.8 491.0 258.5 492.0 258.2 493.0 257.8 494.0 257.5 495.0 257.2 496.0 256.9 497.0 256.6 498.0 256.3 499.0 256.0 500.0 255.6 501.0 255.3 502.0 254.9 503.0 254.5 504.0 254.2 505.0 253.8 506.0 253.5 507.0 253.2 508.0 253.0 509.0 252.7 510.0 252.5 511.0 252.4 512.0 252.3 513.0 252.2 514.0 252.0 515.0 252.0 516.0 251.9 517.0 251.8 518.0 251.8 519.0 251.8 520.0 251.9 521.0 251.9 522.0 252.0 523.0 252.1 524.0 252.3 525.0 252.4 526.0 252.5 527.0 252.7 528.0 252.9 529.0 253.2 530.0 253.5 531.0 253.8 532.0 254.1 533.0 254.5 534.0 254.8 535.0 255.2 536.0 255.5 537.0 255.9 538.0 256.2 539.0 256.5 540.0 256.8 541.0 257.1 542.0 257.5 543.0 257.8 544.0 258.1 545.0 258.4 546.0 258.7 547.0 259.1 548.0 259.4 549.0 259.7 550.0 260.0 551.0 260.3 552.0 260.6 553.0 260.9 554.0 261.2 555.0 261.5 556.0 261.8 557.0 262.0 558.0 262.3 559.0 262.5 560.0 262.8 561.0 263.0 562.0 263.2 563.0 263.4 564.0 263.7 565.0 263.9 566.0 264.1 567.0 264.3 568.0 264.5 569.0 264.7 570.0 264.9 571.0 265.1 572.0 265.3 573.0 265.5 574.0 265.6 575.0 265.8 576.0 266.0 577.0 266.2 578.0 266.3 579.0 266.5 580.0 266.7 581.0 266.9 582.0 267.0 583.0 267.2 584.0 267.3 585.0 267.5 586.0 267.7 587.0 267.8 588.0 268.0 589.0 268.1 590.0 268.3 591.0 268.4 592.0 268.6 593.0 268.7 594.0 268.8 595.0 269.0 596.0 269.1 597.0 269.2 598.0 269.4 599.0 269.5 600.0 269.6 601.0 269.7 602.0 269.8 603.0 269.9 604.0 270.1 605.0 270.2 606.0 270.3 607.0 270.4 608.0 270.5 609.0 270.6 610.0 270.7 611.0 270.8 612.0 270.9 613.0 270.9 614.0 271.0 615.0 271.1 616.0 271.2 617.0 271.3 617.2 271.3 617.2 276.1 617.0 276.1 616.0 276.0 615.0 275.9 614.0 275.9 613.0 275.8 612.0 275.7 611.0 275.6 610.0 275.5 609.0 275.4 608.0 275.3 607.0 275.2 606.0 275.1 605.0 275.0 604.0 274.9 603.0 274.8 602.0 274.7 601.0 274.5 600.0 274.4 599.0 274.3 598.0 274.2 597.0 274.1 596.0 273.9 595.0 273.8 594.0 273.7 593.0 273.6 592.0 273.4 591.0 273.3 590.0 273.1 589.0 273.0 588.0 272.8 587.0 272.7 586.0 272.5 585.0 272.4 584.0 272.2 583.0 272.1 582.0 271.9 581.0 271.7 580.0 271.6 579.0 271.4 578.0 271.2 577.0 271.0 576.0 270.9 575.0 270.7 574.0 270.5 573.0 270.3 572.0 270.1 571.0 270.0 570.0 269.8 569.0 269.6 568.0 269.4 567.0 269.2 566.0 269.0 565.0 268.8 564.0 268.6 563.0 268.4 562.0 268.1 561.0 267.9 560.0 267.7 559.0 267.5 558.0 267.2 557.0 267.0 556.0 266.7 555.0 266.5 554.0 266.2 553.0 265.9 552.0 265.6 551.0 265.3 550.0 265.0 549.0 264.7 548.0 264.4 547.0 264.1 546.0 263.8 545.0 263.5 544.0 263.1 543.0 262.8 542.0 262.5 541.0 262.2 540.0 261.9 539.0 261.5 538.0 261.2 537.0 260.9 536.0 260.6 535.0 260.3 534.0 259.9 533.0 259.6 532.0 259.2 531.0 258.8 530.0 258.5 529.0 258.2 528.0 257.9 527.0 257.6 526.0 257.4 525.0 257.2 524.0 257.1 523.0 257.0 522.0 256.9 521.0 256.8 520.0 256.7 519.0 256.6 518.0 256.6 517.0 256.6 516.0 256.7 515.0 256.8 514.0 256.9 513.0 257.0 512.0 257.1 511.0 257.2 510.0 257.4 509.0 257.7 508.0 257.9 507.0 258.2 506.0 258.6 505.0 258.9 504.0 259.3 503.0 259.6 502.0 260.0 501.0 260.3 500.0 260.7 499.0 261.0 498.0 261.3 497.0 261.6 496.0 261.9 495.0 262.2 494.0 262.6 493.0 262.9 492.0 263.2 491.0 263.5 490.0 263.8 489.0 264.2 488.0 264.5 487.0 264.8 486.0 265.1 485.0 265.4 484.0 265.7 483.0 266.0 482.0 266.3 481.0 266.5 480.0 266.8 479.0 267.0 478.0 267.3 477.0 267.5 476.0 267.7 475.0 268.0 474.0 268.2 473.0 268.4 472.0 268.6 471.0 268.8 470.0 269.0 469.0 269.2 468.0 269.4 467.0 269.6 466.0 269.8 465.0 270.0 464.0 270.2 463.0 270.4 462.0 270.5 461.0 270.7 460.0 270.9 459.0 271.1 458.0 271.2 457.0 271.4 456.0 271.6 455.0 271.8 454.0 271.9 453.0 272.1 452.0 272.2 451.0 272.4 450.0 272.6 449.0 272.7 448.0 272.9 447.0 273.0 446.0 273.2 445.0 273.3 444.0 273.4 443.0 273.6 442.0 273.7 441.0 273.8 440.0 274.0 439.0 274.1 438.0 274.2 437.0 274.3 436.0 274.5 435.0 274.6 434.0 274.7 433.0 274.8 432.0 274.9 431.0 275.0 430.0 275.1 429.0 275.2 428.0 275.3 427.0 275.4 426.0 275.5 425.0 275.6 424.0 275.7 423.0 275.8 422.0 275.9 421.0 276.0 420.0 276.0 419.0 276.1Z" fill="url(#dL)"/><path d="M419.0 287.2 420.0 287.2 421.0 287.3 422.0 287.4 423.0 287.4 424.0 287.5 425.0 287.6 426.0 287.7 427.0 287.8 428.0 287.9 429.0 288.0 430.0 288.1 431.0 288.2 432.0 288.3 433.0 288.4 434.0 288.5 435.0 288.6 436.0 288.8 437.0 288.9 438.0 289.0 439.0 289.1 440.0 289.3 441.0 289.4 442.0 289.5 443.0 289.7 444.0 289.9 445.0 290.0 446.0 290.2 447.0 290.4 448.0 290.6 449.0 290.8 450.0 291.0 451.0 291.3 452.0 291.5 453.0 291.7 454.0 291.9 455.0 292.1 456.0 292.4 457.0 292.6 458.0 292.8 459.0 293.0 460.0 293.2 461.0 293.4 462.0 293.6 463.0 293.8 464.0 294.0 465.0 294.2 466.0 294.4 467.0 294.6 468.0 294.8 469.0 295.0 470.0 295.2 471.0 295.4 472.0 295.5 473.0 295.7 474.0 295.9 475.0 296.1 476.0 296.3 477.0 296.4 478.0 296.6 479.0 296.8 480.0 296.9 481.0 297.1 482.0 297.2 483.0 297.4 484.0 297.5 485.0 297.6 486.0 297.8 487.0 297.9 488.0 298.0 489.0 298.1 490.0 298.3 491.0 298.4 492.0 298.5 493.0 298.6 494.0 298.7 495.0 298.8 496.0 299.0 497.0 299.1 498.0 299.2 499.0 299.2 500.0 299.3 501.0 299.4 502.0 299.5 503.0 299.6 504.0 299.6 505.0 299.7 506.0 299.8 507.0 299.9 508.0 299.9 509.0 300.0 510.0 300.0 511.0 300.1 512.0 300.1 513.0 300.2 514.0 300.2 515.0 300.3 516.0 300.3 517.0 300.4 518.0 300.4 519.0 300.4 520.0 300.3 521.0 300.3 522.0 300.3 523.0 300.2 524.0 300.2 525.0 300.1 526.0 300.0 527.0 300.0 528.0 299.9 529.0 299.9 530.0 299.8 531.0 299.7 532.0 299.7 533.0 299.6 534.0 299.5 535.0 299.4 536.0 299.4 537.0 299.3 538.0 299.2 539.0 299.1 540.0 299.0 541.0 298.9 542.0 298.8 543.0 298.6 544.0 298.5 545.0 298.4 546.0 298.3 547.0 298.2 548.0 298.0 549.0 297.9 550.0 297.8 551.0 297.7 552.0 297.5 553.0 297.4 554.0 297.2 555.0 297.1 556.0 297.0 557.0 296.8 558.0 296.6 559.0 296.5 560.0 296.3 561.0 296.1 562.0 295.9 563.0 295.8 564.0 295.6 565.0 295.4 566.0 295.2 567.0 295.0 568.0 294.8 569.0 294.6 570.0 294.4 571.0 294.2 572.0 294.0 573.0 293.9 574.0 293.7 575.0 293.5 576.0 293.3 577.0 293.1 578.0 292.9 579.0 292.6 580.0 292.4 581.0 292.2 582.0 292.0 583.0 291.7 584.0 291.5 585.0 291.3 586.0 291.1 587.0 290.9 588.0 290.7 589.0 290.5 590.0 290.3 591.0 290.1 592.0 289.9 593.0 289.7 594.0 289.6 595.0 289.4 596.0 289.3 597.0 289.2 598.0 289.0 599.0 288.9 600.0 288.8 601.0 288.7 602.0 288.5 603.0 288.4 604.0 288.3 605.0 288.2 606.0 288.1 607.0 288.0 608.0 287.9 609.0 287.8 610.0 287.7 611.0 287.6 612.0 287.5 613.0 287.5 614.0 287.4 615.0 287.3 616.0 287.3 617.0 287.2 617.2 287.2 617.2 292.0 617.0 292.0 616.0 292.1 615.0 292.1 614.0 292.2 613.0 292.3 612.0 292.3 611.0 292.4 610.0 292.5 609.0 292.6 608.0 292.7 607.0 292.8 606.0 292.9 605.0 293.0 604.0 293.1 603.0 293.3 602.0 293.4 601.0 293.5 600.0 293.6 599.0 293.7 598.0 293.9 597.0 294.0 596.0 294.1 595.0 294.3 594.0 294.4 593.0 294.6 592.0 294.8 591.0 295.0 590.0 295.1 589.0 295.4 588.0 295.6 587.0 295.8 586.0 296.0 585.0 296.2 584.0 296.4 583.0 296.7 582.0 296.9 581.0 297.1 580.0 297.3 579.0 297.6 578.0 297.8 577.0 298.0 576.0 298.2 575.0 298.4 574.0 298.6 573.0 298.7 572.0 298.9 571.0 299.1 570.0 299.3 569.0 299.5 568.0 299.7 567.0 299.9 566.0 300.1 565.0 300.3 564.0 300.5 563.0 300.6 562.0 300.8 561.0 301.0 560.0 301.2 559.0 301.3 558.0 301.5 557.0 301.7 556.0 301.8 555.0 302.0 554.0 302.1 553.0 302.2 552.0 302.4 551.0 302.5 550.0 302.6 549.0 302.8 548.0 302.9 547.0 303.0 546.0 303.1 545.0 303.2 544.0 303.4 543.0 303.5 542.0 303.6 541.0 303.7 540.0 303.8 539.0 303.9 538.0 304.0 537.0 304.1 536.0 304.2 535.0 304.3 534.0 304.3 533.0 304.4 532.0 304.5 531.0 304.5 530.0 304.6 529.0 304.7 528.0 304.7 527.0 304.8 526.0 304.9 525.0 304.9 524.0 305.0 523.0 305.0 522.0 305.1 521.0 305.1 520.0 305.1 519.0 305.2 518.0 305.2 517.0 305.2 516.0 305.1 515.0 305.1 514.0 305.0 513.0 305.0 512.0 305.0 511.0 304.9 510.0 304.8 509.0 304.8 508.0 304.7 507.0 304.7 506.0 304.6 505.0 304.5 504.0 304.5 503.0 304.4 502.0 304.3 501.0 304.2 500.0 304.2 499.0 304.1 498.0 304.0 497.0 303.9 496.0 303.8 495.0 303.7 494.0 303.6 493.0 303.5 492.0 303.3 491.0 303.2 490.0 303.1 489.0 303.0 488.0 302.9 487.0 302.7 486.0 302.6 485.0 302.5 484.0 302.3 483.0 302.2 482.0 302.1 481.0 301.9 480.0 301.8 479.0 301.6 478.0 301.5 477.0 301.3 476.0 301.1 475.0 301.0 474.0 300.8 473.0 300.6 472.0 300.4 471.0 300.2 470.0 300.1 469.0 299.9 468.0 299.7 467.0 299.5 466.0 299.3 465.0 299.1 464.0 298.9 463.0 298.7 462.0 298.5 461.0 298.3 460.0 298.1 459.0 297.9 458.0 297.7 457.0 297.5 456.0 297.3 455.0 297.1 454.0 296.8 453.0 296.6 452.0 296.4 451.0 296.2 450.0 295.9 449.0 295.7 448.0 295.5 447.0 295.3 446.0 295.1 445.0 294.9 444.0 294.7 443.0 294.6 442.0 294.4 441.0 294.3 440.0 294.1 439.0 294.0 438.0 293.8 437.0 293.7 436.0 293.6 435.0 293.5 434.0 293.3 433.0 293.2 432.0 293.1 431.0 293.0 430.0 292.9 429.0 292.8 428.0 292.7 427.0 292.6 426.0 292.5 425.0 292.4 424.0 292.3 423.0 292.3 422.0 292.2 421.0 292.1 420.0 292.1 419.0 292.0Z" fill="url(#dC)"/><path d="M419.0 312.9 420.0 312.9 421.0 312.8 422.0 312.8 423.0 312.7 424.0 312.7 425.0 312.6 426.0 312.6 427.0 312.5 428.0 312.5 429.0 312.4 430.0 312.4 431.0 312.3 432.0 312.3 433.0 312.2 434.0 312.2 435.0 312.1 436.0 312.1 437.0 312.0 438.0 312.0 439.0 311.9 440.0 311.9 441.0 311.8 442.0 311.8 443.0 311.7 444.0 311.7 445.0 311.6 446.0 311.6 447.0 311.5 448.0 311.5 449.0 311.4 450.0 311.4 451.0 311.3 452.0 311.3 453.0 311.2 454.0 311.2 455.0 311.1 456.0 311.1 457.0 311.0 458.0 311.0 459.0 310.9 460.0 310.9 461.0 310.8 462.0 310.8 463.0 310.7 464.0 310.7 465.0 310.6 466.0 310.6 467.0 310.5 468.0 310.5 469.0 310.4 470.0 310.4 471.0 310.3 472.0 310.3 473.0 310.2 474.0 310.2 475.0 310.1 476.0 310.1 477.0 310.0 478.0 310.0 479.0 309.9 480.0 309.8 481.0 309.8 482.0 309.7 483.0 309.7 484.0 309.6 485.0 309.5 486.0 309.5 487.0 309.4 488.0 309.3 489.0 309.2 490.0 309.1 491.0 309.1 492.0 309.0 493.0 308.9 494.0 308.8 495.0 308.7 496.0 308.7 497.0 308.6 498.0 308.5 499.0 308.5 500.0 308.4 501.0 308.3 502.0 308.3 503.0 308.2 504.0 308.2 505.0 308.1 506.0 308.1 507.0 308.0 508.0 308.0 509.0 307.9 510.0 307.9 511.0 307.8 512.0 307.8 513.0 307.8 514.0 307.7 515.0 307.7 516.0 307.7 517.0 307.6 518.0 307.6 519.0 307.6 520.0 307.7 521.0 307.7 522.0 307.7 523.0 307.8 524.0 307.8 525.0 307.8 526.0 307.9 527.0 307.9 528.0 308.0 529.0 308.0 530.0 308.1 531.0 308.1 532.0 308.1 533.0 308.2 534.0 308.3 535.0 308.3 536.0 308.4 537.0 308.4 538.0 308.5 539.0 308.6 540.0 308.7 541.0 308.7 542.0 308.8 543.0 308.9 544.0 309.0 545.0 309.0 546.0 309.1 547.0 309.2 548.0 309.3 549.0 309.4 550.0 309.4 551.0 309.5 552.0 309.6 553.0 309.6 554.0 309.7 555.0 309.8 556.0 309.8 557.0 309.9 558.0 309.9 559.0 310.0 560.0 310.1 561.0 310.1 562.0 310.2 563.0 310.2 564.0 310.3 565.0 310.3 566.0 310.4 567.0 310.4 568.0 310.5 569.0 310.5 570.0 310.6 571.0 310.6 572.0 310.7 573.0 310.7 574.0 310.8 575.0 310.8 576.0 310.9 577.0 310.9 578.0 311.0 579.0 311.0 580.0 311.1 581.0 311.1 582.0 311.2 583.0 311.2 584.0 311.3 585.0 311.3 586.0 311.4 587.0 311.4 588.0 311.5 589.0 311.5 590.0 311.6 591.0 311.6 592.0 311.7 593.0 311.7 594.0 311.8 595.0 311.8 596.0 311.9 597.0 311.9 598.0 312.0 599.0 312.0 600.0 312.1 601.0 312.1 602.0 312.2 603.0 312.2 604.0 312.3 605.0 312.3 606.0 312.4 607.0 312.4 608.0 312.5 609.0 312.5 610.0 312.6 611.0 312.6 612.0 312.7 613.0 312.7 614.0 312.7 615.0 312.8 616.0 312.8 617.0 312.9 617.2 312.9 617.2 317.7 617.0 317.7 616.0 317.6 615.0 317.6 614.0 317.6 613.0 317.5 612.0 317.5 611.0 317.4 610.0 317.4 609.0 317.3 608.0 317.3 607.0 317.2 606.0 317.2 605.0 317.1 604.0 317.1 603.0 317.0 602.0 317.0 601.0 316.9 600.0 316.9 599.0 316.8 598.0 316.8 597.0 316.7 596.0 316.7 595.0 316.6 594.0 316.6 593.0 316.5 592.0 316.5 591.0 316.4 590.0 316.4 589.0 316.3 588.0 316.3 587.0 316.2 586.0 316.2 585.0 316.1 584.0 316.1 583.0 316.0 582.0 316.0 581.0 315.9 580.0 315.9 579.0 315.8 578.0 315.8 577.0 315.7 576.0 315.7 575.0 315.6 574.0 315.6 573.0 315.5 572.0 315.5 571.0 315.4 570.0 315.4 569.0 315.3 568.0 315.3 567.0 315.2 566.0 315.2 565.0 315.1 564.0 315.1 563.0 315.0 562.0 315.0 561.0 314.9 560.0 314.9 559.0 314.8 558.0 314.7 557.0 314.7 556.0 314.6 555.0 314.6 554.0 314.5 553.0 314.5 552.0 314.4 551.0 314.3 550.0 314.3 549.0 314.2 548.0 314.1 547.0 314.0 546.0 313.9 545.0 313.9 544.0 313.8 543.0 313.7 542.0 313.6 541.0 313.5 540.0 313.5 539.0 313.4 538.0 313.3 537.0 313.2 536.0 313.2 535.0 313.1 534.0 313.1 533.0 313.0 532.0 313.0 531.0 312.9 530.0 312.9 529.0 312.8 528.0 312.8 527.0 312.7 526.0 312.7 525.0 312.6 524.0 312.6 523.0 312.6 522.0 312.5 521.0 312.5 520.0 312.5 519.0 312.4 518.0 312.4 517.0 312.4 516.0 312.5 515.0 312.5 514.0 312.5 513.0 312.6 512.0 312.6 511.0 312.6 510.0 312.7 509.0 312.7 508.0 312.8 507.0 312.8 506.0 312.9 505.0 312.9 504.0 313.0 503.0 313.0 502.0 313.1 501.0 313.1 500.0 313.2 499.0 313.3 498.0 313.3 497.0 313.4 496.0 313.5 495.0 313.6 494.0 313.6 493.0 313.7 492.0 313.8 491.0 313.9 490.0 314.0 489.0 314.0 488.0 314.1 487.0 314.2 486.0 314.3 485.0 314.3 484.0 314.4 483.0 314.5 482.0 314.5 481.0 314.6 480.0 314.6 479.0 314.7 478.0 314.8 477.0 314.8 476.0 314.9 475.0 314.9 474.0 315.0 473.0 315.0 472.0 315.1 471.0 315.1 470.0 315.2 469.0 315.2 468.0 315.3 467.0 315.3 466.0 315.4 465.0 315.4 464.0 315.5 463.0 315.5 462.0 315.6 461.0 315.6 460.0 315.7 459.0 315.7 458.0 315.8 457.0 315.8 456.0 315.9 455.0 315.9 454.0 316.0 453.0 316.0 452.0 316.1 451.0 316.1 450.0 316.2 449.0 316.2 448.0 316.3 447.0 316.3 446.0 316.4 445.0 316.4 444.0 316.5 443.0 316.5 442.0 316.6 441.0 316.6 440.0 316.7 439.0 316.7 438.0 316.8 437.0 316.8 436.0 316.9 435.0 316.9 434.0 317.0 433.0 317.0 432.0 317.1 431.0 317.1 430.0 317.2 429.0 317.2 428.0 317.3 427.0 317.3 426.0 317.4 425.0 317.4 424.0 317.5 423.0 317.5 422.0 317.6 421.0 317.6 420.0 317.7 419.0 317.7Z" fill="url(#dD)"/><path d="M419.0 344.0 420.0 344.0 421.0 344.0 422.0 344.0 423.0 344.0 424.0 344.0 425.0 344.0 426.0 344.0 427.0 344.0 428.0 344.0 429.0 344.0 430.0 344.0 431.0 344.0 432.0 344.0 433.0 344.0 434.0 344.0 435.0 344.0 436.0 344.0 437.0 344.0 438.0 344.0 439.0 344.0 440.0 344.0 441.0 344.0 442.0 344.0 443.0 344.0 444.0 344.0 445.0 344.0 446.0 344.0 447.0 344.0 448.0 344.0 449.0 344.0 450.0 344.0 451.0 344.0 452.0 344.0 453.0 344.0 454.0 344.0 455.0 344.0 456.0 344.0 457.0 344.0 458.0 344.0 459.0 344.0 460.0 344.0 461.0 344.0 462.0 344.0 463.0 344.0 464.0 344.0 465.0 344.0 466.0 344.0 467.0 344.0 468.0 344.0 469.0 344.0 470.0 344.0 471.0 344.0 472.0 344.0 473.0 344.0 474.0 344.0 475.0 344.0 476.0 344.0 477.0 344.0 478.0 344.0 479.0 344.0 480.0 344.0 481.0 344.0 482.0 344.0 483.0 344.0 484.0 344.0 485.0 344.0 486.0 344.0 487.0 344.0 488.0 344.0 489.0 344.0 490.0 344.0 491.0 344.0 492.0 344.0 493.0 344.0 494.0 344.0 495.0 344.0 496.0 344.0 497.0 344.0 498.0 344.0 499.0 344.0 500.0 344.0 501.0 344.0 502.0 344.0 503.0 344.0 504.0 344.0 505.0 344.0 506.0 344.0 507.0 344.0 508.0 344.0 509.0 344.0 510.0 344.0 511.0 344.0 512.0 344.0 513.0 344.0 514.0 344.0 515.0 344.0 516.0 344.0 517.0 344.0 518.0 344.0 519.0 344.0 520.0 344.0 521.0 344.0 522.0 344.0 523.0 344.0 524.0 344.0 525.0 344.0 526.0 344.0 527.0 344.0 528.0 344.0 529.0 344.0 530.0 344.0 531.0 344.0 532.0 344.0 533.0 344.0 534.0 344.0 535.0 344.0 536.0 344.0 537.0 344.0 538.0 344.0 539.0 344.0 540.0 344.0 541.0 344.0 542.0 344.0 543.0 344.0 544.0 344.0 545.0 344.0 546.0 344.0 547.0 344.0 548.0 344.0 549.0 344.0 550.0 344.0 551.0 344.0 552.0 344.0 553.0 344.0 554.0 344.0 555.0 344.0 556.0 344.0 557.0 344.0 558.0 344.0 559.0 344.0 560.0 344.0 561.0 344.0 562.0 344.0 563.0 344.0 564.0 344.0 565.0 344.0 566.0 344.0 567.0 344.0 568.0 344.0 569.0 344.0 570.0 344.0 571.0 344.0 572.0 344.0 573.0 344.0 574.0 344.0 575.0 344.0 576.0 344.0 577.0 344.0 578.0 344.0 579.0 344.0 580.0 344.0 581.0 344.0 582.0 344.0 583.0 344.0 584.0 344.0 585.0 344.0 586.0 344.0 587.0 344.0 588.0 344.0 589.0 344.0 590.0 344.0 591.0 344.0 592.0 344.0 593.0 344.0 594.0 344.0 595.0 344.0 596.0 344.0 597.0 344.0 598.0 344.0 599.0 344.0 600.0 344.0 601.0 344.0 602.0 344.0 603.0 344.0 604.0 344.0 605.0 344.0 606.0 344.0 607.0 344.0 608.0 344.0 609.0 344.0 610.0 344.0 611.0 344.0 612.0 344.0 613.0 344.0 614.0 344.0 615.0 344.0 616.0 344.0 617.0 344.0 617.2 344.0 617.2 348.8 617.0 348.8 616.0 348.8 615.0 348.8 614.0 348.8 613.0 348.8 612.0 348.8 611.0 348.8 610.0 348.8 609.0 348.8 608.0 348.8 607.0 348.8 606.0 348.8 605.0 348.8 604.0 348.8 603.0 348.8 602.0 348.8 601.0 348.8 600.0 348.8 599.0 348.8 598.0 348.8 597.0 348.8 596.0 348.8 595.0 348.8 594.0 348.8 593.0 348.8 592.0 348.8 591.0 348.8 590.0 348.8 589.0 348.8 588.0 348.8 587.0 348.8 586.0 348.8 585.0 348.8 584.0 348.8 583.0 348.8 582.0 348.8 581.0 348.8 580.0 348.8 579.0 348.8 578.0 348.8 577.0 348.8 576.0 348.8 575.0 348.8 574.0 348.8 573.0 348.8 572.0 348.8 571.0 348.8 570.0 348.8 569.0 348.8 568.0 348.8 567.0 348.8 566.0 348.8 565.0 348.8 564.0 348.8 563.0 348.8 562.0 348.8 561.0 348.8 560.0 348.8 559.0 348.8 558.0 348.8 557.0 348.8 556.0 348.8 555.0 348.8 554.0 348.8 553.0 348.8 552.0 348.8 551.0 348.8 550.0 348.8 549.0 348.8 548.0 348.8 547.0 348.8 546.0 348.8 545.0 348.8 544.0 348.8 543.0 348.8 542.0 348.8 541.0 348.8 540.0 348.8 539.0 348.8 538.0 348.8 537.0 348.8 536.0 348.8 535.0 348.8 534.0 348.8 533.0 348.8 532.0 348.8 531.0 348.8 530.0 348.8 529.0 348.8 528.0 348.8 527.0 348.8 526.0 348.8 525.0 348.8 524.0 348.8 523.0 348.8 522.0 348.8 521.0 348.8 520.0 348.8 519.0 348.8 518.0 348.8 517.0 348.8 516.0 348.8 515.0 348.8 514.0 348.8 513.0 348.8 512.0 348.8 511.0 348.8 510.0 348.8 509.0 348.8 508.0 348.8 507.0 348.8 506.0 348.8 505.0 348.8 504.0 348.8 503.0 348.8 502.0 348.8 501.0 348.8 500.0 348.8 499.0 348.8 498.0 348.8 497.0 348.8 496.0 348.8 495.0 348.8 494.0 348.8 493.0 348.8 492.0 348.8 491.0 348.8 490.0 348.8 489.0 348.8 488.0 348.8 487.0 348.8 486.0 348.8 485.0 348.8 484.0 348.8 483.0 348.8 482.0 348.8 481.0 348.8 480.0 348.8 479.0 348.8 478.0 348.8 477.0 348.8 476.0 348.8 475.0 348.8 474.0 348.8 473.0 348.8 472.0 348.8 471.0 348.8 470.0 348.8 469.0 348.8 468.0 348.8 467.0 348.8 466.0 348.8 465.0 348.8 464.0 348.8 463.0 348.8 462.0 348.8 461.0 348.8 460.0 348.8 459.0 348.8 458.0 348.8 457.0 348.8 456.0 348.8 455.0 348.8 454.0 348.8 453.0 348.8 452.0 348.8 451.0 348.8 450.0 348.8 449.0 348.8 448.0 348.8 447.0 348.8 446.0 348.8 445.0 348.8 444.0 348.8 443.0 348.8 442.0 348.8 441.0 348.8 440.0 348.8 439.0 348.8 438.0 348.8 437.0 348.8 436.0 348.8 435.0 348.8 434.0 348.8 433.0 348.8 432.0 348.8 431.0 348.8 430.0 348.8 429.0 348.8 428.0 348.8 427.0 348.8 426.0 348.8 425.0 348.8 424.0 348.8 423.0 348.8 422.0 348.8 421.0 348.8 420.0 348.8 419.0 348.8Z" fill="url(#dE)"/><path d="M419.0 350.4 420.0 350.4 421.0 350.4 422.0 350.4 423.0 350.4 424.0 350.4 425.0 350.4 426.0 350.4 427.0 350.4 428.0 350.4 429.0 350.4 430.0 350.4 431.0 350.4 432.0 350.4 433.0 350.4 434.0 350.4 435.0 350.4 436.0 350.4 437.0 350.4 438.0 350.4 439.0 350.4 440.0 350.4 441.0 350.4 442.0 350.4 443.0 350.4 444.0 350.4 445.0 350.4 446.0 350.4 447.0 350.4 448.0 350.4 449.0 350.4 450.0 350.4 451.0 350.4 452.0 350.4 453.0 350.4 454.0 350.4 455.0 350.4 456.0 350.4 457.0 350.4 458.0 350.4 459.0 350.4 460.0 350.4 461.0 350.4 462.0 350.4 463.0 350.4 464.0 350.4 465.0 350.4 466.0 350.4 467.0 350.4 468.0 350.4 469.0 350.4 470.0 350.4 471.0 350.4 472.0 350.4 473.0 350.4 474.0 350.4 475.0 350.4 476.0 350.4 477.0 350.4 478.0 350.4 479.0 350.4 480.0 350.4 481.0 350.4 482.0 350.4 483.0 350.4 484.0 350.4 485.0 350.4 486.0 350.4 487.0 350.4 488.0 350.4 489.0 350.4 490.0 350.4 491.0 350.4 492.0 350.4 493.0 350.4 494.0 350.4 495.0 350.4 496.0 350.4 497.0 350.4 498.0 350.4 499.0 350.4 500.0 350.4 501.0 350.4 502.0 350.4 503.0 350.4 504.0 350.4 505.0 350.4 506.0 350.4 507.0 350.4 508.0 350.4 509.0 350.4 510.0 350.4 511.0 350.4 512.0 350.4 513.0 350.4 514.0 350.4 515.0 350.4 516.0 350.4 517.0 350.4 518.0 350.4 519.0 350.4 520.0 350.4 521.0 350.4 522.0 350.4 523.0 350.4 524.0 350.4 525.0 350.4 526.0 350.4 527.0 350.4 528.0 350.4 529.0 350.4 530.0 350.4 531.0 350.4 532.0 350.4 533.0 350.4 534.0 350.4 535.0 350.4 536.0 350.4 537.0 350.4 538.0 350.4 539.0 350.4 540.0 350.4 541.0 350.4 542.0 350.4 543.0 350.4 544.0 350.4 545.0 350.4 546.0 350.4 547.0 350.4 548.0 350.4 549.0 350.4 550.0 350.4 551.0 350.4 552.0 350.4 553.0 350.4 554.0 350.4 555.0 350.4 556.0 350.4 557.0 350.4 558.0 350.4 559.0 350.4 560.0 350.4 561.0 350.4 562.0 350.4 563.0 350.4 564.0 350.4 565.0 350.4 566.0 350.4 567.0 350.4 568.0 350.4 569.0 350.4 570.0 350.4 571.0 350.4 572.0 350.4 573.0 350.4 574.0 350.4 575.0 350.4 576.0 350.4 577.0 350.4 578.0 350.4 579.0 350.4 580.0 350.4 581.0 350.4 582.0 350.4 583.0 350.4 584.0 350.4 585.0 350.4 586.0 350.4 587.0 350.4 588.0 350.4 589.0 350.4 590.0 350.4 591.0 350.4 592.0 350.4 593.0 350.4 594.0 350.4 595.0 350.4 596.0 350.4 597.0 350.4 598.0 350.4 599.0 350.4 600.0 350.4 601.0 350.4 602.0 350.4 603.0 350.4 604.0 350.4 605.0 350.4 606.0 350.4 607.0 350.4 608.0 350.4 609.0 350.4 610.0 350.4 611.0 350.4 612.0 350.4 613.0 350.4 614.0 350.4 615.0 350.4 616.0 350.4 617.0 350.4 617.2 350.4 617.2 355.2 617.0 355.2 616.0 355.2 615.0 355.2 614.0 355.2 613.0 355.2 612.0 355.2 611.0 355.2 610.0 355.2 609.0 355.2 608.0 355.2 607.0 355.2 606.0 355.2 605.0 355.2 604.0 355.2 603.0 355.2 602.0 355.2 601.0 355.2 600.0 355.2 599.0 355.2 598.0 355.2 597.0 355.2 596.0 355.2 595.0 355.2 594.0 355.2 593.0 355.2 592.0 355.2 591.0 355.2 590.0 355.2 589.0 355.2 588.0 355.2 587.0 355.2 586.0 355.2 585.0 355.2 584.0 355.2 583.0 355.2 582.0 355.2 581.0 355.2 580.0 355.2 579.0 355.2 578.0 355.2 577.0 355.2 576.0 355.2 575.0 355.2 574.0 355.2 573.0 355.2 572.0 355.2 571.0 355.2 570.0 355.2 569.0 355.2 568.0 355.2 567.0 355.2 566.0 355.2 565.0 355.2 564.0 355.2 563.0 355.2 562.0 355.2 561.0 355.2 560.0 355.2 559.0 355.2 558.0 355.2 557.0 355.2 556.0 355.2 555.0 355.2 554.0 355.2 553.0 355.2 552.0 355.2 551.0 355.2 550.0 355.2 549.0 355.2 548.0 355.2 547.0 355.2 546.0 355.2 545.0 355.2 544.0 355.2 543.0 355.2 542.0 355.2 541.0 355.2 540.0 355.2 539.0 355.2 538.0 355.2 537.0 355.2 536.0 355.2 535.0 355.2 534.0 355.2 533.0 355.2 532.0 355.2 531.0 355.2 530.0 355.2 529.0 355.2 528.0 355.2 527.0 355.2 526.0 355.2 525.0 355.2 524.0 355.2 523.0 355.2 522.0 355.2 521.0 355.2 520.0 355.2 519.0 355.2 518.0 355.2 517.0 355.2 516.0 355.2 515.0 355.2 514.0 355.2 513.0 355.2 512.0 355.2 511.0 355.2 510.0 355.2 509.0 355.2 508.0 355.2 507.0 355.2 506.0 355.2 505.0 355.2 504.0 355.2 503.0 355.2 502.0 355.2 501.0 355.2 500.0 355.2 499.0 355.2 498.0 355.2 497.0 355.2 496.0 355.2 495.0 355.2 494.0 355.2 493.0 355.2 492.0 355.2 491.0 355.2 490.0 355.2 489.0 355.2 488.0 355.2 487.0 355.2 486.0 355.2 485.0 355.2 484.0 355.2 483.0 355.2 482.0 355.2 481.0 355.2 480.0 355.2 479.0 355.2 478.0 355.2 477.0 355.2 476.0 355.2 475.0 355.2 474.0 355.2 473.0 355.2 472.0 355.2 471.0 355.2 470.0 355.2 469.0 355.2 468.0 355.2 467.0 355.2 466.0 355.2 465.0 355.2 464.0 355.2 463.0 355.2 462.0 355.2 461.0 355.2 460.0 355.2 459.0 355.2 458.0 355.2 457.0 355.2 456.0 355.2 455.0 355.2 454.0 355.2 453.0 355.2 452.0 355.2 451.0 355.2 450.0 355.2 449.0 355.2 448.0 355.2 447.0 355.2 446.0 355.2 445.0 355.2 444.0 355.2 443.0 355.2 442.0 355.2 441.0 355.2 440.0 355.2 439.0 355.2 438.0 355.2 437.0 355.2 436.0 355.2 435.0 355.2 434.0 355.2 433.0 355.2 432.0 355.2 431.0 355.2 430.0 355.2 429.0 355.2 428.0 355.2 427.0 355.2 426.0 355.2 425.0 355.2 424.0 355.2 423.0 355.2 422.0 355.2 421.0 355.2 420.0 355.2 419.0 355.2Z" fill="url(#dF)"/></g></g><path fill="none" stroke="#000" stroke-width="1" d="M90.50 155.90v-4.70M90.50 5.50v4.70M130.50 155.90v-4.70M130.50 5.50v4.70M171.50 155.90v-4.70M171.50 5.50v4.70M211.50 155.90v-4.70M211.50 5.50v4.70M252.50 155.90v-4.70M252.50 5.50v4.70M73.50 155.90v-2.70M73.50 5.50v2.70M81.50 155.90v-2.70M81.50 5.50v2.70M98.50 155.90v-2.70M98.50 5.50v2.70M106.50 155.90v-2.70M106.50 5.50v2.70M114.50 155.90v-2.70M114.50 5.50v2.70M122.50 155.90v-2.70M122.50 5.50v2.70M138.50 155.90v-2.70M138.50 5.50v2.70M146.50 155.90v-2.70M146.50 5.50v2.70M154.50 155.90v-2.70M154.50 5.50v2.70M163.50 155.90v-2.70M163.50 5.50v2.70M179.50 155.90v-2.70M179.50 5.50v2.70M187.50 155.90v-2.70M187.50 5.50v2.70M195.50 155.90v-2.70M195.50 5.50v2.70M203.50 155.90v-2.70M203.50 5.50v2.70M219.50 155.90v-2.70M219.50 5.50v2.70M227.50 155.90v-2.70M227.50 5.50v2.70M236.50 155.90v-2.70M236.50 5.50v2.70M244.50 155.90v-2.70M244.50 5.50v2.70M260.50 155.90v-2.70M260.50 5.50v2.70M268.50 155.90v-2.70M268.50 5.50v2.70M72.30 125.50h4.70M270.50 125.50h-4.70M72.30 88.50h4.70M270.50 88.50h-4.70M72.30 50.50h4.70M270.50 50.50h-4.70M72.30 13.50h4.70M270.50 13.50h-4.70M72.30 155.50h2.70M270.50 155.50h-2.70M72.30 148.50h2.70M270.50 148.50h-2.70M72.30 140.50h2.70M270.50 140.50h-2.70M72.30 133.50h2.70M270.50 133.50h-2.70M72.30 118.50h2.70M270.50 118.50h-2.70M72.30 110.50h2.70M270.50 110.50h-2.70M72.30 103.50h2.70M270.50 103.50h-2.70M72.30 95.50h2.70M270.50 95.50h-2.70M72.30 80.50h2.70M270.50 80.50h-2.70M72.30 73.50h2.70M270.50 73.50h-2.70M72.30 65.50h2.70M270.50 65.50h-2.70M72.30 58.50h2.70M270.50 58.50h-2.70M72.30 43.50h2.70M270.50 43.50h-2.70M72.30 35.50h2.70M270.50 35.50h-2.70M72.30 28.50h2.70M270.50 28.50h-2.70M72.30 20.50h2.70M270.50 20.50h-2.70M72.30 5.50h2.70M270.50 5.50h-2.70"/><path fill="none" stroke="#000" stroke-width="1" d="M418.50 155.90v-4.70M418.50 5.50v4.70M517.50 155.90v-4.70M517.50 5.50v4.70M616.50 155.90v-4.70M616.50 5.50v4.70M438.50 155.90v-2.70M438.50 5.50v2.70M458.50 155.90v-2.70M458.50 5.50v2.70M478.50 155.90v-2.70M478.50 5.50v2.70M497.50 155.90v-2.70M497.50 5.50v2.70M537.50 155.90v-2.70M537.50 5.50v2.70M557.50 155.90v-2.70M557.50 5.50v2.70M577.50 155.90v-2.70M577.50 5.50v2.70M596.50 155.90v-2.70M596.50 5.50v2.70M418.60 125.50h4.70M616.80 125.50h-4.70M418.60 88.50h4.70M616.80 88.50h-4.70M418.60 50.50h4.70M616.80 50.50h-4.70M418.60 13.50h4.70M616.80 13.50h-4.70M418.60 155.50h2.70M616.80 155.50h-2.70M418.60 148.50h2.70M616.80 148.50h-2.70M418.60 140.50h2.70M616.80 140.50h-2.70M418.60 133.50h2.70M616.80 133.50h-2.70M418.60 118.50h2.70M616.80 118.50h-2.70M418.60 110.50h2.70M616.80 110.50h-2.70M418.60 103.50h2.70M616.80 103.50h-2.70M418.60 95.50h2.70M616.80 95.50h-2.70M418.60 80.50h2.70M616.80 80.50h-2.70M418.60 73.50h2.70M616.80 73.50h-2.70M418.60 65.50h2.70M616.80 65.50h-2.70M418.60 58.50h2.70M616.80 58.50h-2.70M418.60 43.50h2.70M616.80 43.50h-2.70M418.60 35.50h2.70M616.80 35.50h-2.70M418.60 28.50h2.70M616.80 28.50h-2.70M418.60 20.50h2.70M616.80 20.50h-2.70M418.60 5.50h2.70M616.80 5.50h-2.70"/><path fill="none" stroke="#000" stroke-width="1" d="M92.50 366.20v-4.70M92.50 216.60v4.70M131.50 366.20v-4.70M131.50 216.60v4.70M171.50 366.20v-4.70M171.50 216.60v4.70M210.50 366.20v-4.70M210.50 216.60v4.70M250.50 366.20v-4.70M250.50 216.60v4.70M76.50 366.20v-2.70M76.50 216.60v2.70M84.50 366.20v-2.70M84.50 216.60v2.70M100.50 366.20v-2.70M100.50 216.60v2.70M107.50 366.20v-2.70M107.50 216.60v2.70M115.50 366.20v-2.70M115.50 216.60v2.70M123.50 366.20v-2.70M123.50 216.60v2.70M139.50 366.20v-2.70M139.50 216.60v2.70M147.50 366.20v-2.70M147.50 216.60v2.70M155.50 366.20v-2.70M155.50 216.60v2.70M163.50 366.20v-2.70M163.50 216.60v2.70M178.50 366.20v-2.70M178.50 216.60v2.70M186.50 366.20v-2.70M186.50 216.60v2.70M194.50 366.20v-2.70M194.50 216.60v2.70M202.50 366.20v-2.70M202.50 216.60v2.70M218.50 366.20v-2.70M218.50 216.60v2.70M226.50 366.20v-2.70M226.50 216.60v2.70M234.50 366.20v-2.70M234.50 216.60v2.70M242.50 366.20v-2.70M242.50 216.60v2.70M257.50 366.20v-2.70M257.50 216.60v2.70M265.50 366.20v-2.70M265.50 216.60v2.70M72.50 347.50h4.70M270.30 347.50h-4.70M72.50 310.50h4.70M270.30 310.50h-4.70M72.50 272.50h4.70M270.30 272.50h-4.70M72.50 234.50h4.70M270.30 234.50h-4.70M72.50 357.50h2.70M270.30 357.50h-2.70M72.50 338.50h2.70M270.30 338.50h-2.70M72.50 328.50h2.70M270.30 328.50h-2.70M72.50 319.50h2.70M270.30 319.50h-2.70M72.50 300.50h2.70M270.30 300.50h-2.70M72.50 291.50h2.70M270.30 291.50h-2.70M72.50 281.50h2.70M270.30 281.50h-2.70M72.50 263.50h2.70M270.30 263.50h-2.70M72.50 253.50h2.70M270.30 253.50h-2.70M72.50 244.50h2.70M270.30 244.50h-2.70M72.50 225.50h2.70M270.30 225.50h-2.70"/><path fill="none" stroke="#000" stroke-width="1" d="M419.50 366.20v-4.70M419.50 216.60v4.70M518.50 366.20v-4.70M518.50 216.60v4.70M617.50 366.20v-4.70M617.50 216.60v4.70M438.50 366.20v-2.70M438.50 216.60v2.70M458.50 366.20v-2.70M458.50 216.60v2.70M478.50 366.20v-2.70M478.50 216.60v2.70M498.50 366.20v-2.70M498.50 216.60v2.70M537.50 366.20v-2.70M537.50 216.60v2.70M557.50 366.20v-2.70M557.50 216.60v2.70M577.50 366.20v-2.70M577.50 216.60v2.70M597.50 366.20v-2.70M597.50 216.60v2.70M419.00 345.50h4.70M617.20 345.50h-4.70M419.00 311.50h4.70M617.20 311.50h-4.70M419.00 276.50h4.70M617.20 276.50h-4.70M419.00 241.50h4.70M617.20 241.50h-4.70M419.00 363.50h2.70M617.20 363.50h-2.70M419.00 354.50h2.70M617.20 354.50h-2.70M419.00 337.50h2.70M617.20 337.50h-2.70M419.00 328.50h2.70M617.20 328.50h-2.70M419.00 319.50h2.70M617.20 319.50h-2.70M419.00 302.50h2.70M617.20 302.50h-2.70M419.00 293.50h2.70M617.20 293.50h-2.70M419.00 285.50h2.70M617.20 285.50h-2.70M419.00 267.50h2.70M617.20 267.50h-2.70M419.00 259.50h2.70M617.20 259.50h-2.70M419.00 250.50h2.70M617.20 250.50h-2.70M419.00 233.50h2.70M617.20 233.50h-2.70M419.00 224.50h2.70M617.20 224.50h-2.70"/><rect x="72.30" y="5.50" width="198.20" height="150.40" fill="none" stroke="#000" stroke-width="1.00"/><rect x="418.60" y="5.50" width="198.20" height="150.40" fill="none" stroke="#000" stroke-width="1.00"/><rect x="72.50" y="216.60" width="197.80" height="149.60" fill="none" stroke="#000" stroke-width="1.00"/><rect x="419.00" y="216.60" width="198.20" height="149.60" fill="none" stroke="#000" stroke-width="1.00"/><text x="66.80" y="130.40" text-anchor="end" font-size="14.00" textLength="45.8" lengthAdjust="spacingAndGlyphs">1.5200</text><text x="413.40" y="130.40" text-anchor="end" font-size="14.00" textLength="45.8" lengthAdjust="spacingAndGlyphs">1.5200</text><text x="66.80" y="92.90" text-anchor="end" font-size="14.00" textLength="45.8" lengthAdjust="spacingAndGlyphs">1.5225</text><text x="413.40" y="92.90" text-anchor="end" font-size="14.00" textLength="45.8" lengthAdjust="spacingAndGlyphs">1.5225</text><text x="66.80" y="55.40" text-anchor="end" font-size="14.00" textLength="45.8" lengthAdjust="spacingAndGlyphs">1.5250</text><text x="413.40" y="55.40" text-anchor="end" font-size="14.00" textLength="45.8" lengthAdjust="spacingAndGlyphs">1.5250</text><text x="66.80" y="17.90" text-anchor="end" font-size="14.00" textLength="45.8" lengthAdjust="spacingAndGlyphs">1.5275</text><text x="413.40" y="17.90" text-anchor="end" font-size="14.00" textLength="45.8" lengthAdjust="spacingAndGlyphs">1.5275</text><text x="67.20" y="352.51" text-anchor="end" font-size="14.00" textLength="37.4" lengthAdjust="spacingAndGlyphs">1.520</text><text x="413.40" y="350.89" text-anchor="end" font-size="14.00" textLength="36.6" lengthAdjust="spacingAndGlyphs">1.520</text><text x="67.20" y="314.94" text-anchor="end" font-size="14.00" textLength="37.4" lengthAdjust="spacingAndGlyphs">1.522</text><text x="413.40" y="316.16" text-anchor="end" font-size="14.00" textLength="36.6" lengthAdjust="spacingAndGlyphs">1.522</text><text x="67.20" y="277.37" text-anchor="end" font-size="14.00" textLength="37.4" lengthAdjust="spacingAndGlyphs">1.524</text><text x="413.40" y="281.43" text-anchor="end" font-size="14.00" textLength="36.6" lengthAdjust="spacingAndGlyphs">1.524</text><text x="67.20" y="239.80" text-anchor="end" font-size="14.00" textLength="37.4" lengthAdjust="spacingAndGlyphs">1.526</text><text x="413.40" y="246.70" text-anchor="end" font-size="14.00" textLength="36.6" lengthAdjust="spacingAndGlyphs">1.526</text><text x="90.08" y="170.00" text-anchor="middle" font-size="14.00" textLength="26.6" lengthAdjust="spacingAndGlyphs">−4<tspan font-style="italic">π</tspan></text><text x="130.64" y="170.00" text-anchor="middle" font-size="14.00" textLength="26.6" lengthAdjust="spacingAndGlyphs">−2<tspan font-style="italic">π</tspan></text><text x="171.20" y="170.00" text-anchor="middle" font-size="14.00" textLength="8.4" lengthAdjust="spacingAndGlyphs">0</text><text x="211.76" y="170.00" text-anchor="middle" font-size="14.00" textLength="16.0" lengthAdjust="spacingAndGlyphs">2<tspan font-style="italic">π</tspan></text><text x="252.32" y="170.00" text-anchor="middle" font-size="14.00" textLength="16.0" lengthAdjust="spacingAndGlyphs">4<tspan font-style="italic">π</tspan></text><text x="418.60" y="170.00" text-anchor="middle" font-size="14.00" textLength="19.0" lengthAdjust="spacingAndGlyphs">−<tspan font-style="italic">π</tspan></text><text x="517.70" y="170.00" text-anchor="middle" font-size="14.00" textLength="8.4" lengthAdjust="spacingAndGlyphs">0</text><text x="616.80" y="170.00" text-anchor="middle" font-size="14.00" textLength="8.4" lengthAdjust="spacingAndGlyphs"><tspan font-style="italic">π</tspan></text><text x="92.18" y="380.80" text-anchor="middle" font-size="14.00" textLength="26.6" lengthAdjust="spacingAndGlyphs">−4<tspan font-style="italic">π</tspan></text><text x="131.64" y="380.80" text-anchor="middle" font-size="14.00" textLength="26.6" lengthAdjust="spacingAndGlyphs">−2<tspan font-style="italic">π</tspan></text><text x="171.10" y="380.80" text-anchor="middle" font-size="14.00" textLength="8.4" lengthAdjust="spacingAndGlyphs">0</text><text x="210.56" y="380.80" text-anchor="middle" font-size="14.00" textLength="16.0" lengthAdjust="spacingAndGlyphs">2<tspan font-style="italic">π</tspan></text><text x="250.02" y="380.80" text-anchor="middle" font-size="14.00" textLength="16.0" lengthAdjust="spacingAndGlyphs">4<tspan font-style="italic">π</tspan></text><text x="419.00" y="380.80" text-anchor="middle" font-size="14.00" textLength="19.0" lengthAdjust="spacingAndGlyphs">−<tspan font-style="italic">π</tspan></text><text x="518.10" y="380.80" text-anchor="middle" font-size="14.00" textLength="8.4" lengthAdjust="spacingAndGlyphs">0</text><text x="617.20" y="380.80" text-anchor="middle" font-size="14.00" textLength="8.4" lengthAdjust="spacingAndGlyphs"><tspan font-style="italic">π</tspan></text><text x="171.40" y="188.90" text-anchor="middle" font-size="14.00" textLength="30.5" lengthAdjust="spacingAndGlyphs"><tspan font-style="italic">k</tspan><tspan font-size="9.4" dy="2.0">x</tspan><tspan dy="-2.0"> · </tspan><tspan font-style="italic">a</tspan></text><text x="517.70" y="188.90" text-anchor="middle" font-size="14.00" textLength="30.5" lengthAdjust="spacingAndGlyphs"><tspan font-style="italic">k</tspan><tspan font-size="9.4" dy="2.0">x</tspan><tspan dy="-2.0"> · </tspan><tspan font-style="italic">a</tspan></text><text x="171.40" y="399.70" text-anchor="middle" font-size="14.00" textLength="30.5" lengthAdjust="spacingAndGlyphs"><tspan font-style="italic">k</tspan><tspan font-size="9.4" dy="2.0">x</tspan><tspan dy="-2.0"> · </tspan><tspan font-style="italic">a</tspan></text><text x="518.10" y="399.70" text-anchor="middle" font-size="14.00" textLength="30.5" lengthAdjust="spacingAndGlyphs"><tspan font-style="italic">k</tspan><tspan font-size="9.4" dy="2.0">x</tspan><tspan dy="-2.0"> · </tspan><tspan font-style="italic">a</tspan></text><text transform="translate(13.60 80.70) rotate(-90)" text-anchor="middle" font-size="14.00"><tspan font-style="italic">E</tspan> (eV)</text><text transform="translate(359.90 80.70) rotate(-90)" text-anchor="middle" font-size="14.00"><tspan font-style="italic">E</tspan> (eV)</text><text transform="translate(13.60 291.40) rotate(-90)" text-anchor="middle" font-size="14.00"><tspan font-style="italic">E</tspan> (eV)</text><text transform="translate(359.90 291.40) rotate(-90)" text-anchor="middle" font-size="14.00"><tspan font-style="italic">E</tspan> (eV)</text><text x="-0.60" y="10.20" font-size="14.00" font-weight="bold">a</text><text x="345.20" y="10.20" font-size="14.00" font-weight="bold">b</text><text x="-0.20" y="216.00" font-size="14.00" font-weight="bold">c</text><text x="345.20" y="216.00" font-size="14.00" font-weight="bold">d</text><text x="84.40" y="126.10" font-size="14.00" textLength="25.4" lengthAdjust="spacingAndGlyphs">EXP</text><text x="436.70" y="126.10" font-size="14.00" textLength="25.4" lengthAdjust="spacingAndGlyphs">EXP</text><text x="86.60" y="336.20" font-size="14.00" textLength="23.6" lengthAdjust="spacingAndGlyphs">SIM</text><text x="433.80" y="336.10" font-size="14.00" textLength="23.6" lengthAdjust="spacingAndGlyphs">SIM</text><rect x="282.60" y="5.50" width="7.70" height="150.10" fill="url(#ga)" stroke="#000" stroke-width="1"/><path d="M290.30 5.50h4.6M290.30 155.60h4.6" stroke="#000" stroke-width="0.9"/><rect x="629.10" y="5.50" width="7.80" height="150.10" fill="url(#gb)" stroke="#000" stroke-width="1"/><path d="M636.90 5.50h4.6M636.90 80.55h4.6M636.90 155.60h4.6" stroke="#000" stroke-width="0.9"/><rect x="282.60" y="216.40" width="7.70" height="150.10" fill="url(#gc)" stroke="#000" stroke-width="1"/><path d="M290.30 216.40h4.6M290.30 366.50h4.6" stroke="#000" stroke-width="0.9"/><rect x="629.10" y="216.40" width="7.80" height="150.10" fill="url(#gd)" stroke="#000" stroke-width="1"/><path d="M636.90 216.40h4.6M636.90 291.45h4.6M636.90 366.50h4.6" stroke="#000" stroke-width="0.9"/><text x="299.90" y="10.40" font-size="14.00" textLength="7.4" lengthAdjust="spacingAndGlyphs">1</text><text x="299.90" y="160.50" font-size="14.00" textLength="8.2" lengthAdjust="spacingAndGlyphs">0</text><text x="646.50" y="10.40" font-size="14.00" textLength="7.4" lengthAdjust="spacingAndGlyphs">1</text><text x="646.50" y="85.45" font-size="14.00" textLength="8.2" lengthAdjust="spacingAndGlyphs">0</text><text x="645.60" y="160.50" font-size="14.00" textLength="18.6" lengthAdjust="spacingAndGlyphs">−1</text><text x="299.90" y="221.30" font-size="14.00" textLength="7.4" lengthAdjust="spacingAndGlyphs">1</text><text x="299.90" y="371.40" font-size="14.00" textLength="8.2" lengthAdjust="spacingAndGlyphs">0</text><text x="646.50" y="296.35" font-size="14.00" textLength="8.2" lengthAdjust="spacingAndGlyphs">0</text><text x="646.3" y="220.70" font-size="14.00"><tspan font-style="italic" font-size="15">σ</tspan><tspan font-size="11" dx="1.8" dy="2.2">+</tspan></text><text x="646.3" y="370.80" font-size="14.00"><tspan font-style="italic" font-size="15">σ</tspan><tspan font-size="11" dx="1.8" dy="2.2">−</tspan></text><text transform="translate(311.60 134.80) rotate(-90)" font-size="14.00" textLength="106.0" lengthAdjust="spacingAndGlyphs"><tspan font-style="italic">I</tspan><tspan font-size="9.4" dy="2.4" font-style="italic">σ</tspan><tspan font-size="6.8" dy="1.6">+</tspan><tspan dy="-4.0"> </tspan>+ <tspan font-style="italic">I</tspan><tspan font-size="9.4" dy="2.4" font-style="italic">σ</tspan><tspan font-size="6.8" dy="1.6">−</tspan><tspan dy="-4.0"> </tspan> (arb.u.)</text><text transform="translate(668.50 134.80) rotate(-90)" font-size="14.00" textLength="106.0" lengthAdjust="spacingAndGlyphs"><tspan font-style="italic">I</tspan><tspan font-size="9.4" dy="2.4" font-style="italic">σ</tspan><tspan font-size="6.8" dy="1.6">+</tspan><tspan dy="-4.0"> </tspan>− <tspan font-style="italic">I</tspan><tspan font-size="9.4" dy="2.4" font-style="italic">σ</tspan><tspan font-size="6.8" dy="1.6">−</tspan><tspan dy="-4.0"> </tspan> (arb.u.)</text><text transform="translate(315.00 305.60) rotate(-90)" font-size="14.00" textLength="28.5" lengthAdjust="spacingAndGlyphs">|<tspan font-style="italic">ψ</tspan><tspan font-size="9.4" dy="2.4" font-style="italic">k</tspan><tspan dy="-2.4">|</tspan><tspan font-size="9.4" dy="-5">2</tspan></text><text transform="translate(682.50 329.60) rotate(-90)" font-size="14.00" textLength="76.0" lengthAdjust="spacingAndGlyphs">⟨<tspan font-style="italic">σ</tspan><tspan font-size="9.4" dy="2.4">+</tspan><tspan dy="-2.4">⟩ − ⟨</tspan><tspan font-style="italic">σ</tspan><tspan font-size="9.4" dy="2.4">−</tspan><tspan dy="-2.4">⟩</tspan></text></svg></body></html>
